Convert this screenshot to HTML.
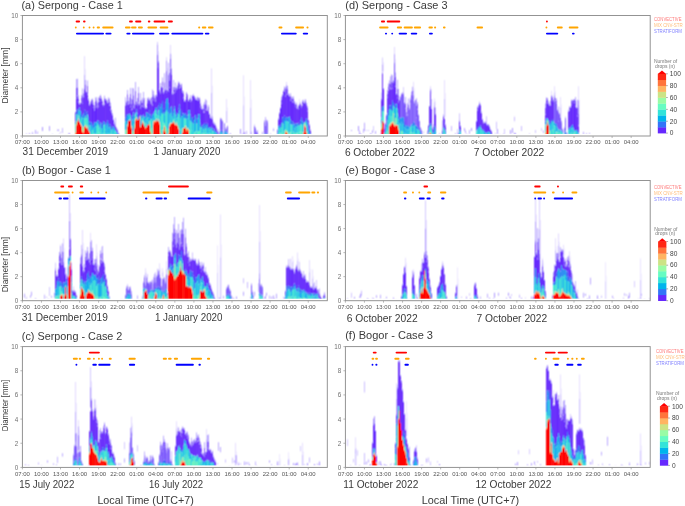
<!DOCTYPE html><html><head><meta charset="utf-8"><style>html,body{margin:0;padding:0;background:#fff;overflow:hidden}svg{display:block;will-change:transform}svg text{font-family:"Liberation Sans",sans-serif}</style></head><body>
<svg width="685" height="506" viewBox="0 0 685 506" font-family="Liberation Sans, sans-serif">
<defs><filter id="bl2" x="0" y="0" width="685" height="506" filterUnits="userSpaceOnUse"><feConvolveMatrix order="3" kernelMatrix="1 2 1 2 12 2 1 2 1" divisor="24" edgeMode="none" preserveAlpha="false"/></filter></defs>
<rect width="685" height="506" fill="#fff"/>
<g >
<defs><filter id="bl" x="0" y="0" width="685" height="506" filterUnits="userSpaceOnUse"><feConvolveMatrix order="3" kernelMatrix="1 2 1 2 4 2 1 2 1" divisor="16" edgeMode="none" preserveAlpha="false"/></filter></defs><g filter="url(#bl)">
<path fill="#fa0000" d="M75 134.3h1v1.7h-1zM127 126.8h1v9.2h-1zM129 120.5h1v15.5h-1zM130 120.5h1v15.5h-1zM139 118.2h1v17.8h-1zM141 120.2h1v15.8h-1zM142 122.6h1v13.4h-1zM143 124.6h1v11.4h-1zM149 125.5h1v10.5h-1zM156 120.6h1v15.4h-1zM158 121.4h1v14.6h-1zM168 134.0h1v2.0h-1zM169 126.7h1v9.3h-1zM172 122.4h1v13.6h-1zM188 132.2h1v3.8h-1zM285 132.6h1v3.4h-1zM306 133.6h1v2.4h-1z"/>
<path fill="#ff7a3a" d="M75 133.2h1v1.1h-1zM81 125.7h1v0.9h-1zM82 131.5h1v1.0h-1zM87 128.0h1v0.9h-1zM89 132.1h1v0.2h-1zM127 125.5h1v1.2h-1zM135 120.2h1v0.9h-1zM136 118.3h1v0.8h-1zM142 121.8h1v0.8h-1zM145 128.3h1v0.7h-1zM153 123.3h1v1.3h-1zM158 120.4h1v1.1h-1zM159 123.4h1v1.1h-1zM165 131.9h1v1.2h-1zM168 133.5h1v0.5h-1zM173 121.9h1v0.9h-1zM186 130.4h1v1.3h-1zM284 134.8h1v0.5h-1zM287 134.0h1v1.2h-1zM306 132.8h1v0.8h-1z"/>
<path fill="#ccd880" d="M75 132.0h1v1.1h-1zM76 124.1h1v0.8h-1zM80 123.4h1v0.5h-1zM81 124.8h1v0.9h-1zM82 130.6h1v1.0h-1zM83 131.4h1v1.1h-1zM84 126.4h1v0.1h-1zM86 126.7h1v0.9h-1zM127 124.3h1v1.2h-1zM130 120.4h1v0.1h-1zM134 127.1h1v1.2h-1zM139 116.5h1v0.8h-1zM140 126.3h1v0.7h-1zM150 130.9h1v1.0h-1zM152 133.5h1v0.6h-1zM156 118.5h1v1.1h-1zM160 132.6h1v1.2h-1zM163 129.3h1v1.1h-1zM165 130.8h1v1.2h-1zM168 132.9h1v0.5h-1zM170 122.7h1v0.9h-1zM171 123.1h1v0.4h-1zM174 122.3h1v1.1h-1zM175 124.3h1v0.5h-1zM285 131.1h1v0.8h-1zM286 130.9h1v0.8h-1zM304 124.2h1v1.1h-1z"/>
<path fill="#60f0c8" d="M75 129.8h1v2.3h-1zM135 114.7h1v4.5h-1zM158 115.1h1v4.1h-1zM163 122.3h1v7.0h-1zM164 123.6h1v2.1h-1zM185 125.4h1v0.7h-1zM284 130.7h1v3.6h-1zM305 122.8h1v3.3h-1z"/>
<path fill="#50ecd0" d="M75 124.0h1v5.7h-1zM84 117.9h1v8.4h-1zM85 115.7h1v7.7h-1zM87 114.5h1v10.6h-1zM89 125.2h1v6.7h-1zM92 129.9h1v4.3h-1zM97 123.6h1v10.4h-1zM98 125.0h1v7.8h-1zM104 124.6h1v8.8h-1zM111 129.7h1v4.5h-1zM115 131.5h1v3.9h-1zM117 133.9h1v2.1h-1zM130 117.4h1v3.0h-1zM140 116.5h1v3.7h-1zM142 118.0h1v2.8h-1zM155 110.0h1v7.3h-1zM162 113.9h1v12.8h-1zM166 110.5h1v17.5h-1zM178 114.1h1v12.1h-1zM184 118.2h1v10.2h-1zM185 118.4h1v7.1h-1zM190 120.8h1v9.3h-1zM196 123.6h1v8.1h-1zM200 127.0h1v6.0h-1zM203 128.8h1v4.6h-1zM205 128.5h1v5.5h-1zM212 130.5h1v3.6h-1zM218 135.6h1v0.4h-1zM219 135.5h1v0.5h-1zM265 134.8h1v1.2h-1zM282 122.8h1v8.6h-1zM291 124.5h1v8.2h-1zM300 124.3h1v7.4h-1zM301 124.2h1v7.6h-1zM304 122.4h1v0.5h-1z"/>
<path fill="#2f8cf2" d="M75 121.5h1v2.6h-1zM82 115.4h1v3.0h-1zM98 120.8h1v4.3h-1zM103 121.2h1v4.1h-1zM107 120.5h1v4.2h-1zM112 127.1h1v1.6h-1zM118 135.0h1v0.5h-1zM132 115.4h1v4.2h-1zM134 115.4h1v2.5h-1zM136 109.3h1v2.8h-1zM143 114.5h1v2.1h-1zM147 112.9h1v4.8h-1zM155 108.1h1v1.9h-1zM158 105.7h1v4.6h-1zM170 107.5h1v6.2h-1zM175 112.0h1v2.8h-1zM176 115.3h1v3.0h-1zM179 104.3h1v6.5h-1zM184 114.7h1v3.5h-1zM185 113.2h1v5.2h-1zM186 115.0h1v3.9h-1zM201 125.4h1v2.3h-1zM203 124.3h1v4.6h-1zM220 130.6h1v1.3h-1zM224 131.3h1v2.2h-1zM264 133.4h1v0.6h-1zM279 125.1h1v2.9h-1zM281 122.9h1v4.2h-1zM285 117.8h1v3.1h-1zM290 119.4h1v4.9h-1zM293 122.6h1v2.0h-1zM294 124.2h1v4.4h-1zM295 123.3h1v3.5h-1zM301 117.8h1v6.4h-1z"/>
<path fill="#6a30fc" d="M75 112.6h1v8.9h-1zM77 96.8h1v12.5h-1zM78 102.4h1v6.8h-1zM79 104.7h1v2.9h-1zM84 89.4h1v20.4h-1zM86 93.0h1v19.4h-1zM87 94.9h1v16.5h-1zM88 100.4h1v16.7h-1zM89 105.5h1v16.7h-1zM91 101.9h1v20.9h-1zM93 107.6h1v16.7h-1zM94 110.6h1v11.6h-1zM98 107.1h1v13.7h-1zM99 101.5h1v22.5h-1zM100 98.6h1v23.9h-1zM101 100.9h1v22.8h-1zM102 104.8h1v19.0h-1zM103 106.2h1v15.0h-1zM104 104.6h1v17.5h-1zM106 101.1h1v22.0h-1zM107 103.2h1v17.2h-1zM108 102.5h1v20.4h-1zM109 105.5h1v18.8h-1zM110 110.3h1v14.4h-1zM111 112.7h1v13.9h-1zM112 115.4h1v11.6h-1zM115 126.7h1v3.6h-1zM116 128.8h1v2.6h-1zM117 131.1h1v1.1h-1zM118 133.3h1v1.8h-1zM125 105.7h1v12.0h-1zM128 104.4h1v9.6h-1zM131 110.2h1v10.5h-1zM132 109.5h1v5.9h-1zM133 107.6h1v4.9h-1zM134 108.4h1v7.0h-1zM135 104.8h1v8.1h-1zM136 103.4h1v5.9h-1zM140 109.0h1v6.3h-1zM141 106.8h1v9.8h-1zM144 107.0h1v10.3h-1zM145 108.4h1v8.4h-1zM146 109.0h1v3.5h-1zM148 99.6h1v13.7h-1zM149 100.6h1v9.5h-1zM150 103.2h1v11.2h-1zM152 105.8h1v8.2h-1zM154 98.2h1v13.4h-1zM155 101.4h1v6.7h-1zM156 96.5h1v11.3h-1zM157 66.4h1v46.2h-1zM159 91.6h1v11.4h-1zM160 93.9h1v13.6h-1zM163 93.7h1v15.1h-1zM164 92.0h1v16.1h-1zM165 90.3h1v12.2h-1zM166 93.0h1v6.0h-1zM167 90.8h1v7.7h-1zM168 91.9h1v11.3h-1zM170 68.7h1v38.8h-1zM171 74.6h1v31.8h-1zM176 90.1h1v25.2h-1zM177 89.0h1v24.3h-1zM178 85.9h1v22.4h-1zM182 92.7h1v20.7h-1zM190 102.0h1v12.6h-1zM192 96.1h1v21.2h-1zM193 96.1h1v22.0h-1zM194 97.9h1v18.6h-1zM197 100.3h1v18.0h-1zM200 108.1h1v15.2h-1zM201 109.0h1v16.4h-1zM203 112.6h1v11.6h-1zM204 112.5h1v10.5h-1zM207 110.4h1v13.3h-1zM211 118.2h1v8.6h-1zM212 119.4h1v9.1h-1zM213 123.3h1v5.3h-1zM214 125.1h1v4.5h-1zM215 125.4h1v5.7h-1zM217 131.6h1v2.4h-1zM278 119.7h1v6.9h-1zM279 114.0h1v11.1h-1zM282 96.3h1v21.0h-1zM283 91.3h1v25.8h-1zM284 91.8h1v23.8h-1zM285 96.4h1v21.5h-1zM287 94.5h1v23.0h-1zM291 101.1h1v20.0h-1zM293 102.3h1v20.3h-1zM294 103.3h1v20.9h-1zM295 106.7h1v16.6h-1zM297 108.6h1v15.0h-1zM300 103.9h1v16.5h-1zM302 105.7h1v15.5h-1zM303 103.1h1v19.9h-1zM304 103.3h1v19.0h-1zM305 101.3h1v19.7h-1zM307 111.3h1v11.3h-1zM310 131.1h1v3.1h-1z"/>
<path fill="#9070fe" d="M75 112.1h1v0.5h-1zM76 97.9h1v0.7h-1zM77 95.3h1v1.5h-1zM78 101.3h1v1.1h-1zM79 104.0h1v0.7h-1zM80 103.0h1v1.1h-1zM81 101.8h1v0.9h-1zM82 102.9h1v0.9h-1zM83 96.4h1v1.1h-1zM84 88.8h1v0.6h-1zM85 89.8h1v1.1h-1zM86 92.1h1v0.9h-1zM87 94.3h1v0.6h-1zM88 99.3h1v1.1h-1zM89 104.5h1v1.1h-1zM90 103.3h1v0.8h-1zM91 100.7h1v1.2h-1zM92 102.6h1v1.4h-1zM93 106.9h1v0.7h-1zM94 109.2h1v1.4h-1zM95 107.2h1v0.5h-1zM96 105.9h1v0.7h-1zM97 107.2h1v1.1h-1zM98 106.4h1v0.6h-1zM99 100.1h1v1.3h-1zM100 97.3h1v1.3h-1zM101 100.1h1v0.8h-1zM102 103.4h1v1.4h-1zM103 104.9h1v1.4h-1zM104 103.5h1v1.1h-1zM105 99.0h1v1.2h-1zM106 99.7h1v1.4h-1zM107 102.3h1v1.0h-1zM108 101.2h1v1.4h-1zM109 104.7h1v0.8h-1zM110 109.0h1v1.3h-1zM111 111.3h1v1.4h-1zM112 114.2h1v1.2h-1zM113 119.4h1v0.8h-1zM114 123.5h1v1.2h-1zM115 125.4h1v1.3h-1zM116 127.4h1v1.4h-1zM117 129.9h1v1.2h-1zM118 132.9h1v0.3h-1zM119 135.5h1v0.5h-1zM125 105.1h1v0.7h-1zM126 101.4h1v1.1h-1zM127 103.5h1v1.4h-1zM128 103.2h1v1.2h-1zM129 103.3h1v0.6h-1zM130 106.0h1v1.2h-1zM131 109.4h1v0.8h-1zM132 108.1h1v1.4h-1zM133 106.5h1v1.1h-1zM134 107.0h1v1.4h-1zM135 103.4h1v1.4h-1zM136 102.0h1v1.4h-1zM137 104.8h1v1.2h-1zM138 102.5h1v1.4h-1zM139 104.3h1v1.1h-1zM140 107.6h1v1.4h-1zM141 105.6h1v1.2h-1zM142 105.5h1v1.4h-1zM143 106.4h1v1.2h-1zM144 105.9h1v1.1h-1zM145 107.8h1v0.7h-1zM146 107.9h1v1.1h-1zM147 101.9h1v1.4h-1zM148 98.2h1v1.4h-1zM149 99.4h1v1.2h-1zM150 101.7h1v1.5h-1zM151 103.7h1v1.0h-1zM152 104.5h1v1.3h-1zM153 99.7h1v0.8h-1zM154 97.3h1v0.9h-1zM155 100.4h1v1.1h-1zM156 95.2h1v1.4h-1zM157 65.9h1v0.5h-1zM158 61.3h1v1.5h-1zM159 90.2h1v1.4h-1zM160 92.8h1v1.1h-1zM161 87.0h1v0.7h-1zM162 86.5h1v1.2h-1zM163 92.3h1v1.4h-1zM164 90.8h1v1.2h-1zM165 89.7h1v0.6h-1zM166 91.9h1v1.1h-1zM167 90.3h1v0.5h-1zM168 90.5h1v1.4h-1zM169 87.3h1v0.9h-1zM170 67.5h1v1.1h-1zM171 73.3h1v1.4h-1zM172 93.5h1v1.4h-1zM173 92.5h1v1.3h-1zM174 92.2h1v1.1h-1zM175 90.9h1v1.1h-1zM176 89.1h1v1.0h-1zM177 88.0h1v1.0h-1zM178 84.9h1v1.0h-1zM179 87.6h1v0.9h-1zM180 87.4h1v0.6h-1zM181 85.8h1v0.6h-1zM182 92.0h1v0.7h-1zM183 97.6h1v1.4h-1zM184 101.1h1v0.9h-1zM185 100.1h1v1.5h-1zM186 95.5h1v1.0h-1zM187 96.9h1v1.2h-1zM188 100.6h1v0.7h-1zM189 98.9h1v0.6h-1zM190 100.9h1v1.0h-1zM191 100.2h1v1.2h-1zM192 95.2h1v0.9h-1zM193 95.3h1v0.9h-1zM194 97.3h1v0.6h-1zM195 98.7h1v1.1h-1zM196 99.4h1v0.6h-1zM197 99.2h1v1.1h-1zM198 99.6h1v1.4h-1zM199 99.1h1v0.7h-1zM200 107.0h1v1.1h-1zM201 108.4h1v0.6h-1zM202 108.9h1v1.1h-1zM203 111.5h1v1.1h-1zM204 111.4h1v1.1h-1zM205 109.2h1v0.7h-1zM206 108.9h1v1.4h-1zM207 109.7h1v0.7h-1zM208 110.6h1v0.9h-1zM209 113.9h1v1.0h-1zM210 117.4h1v1.3h-1zM211 117.5h1v0.7h-1zM212 118.3h1v1.2h-1zM213 122.3h1v0.9h-1zM214 123.8h1v1.4h-1zM215 124.7h1v0.7h-1zM216 127.5h1v1.2h-1zM217 130.8h1v0.7h-1zM218 134.6h1v0.7h-1zM219 134.8h1v0.3h-1zM220 118.3h1v0.9h-1zM221 118.9h1v0.8h-1zM222 120.9h1v1.1h-1zM224 123.0h1v0.6h-1zM225 128.6h1v1.1h-1zM226 128.4h1v1.2h-1zM227 126.1h1v0.7h-1zM254 125.7h1v1.1h-1zM255 127.8h1v0.6h-1zM256 131.6h1v1.4h-1zM257 131.3h1v1.5h-1zM264 121.2h1v1.0h-1zM265 125.4h1v0.6h-1zM266 120.3h1v0.7h-1zM267 121.2h1v1.4h-1zM277 129.4h1v1.5h-1zM278 118.5h1v1.2h-1zM279 112.6h1v1.4h-1zM280 107.5h1v0.8h-1zM281 103.1h1v0.9h-1zM282 94.9h1v1.4h-1zM283 90.6h1v0.7h-1zM284 90.5h1v1.3h-1zM285 94.9h1v1.5h-1zM286 94.2h1v0.6h-1zM287 93.9h1v0.7h-1zM288 94.0h1v1.3h-1zM289 95.5h1v1.1h-1zM290 99.9h1v1.1h-1zM291 100.1h1v1.0h-1zM292 101.4h1v1.0h-1zM293 100.9h1v1.4h-1zM294 102.1h1v1.2h-1zM295 106.0h1v0.7h-1zM296 106.9h1v1.4h-1zM297 108.1h1v0.5h-1zM298 108.2h1v1.1h-1zM299 105.1h1v0.6h-1zM300 103.4h1v0.5h-1zM301 107.1h1v0.9h-1zM302 104.5h1v1.3h-1zM303 102.6h1v0.6h-1zM304 102.6h1v0.7h-1zM305 100.3h1v1.1h-1zM306 104.0h1v1.4h-1zM307 110.7h1v0.5h-1zM308 119.9h1v1.1h-1zM309 125.0h1v1.4h-1zM310 130.3h1v0.7h-1zM311 135.5h1v0.4h-1z"/>
<path fill="#cfc4ff" d="M75 111.5h1v0.6h-1zM76 97.0h1v0.9h-1zM77 94.3h1v1.0h-1zM78 99.8h1v1.4h-1zM79 102.6h1v1.4h-1zM80 102.5h1v0.4h-1zM81 101.4h1v0.3h-1zM82 102.3h1v0.6h-1zM83 95.6h1v0.8h-1zM84 88.3h1v0.6h-1zM85 88.5h1v1.2h-1zM86 91.8h1v0.3h-1zM87 93.7h1v0.6h-1zM88 98.1h1v1.2h-1zM89 103.5h1v0.9h-1zM90 102.6h1v0.7h-1zM91 99.5h1v1.2h-1zM92 101.4h1v1.2h-1zM93 105.5h1v1.4h-1zM94 108.2h1v1.0h-1zM95 106.7h1v0.5h-1zM96 105.3h1v0.6h-1zM97 106.4h1v0.8h-1zM98 105.8h1v0.7h-1zM99 98.8h1v1.3h-1zM100 96.0h1v1.3h-1zM101 98.9h1v1.2h-1zM102 102.3h1v1.1h-1zM103 103.6h1v1.3h-1zM104 102.5h1v0.9h-1zM105 98.4h1v0.6h-1zM106 98.5h1v1.2h-1zM107 100.8h1v1.5h-1zM108 100.3h1v0.9h-1zM109 104.0h1v0.8h-1zM110 108.7h1v0.3h-1zM111 110.4h1v0.9h-1zM112 113.1h1v1.1h-1zM113 118.3h1v1.0h-1zM114 122.0h1v1.5h-1zM115 124.4h1v1.1h-1zM116 127.0h1v0.3h-1zM117 128.8h1v1.1h-1zM118 132.3h1v0.6h-1zM119 134.1h1v1.4h-1zM125 104.0h1v1.1h-1zM126 100.4h1v1.1h-1zM127 102.9h1v0.6h-1zM128 102.7h1v0.5h-1zM129 102.8h1v0.5h-1zM130 104.9h1v1.1h-1zM131 108.7h1v0.7h-1zM132 107.7h1v0.4h-1zM133 105.9h1v0.6h-1zM134 105.6h1v1.4h-1zM135 102.2h1v1.2h-1zM136 100.7h1v1.3h-1zM137 104.1h1v0.7h-1zM138 101.1h1v1.4h-1zM139 103.2h1v1.0h-1zM140 107.1h1v0.5h-1zM141 104.3h1v1.3h-1zM142 104.2h1v1.3h-1zM143 104.9h1v1.4h-1zM144 104.9h1v1.0h-1zM145 107.0h1v0.8h-1zM146 106.9h1v0.9h-1zM147 100.4h1v1.5h-1zM148 96.9h1v1.3h-1zM149 98.5h1v0.9h-1zM150 100.6h1v1.2h-1zM151 102.9h1v0.7h-1zM152 103.4h1v1.2h-1zM153 99.1h1v0.6h-1zM154 95.9h1v1.4h-1zM155 99.3h1v1.1h-1zM156 94.6h1v0.6h-1zM157 65.2h1v0.7h-1zM158 60.6h1v0.7h-1zM159 89.5h1v0.6h-1zM160 92.0h1v0.8h-1zM161 86.3h1v0.7h-1zM162 85.6h1v0.8h-1zM163 91.3h1v1.0h-1zM164 89.9h1v0.9h-1zM165 88.4h1v1.3h-1zM166 91.2h1v0.7h-1zM167 89.5h1v0.8h-1zM168 89.9h1v0.7h-1zM169 86.8h1v0.4h-1zM170 66.6h1v0.9h-1zM171 71.9h1v1.4h-1zM172 92.1h1v1.4h-1zM173 91.3h1v1.2h-1zM174 91.4h1v0.8h-1zM175 90.5h1v0.4h-1zM176 88.0h1v1.2h-1zM177 86.5h1v1.5h-1zM178 84.3h1v0.6h-1zM179 87.1h1v0.5h-1zM180 87.0h1v0.5h-1zM181 84.4h1v1.3h-1zM182 90.5h1v1.5h-1zM183 96.8h1v0.8h-1zM184 100.5h1v0.6h-1zM185 99.3h1v0.8h-1zM186 94.3h1v1.2h-1zM187 96.0h1v0.9h-1zM188 100.0h1v0.5h-1zM189 97.7h1v1.3h-1zM190 99.7h1v1.2h-1zM191 99.5h1v0.7h-1zM192 94.7h1v0.5h-1zM193 93.8h1v1.4h-1zM194 96.3h1v1.0h-1zM195 98.2h1v0.5h-1zM196 98.6h1v0.8h-1zM197 98.4h1v0.8h-1zM198 98.3h1v1.4h-1zM199 97.7h1v1.4h-1zM200 106.5h1v0.5h-1zM201 107.4h1v1.1h-1zM202 108.4h1v0.5h-1zM203 111.2h1v0.3h-1zM204 110.5h1v0.9h-1zM205 108.5h1v0.7h-1zM206 107.5h1v1.4h-1zM207 108.7h1v1.1h-1zM208 109.5h1v1.0h-1zM209 113.3h1v0.6h-1zM210 116.2h1v1.2h-1zM211 116.5h1v0.9h-1zM212 117.5h1v0.8h-1zM213 121.5h1v0.9h-1zM214 122.6h1v1.2h-1zM215 123.4h1v1.3h-1zM216 126.5h1v0.9h-1zM217 129.5h1v1.3h-1zM218 133.1h1v1.5h-1zM219 134.2h1v0.6h-1zM220 117.8h1v0.5h-1zM221 118.1h1v0.7h-1zM222 120.3h1v0.7h-1zM224 122.7h1v0.3h-1zM225 127.3h1v1.3h-1zM226 127.3h1v1.1h-1zM227 125.3h1v0.7h-1zM254 124.4h1v1.3h-1zM255 126.9h1v0.9h-1zM256 130.2h1v1.3h-1zM257 129.9h1v1.5h-1zM264 120.0h1v1.2h-1zM265 124.6h1v0.8h-1zM266 119.5h1v0.7h-1zM267 120.3h1v0.9h-1zM277 129.0h1v0.4h-1zM278 117.7h1v0.8h-1zM279 112.0h1v0.6h-1zM280 106.9h1v0.6h-1zM281 101.8h1v1.3h-1zM282 94.1h1v0.8h-1zM283 90.0h1v0.6h-1zM284 89.5h1v1.0h-1zM285 94.0h1v0.9h-1zM286 93.4h1v0.7h-1zM287 93.2h1v0.6h-1zM288 93.0h1v1.0h-1zM289 94.4h1v1.1h-1zM290 99.2h1v0.6h-1zM291 99.3h1v0.8h-1zM292 100.6h1v0.8h-1zM293 99.5h1v1.4h-1zM294 101.0h1v1.1h-1zM295 104.5h1v1.4h-1zM296 105.5h1v1.4h-1zM297 106.6h1v1.5h-1zM298 107.3h1v0.9h-1zM299 104.8h1v0.3h-1zM300 102.3h1v1.1h-1zM301 106.3h1v0.8h-1zM302 103.4h1v1.1h-1zM303 102.0h1v0.6h-1zM304 101.3h1v1.2h-1zM305 99.9h1v0.3h-1zM306 102.7h1v1.3h-1zM307 109.8h1v1.0h-1zM308 119.5h1v0.3h-1zM309 124.1h1v0.8h-1zM310 129.1h1v1.3h-1zM311 134.7h1v0.8h-1z"/>
<path fill="#ff0000" d="M76 125.6h1v10.4h-1zM79 121.6h1v14.4h-1zM80 124.4h1v11.6h-1zM81 126.6h1v9.4h-1zM82 132.5h1v3.5h-1zM84 126.6h1v9.4h-1zM128 120.5h1v15.5h-1zM144 125.5h1v10.5h-1zM147 124.8h1v11.2h-1zM150 132.9h1v3.1h-1zM154 121.8h1v14.2h-1zM159 124.5h1v11.5h-1zM164 127.1h1v8.9h-1zM165 133.1h1v2.9h-1zM173 122.8h1v13.2h-1zM187 129.5h1v6.5h-1zM284 135.3h1v0.7h-1zM286 132.4h1v3.6h-1zM287 135.2h1v0.8h-1z"/>
<path fill="#ff6030" d="M76 124.8h1v0.8h-1zM80 123.9h1v0.5h-1zM83 132.6h1v1.1h-1zM84 126.5h1v0.1h-1zM129 120.0h1v0.5h-1zM134 128.3h1v1.2h-1zM140 126.9h1v0.7h-1zM152 134.2h1v0.6h-1zM160 133.9h1v1.2h-1zM169 126.2h1v0.5h-1zM174 123.4h1v1.1h-1zM176 124.5h1v1.3h-1zM177 125.7h1v0.2h-1zM178 128.8h1v0.9h-1zM182 132.4h1v0.7h-1zM183 128.3h1v0.5h-1zM185 127.1h1v1.0h-1zM188 130.9h1v1.3h-1z"/>
<path fill="#a0f0a0" d="M76 121.4h1v2.7h-1zM83 127.1h1v4.3h-1zM87 125.1h1v2.0h-1zM131 125.5h1v1.1h-1zM142 120.8h1v0.2h-1zM149 120.9h1v3.0h-1zM153 120.6h1v1.4h-1zM165 127.2h1v3.5h-1zM169 123.9h1v1.8h-1zM182 128.2h1v3.5h-1zM287 131.7h1v1.0h-1z"/>
<path fill="#40e0d8" d="M76 114.0h1v7.4h-1zM81 117.3h1v3.6h-1zM86 118.3h1v8.5h-1zM90 133.1h1v2.9h-1zM92 134.2h1v1.8h-1zM96 126.0h1v7.4h-1zM98 132.8h1v3.2h-1zM99 127.6h1v5.2h-1zM101 133.4h1v2.6h-1zM101 128.3h1v5.0h-1zM109 134.4h1v1.6h-1zM114 130.9h1v4.4h-1zM115 135.5h1v0.5h-1zM135 113.4h1v1.4h-1zM147 117.7h1v7.4h-1zM150 118.9h1v5.0h-1zM151 119.6h1v8.8h-1zM158 110.4h1v4.8h-1zM160 115.9h1v9.7h-1zM161 112.8h1v17.5h-1zM165 112.0h1v15.2h-1zM191 122.8h1v7.5h-1zM193 130.0h1v6.0h-1zM193 123.5h1v6.5h-1zM200 133.1h1v2.9h-1zM206 133.4h1v2.6h-1zM208 134.0h1v2.0h-1zM213 134.5h1v1.5h-1zM213 131.5h1v3.0h-1zM217 134.9h1v1.0h-1zM221 132.2h1v3.8h-1zM277 134.4h1v1.2h-1zM279 128.0h1v5.1h-1zM280 133.7h1v2.3h-1zM287 121.3h1v10.4h-1zM288 131.8h1v4.2h-1zM290 124.3h1v7.9h-1zM291 132.7h1v3.3h-1zM295 132.9h1v3.1h-1zM297 126.3h1v7.1h-1zM299 125.7h1v6.9h-1zM302 132.6h1v3.4h-1zM307 131.5h1v4.5h-1zM310 134.9h1v0.8h-1zM311 135.9h1v0.1h-1z"/>
<path fill="#4a58f8" d="M76 110.5h1v3.5h-1zM78 109.3h1v1.5h-1zM81 114.1h1v3.2h-1zM84 109.8h1v8.2h-1zM85 110.3h1v5.5h-1zM87 111.4h1v3.1h-1zM99 123.9h1v3.6h-1zM111 126.6h1v3.2h-1zM116 131.3h1v1.3h-1zM137 113.5h1v4.1h-1zM141 116.6h1v2.2h-1zM163 108.8h1v4.0h-1zM164 108.1h1v6.1h-1zM173 109.9h1v3.8h-1zM178 108.3h1v5.8h-1zM180 109.4h1v8.6h-1zM182 113.4h1v3.0h-1zM187 115.5h1v3.1h-1zM193 118.1h1v5.4h-1zM194 116.4h1v3.7h-1zM196 119.0h1v4.6h-1zM200 123.3h1v3.7h-1zM205 124.0h1v4.5h-1zM206 122.7h1v2.2h-1zM208 126.1h1v2.0h-1zM266 133.9h1v0.5h-1zM280 125.5h1v2.2h-1zM287 117.5h1v3.8h-1zM298 122.9h1v2.4h-1zM299 123.6h1v2.1h-1zM308 128.3h1v2.1h-1zM309 132.1h1v0.8h-1zM311 135.8h1v0.1h-1z"/>
<path fill="#6228fe" d="M76 98.6h1v11.9h-1zM92 104.0h1v21.7h-1zM95 107.7h1v15.1h-1zM96 106.6h1v15.5h-1zM113 120.2h1v6.2h-1zM130 107.2h1v8.3h-1zM139 105.4h1v11.1h-1zM142 106.8h1v9.0h-1zM143 107.5h1v7.0h-1zM147 103.2h1v9.6h-1zM153 100.6h1v12.0h-1zM158 62.8h1v43.0h-1zM162 87.6h1v13.5h-1zM169 88.2h1v20.9h-1zM175 91.9h1v20.0h-1zM181 86.4h1v24.5h-1zM183 99.0h1v14.2h-1zM184 102.0h1v12.7h-1zM185 101.6h1v11.6h-1zM188 101.2h1v9.2h-1zM189 99.6h1v10.6h-1zM195 99.7h1v15.3h-1zM196 100.0h1v19.0h-1zM198 101.0h1v13.3h-1zM202 110.1h1v15.6h-1zM209 114.9h1v12.7h-1zM210 118.6h1v9.2h-1zM280 108.3h1v17.2h-1zM281 104.1h1v18.9h-1zM288 95.3h1v22.1h-1zM290 100.9h1v18.5h-1zM292 102.4h1v18.9h-1zM299 105.7h1v18.0h-1z"/>
<path fill="#6a38fc" fill-opacity="0.85" d="M76 87.8h1v10.1h-1zM77 87.5h1v7.8h-1zM78 98.8h1v2.5h-1zM81 97.7h1v4.1h-1zM82 95.9h1v7.0h-1zM85 84.6h1v5.1h-1zM87 85.7h1v8.6h-1zM92 99.8h1v2.8h-1zM93 104.9h1v2.0h-1zM95 101.4h1v5.8h-1zM96 100.2h1v5.7h-1zM98 102.0h1v4.4h-1zM99 97.7h1v2.5h-1zM100 96.2h1v1.1h-1zM101 98.9h1v1.2h-1zM102 101.8h1v1.6h-1zM104 98.3h1v5.2h-1zM108 99.3h1v1.9h-1zM109 101.2h1v3.6h-1zM110 105.9h1v3.1h-1zM127 94.3h1v9.2h-1zM130 93.9h1v12.1h-1zM131 104.0h1v5.4h-1zM132 99.6h1v8.5h-1zM133 95.3h1v11.3h-1zM135 91.1h1v12.3h-1zM138 92.8h1v9.8h-1zM140 100.5h1v7.1h-1zM141 102.5h1v3.2h-1zM142 102.4h1v3.1h-1zM143 99.7h1v6.7h-1zM152 97.1h1v7.4h-1zM153 94.6h1v5.1h-1zM157 54.6h1v11.3h-1zM162 81.5h1v5.0h-1zM164 82.3h1v8.5h-1zM166 70.7h1v21.2h-1zM168 74.7h1v15.8h-1zM169 80.4h1v6.8h-1zM170 58.9h1v8.7h-1zM173 86.9h1v5.6h-1zM174 89.9h1v2.3h-1zM175 87.2h1v3.7h-1zM178 82.8h1v2.1h-1zM179 84.1h1v3.5h-1zM181 84.8h1v0.9h-1zM183 93.5h1v4.1h-1zM186 93.6h1v1.8h-1zM187 95.3h1v1.6h-1zM190 98.1h1v2.9h-1zM194 96.6h1v0.6h-1zM195 97.9h1v0.7h-1zM197 97.5h1v1.7h-1zM198 98.6h1v1.0h-1zM199 98.4h1v0.7h-1zM203 108.4h1v3.1h-1zM204 105.0h1v6.4h-1zM205 103.7h1v5.5h-1zM206 105.2h1v3.7h-1zM208 107.0h1v3.6h-1zM281 99.7h1v3.4h-1zM284 88.6h1v1.9h-1zM285 89.6h1v5.3h-1zM286 88.5h1v5.7h-1zM287 89.0h1v4.9h-1zM290 96.2h1v3.6h-1zM291 98.6h1v1.5h-1zM292 99.0h1v2.4h-1zM293 98.7h1v2.2h-1zM295 104.9h1v1.1h-1zM296 104.6h1v2.3h-1zM298 106.3h1v1.9h-1zM302 102.1h1v2.3h-1zM303 101.4h1v1.2h-1zM305 99.7h1v0.5h-1zM307 108.0h1v2.8h-1z"/>
<path fill="#9074ff" fill-opacity="0.6" d="M76 79.0h1v8.8h-1zM77 78.7h1v8.8h-1zM78 95.3h1v3.5h-1zM81 94.9h1v2.8h-1zM82 88.5h1v7.5h-1zM85 80.0h1v4.6h-1zM87 80.5h1v5.2h-1zM92 98.6h1v1.2h-1zM93 102.1h1v2.9h-1zM95 97.4h1v4.0h-1zM96 97.2h1v3.0h-1zM98 97.6h1v4.5h-1zM99 96.3h1v1.3h-1zM100 94.8h1v1.4h-1zM101 97.3h1v1.7h-1zM102 100.2h1v1.6h-1zM104 95.8h1v2.5h-1zM108 97.5h1v1.8h-1zM109 98.4h1v2.8h-1zM110 102.8h1v3.1h-1zM127 90.0h1v4.3h-1zM130 88.1h1v5.8h-1zM131 98.7h1v5.3h-1zM132 88.0h1v11.6h-1zM133 88.5h1v6.8h-1zM135 82.1h1v9.1h-1zM138 87.0h1v5.8h-1zM140 92.9h1v7.6h-1zM141 99.9h1v2.6h-1zM142 98.0h1v4.4h-1zM143 91.9h1v7.8h-1zM152 89.5h1v7.6h-1zM153 90.9h1v3.7h-1zM157 44.8h1v9.8h-1zM162 77.5h1v3.9h-1zM164 73.3h1v9.0h-1zM166 60.7h1v10.0h-1zM168 62.7h1v12.0h-1zM169 73.0h1v7.4h-1zM170 53.7h1v5.2h-1zM173 80.1h1v6.8h-1zM174 87.3h1v2.6h-1zM175 82.6h1v4.5h-1zM178 81.4h1v1.4h-1zM179 82.5h1v1.6h-1zM181 83.5h1v1.4h-1zM183 91.5h1v2.0h-1zM186 91.9h1v1.8h-1zM187 94.0h1v1.3h-1zM190 95.2h1v2.9h-1zM194 95.9h1v0.7h-1zM195 97.5h1v0.4h-1zM197 96.6h1v0.9h-1zM198 98.1h1v0.5h-1zM199 97.5h1v1.0h-1zM203 104.3h1v4.1h-1zM204 102.0h1v3.0h-1zM205 99.2h1v4.4h-1zM206 100.3h1v4.9h-1zM208 104.9h1v2.1h-1zM281 96.8h1v2.9h-1zM284 86.4h1v2.2h-1zM285 87.3h1v2.3h-1zM286 85.3h1v3.2h-1zM287 86.0h1v3.0h-1zM290 93.3h1v2.9h-1zM291 96.5h1v2.1h-1zM292 96.7h1v2.3h-1zM293 96.5h1v2.3h-1zM295 103.4h1v1.5h-1zM296 102.6h1v2.0h-1zM298 104.7h1v1.6h-1zM302 100.2h1v1.9h-1zM303 99.8h1v1.6h-1zM305 99.2h1v0.5h-1zM307 106.0h1v1.9h-1z"/>
<path fill="#ff0a0a" d="M77 121.2h1v14.8h-1zM83 133.7h1v2.3h-1zM85 127.5h1v8.5h-1zM89 132.3h1v3.7h-1zM134 129.5h1v6.5h-1zM135 121.1h1v14.9h-1zM138 119.2h1v16.8h-1zM140 127.6h1v8.4h-1zM145 129.0h1v7.0h-1zM148 123.8h1v12.2h-1zM152 134.8h1v1.2h-1zM160 135.1h1v0.9h-1zM163 131.6h1v4.4h-1zM174 124.5h1v11.5h-1zM175 125.3h1v10.7h-1zM176 125.8h1v10.2h-1zM177 125.9h1v10.1h-1zM178 129.7h1v6.3h-1zM184 128.0h1v8.0h-1zM303 133.9h1v2.1h-1zM304 126.4h1v9.6h-1zM305 127.5h1v8.5h-1z"/>
<path fill="#30c8e4" d="M77 114.8h1v6.5h-1zM79 110.6h1v11.4h-1zM91 127.1h1v5.9h-1zM100 134.0h1v2.0h-1zM107 133.5h1v2.5h-1zM107 124.7h1v8.8h-1zM109 126.7h1v7.7h-1zM116 132.6h1v3.1h-1zM126 120.9h1v8.2h-1zM129 114.0h1v1.9h-1zM132 119.6h1v11.4h-1zM136 112.2h1v5.4h-1zM137 117.6h1v4.5h-1zM145 119.6h1v3.4h-1zM167 128.2h1v7.8h-1zM167 111.9h1v16.3h-1zM171 112.7h1v10.4h-1zM176 118.3h1v3.1h-1zM179 129.4h1v6.6h-1zM181 130.7h1v5.3h-1zM181 116.1h1v14.6h-1zM189 114.7h1v15.6h-1zM192 130.0h1v6.0h-1zM196 131.7h1v4.3h-1zM199 119.1h1v11.8h-1zM201 127.7h1v5.9h-1zM205 134.0h1v2.0h-1zM206 124.9h1v8.5h-1zM208 128.1h1v5.9h-1zM210 129.7h1v4.0h-1zM211 128.2h1v5.9h-1zM215 132.3h1v2.8h-1zM216 133.0h1v2.3h-1zM222 133.2h1v2.8h-1zM224 133.5h1v2.5h-1zM226 132.5h1v3.5h-1zM264 134.1h1v1.9h-1zM283 124.6h1v8.3h-1zM288 122.2h1v9.7h-1zM292 131.8h1v4.2h-1zM292 124.7h1v7.1h-1zM306 124.3h1v5.7h-1zM309 134.4h1v1.6h-1z"/>
<path fill="#3f6cf6" d="M77 109.3h1v5.5h-1zM88 117.1h1v3.8h-1zM93 124.3h1v3.6h-1zM102 123.8h1v4.1h-1zM108 122.9h1v4.8h-1zM109 124.3h1v2.4h-1zM110 124.8h1v3.0h-1zM117 132.2h1v1.7h-1zM149 110.1h1v4.7h-1zM153 112.5h1v2.0h-1zM157 112.6h1v2.3h-1zM159 103.0h1v7.1h-1zM162 101.1h1v12.8h-1zM165 102.5h1v9.5h-1zM181 110.8h1v5.2h-1zM192 117.3h1v4.7h-1zM212 128.5h1v2.0h-1zM214 129.7h1v1.0h-1zM215 131.1h1v1.2h-1zM222 130.9h1v2.4h-1zM267 133.6h1v0.8h-1zM284 115.6h1v5.3h-1zM291 121.1h1v3.4h-1zM292 121.3h1v3.4h-1zM300 120.4h1v3.9h-1zM304 122.2h1v0.2h-1zM305 121.0h1v0.7h-1zM310 134.2h1v0.7h-1z"/>
<path fill="#ff1408" d="M78 120.2h1v15.8h-1zM86 128.6h1v7.4h-1zM87 129.0h1v7.0h-1zM88 130.2h1v5.8h-1zM131 129.0h1v7.0h-1zM136 119.0h1v17.0h-1zM137 120.0h1v16.0h-1zM146 125.1h1v10.9h-1zM153 124.5h1v11.5h-1zM155 122.2h1v13.8h-1zM157 120.2h1v15.8h-1zM170 124.6h1v11.4h-1zM171 123.9h1v12.1h-1zM182 133.1h1v2.9h-1zM183 128.8h1v7.2h-1zM185 128.2h1v7.8h-1zM186 131.6h1v4.4h-1z"/>
<path fill="#ff8040" d="M78 119.3h1v0.9h-1zM85 126.2h1v1.2h-1zM86 127.7h1v0.9h-1zM130 120.5h1v0.1h-1zM131 127.8h1v1.2h-1zM139 117.3h1v0.8h-1zM143 123.9h1v0.8h-1zM149 124.7h1v0.8h-1zM150 131.9h1v1.0h-1zM154 121.1h1v0.7h-1zM155 121.6h1v0.6h-1zM156 119.6h1v1.1h-1zM163 130.4h1v1.1h-1zM164 126.4h1v0.7h-1zM170 123.7h1v0.9h-1zM171 123.5h1v0.4h-1zM175 124.8h1v0.5h-1zM187 128.9h1v0.7h-1zM285 131.8h1v0.8h-1zM286 131.7h1v0.8h-1zM303 133.0h1v0.9h-1zM304 125.3h1v1.1h-1zM305 126.8h1v0.7h-1z"/>
<path fill="#e8d070" d="M78 118.4h1v0.9h-1zM85 125.0h1v1.2h-1zM87 127.1h1v0.9h-1zM89 131.8h1v0.2h-1zM129 119.5h1v0.5h-1zM135 119.3h1v0.9h-1zM136 117.5h1v0.8h-1zM142 121.0h1v0.8h-1zM143 123.1h1v0.8h-1zM149 123.9h1v0.8h-1zM155 121.0h1v0.6h-1zM158 119.3h1v1.1h-1zM164 125.7h1v0.7h-1zM169 125.6h1v0.5h-1zM173 121.0h1v0.9h-1zM182 131.8h1v0.7h-1zM183 127.7h1v0.5h-1zM185 126.1h1v1.0h-1zM284 134.3h1v0.5h-1zM287 132.8h1v1.2h-1zM305 126.1h1v0.7h-1z"/>
<path fill="#80f4b4" d="M78 115.4h1v3.0h-1zM82 126.6h1v4.0h-1zM93 134.2h1v1.8h-1zM99 132.8h1v3.2h-1zM126 129.1h1v6.9h-1zM133 130.6h1v5.4h-1zM134 124.1h1v3.1h-1zM143 121.6h1v1.5h-1zM145 123.0h1v4.5h-1zM151 128.4h1v7.6h-1zM168 128.5h1v4.4h-1zM176 121.5h1v1.8h-1zM178 126.1h1v1.8h-1zM186 126.8h1v2.3h-1zM189 130.3h1v5.7h-1zM211 134.1h1v1.9h-1zM214 134.7h1v1.3h-1zM215 135.1h1v0.9h-1zM217 135.8h1v0.2h-1zM279 133.1h1v2.9h-1zM285 129.2h1v1.9h-1zM289 132.7h1v3.3h-1zM290 132.2h1v3.8h-1zM296 132.7h1v3.3h-1zM297 133.4h1v2.6h-1zM300 131.7h1v4.3h-1zM304 122.9h1v1.2h-1zM308 134.2h1v1.8h-1z"/>
<path fill="#2fb8ea" d="M78 110.7h1v4.7h-1zM82 118.4h1v8.1h-1zM83 116.9h1v10.2h-1zM90 125.6h1v7.5h-1zM94 127.6h1v5.8h-1zM105 129.5h1v4.5h-1zM106 126.8h1v6.6h-1zM110 127.8h1v5.9h-1zM112 128.7h1v5.8h-1zM131 122.1h1v3.4h-1zM141 118.8h1v5.8h-1zM146 115.7h1v11.3h-1zM156 110.1h1v4.2h-1zM159 110.1h1v10.4h-1zM168 112.5h1v16.0h-1zM169 114.0h1v9.8h-1zM173 113.8h1v5.7h-1zM192 122.0h1v8.0h-1zM197 123.7h1v8.1h-1zM202 127.7h1v6.1h-1zM204 126.1h1v7.1h-1zM207 128.0h1v5.6h-1zM214 130.7h1v4.0h-1zM256 135.1h1v0.9h-1zM267 134.4h1v1.6h-1zM289 121.8h1v10.9h-1zM293 124.6h1v6.9h-1zM294 128.6h1v4.6h-1zM296 126.3h1v6.4h-1zM309 132.9h1v1.5h-1z"/>
<path fill="#20a0f0" d="M79 107.7h1v2.9h-1zM83 113.5h1v3.4h-1zM91 122.8h1v4.3h-1zM94 122.2h1v5.3h-1zM95 122.7h1v3.6h-1zM97 120.5h1v3.1h-1zM100 122.5h1v2.3h-1zM104 122.1h1v2.5h-1zM106 123.0h1v3.8h-1zM113 126.4h1v3.4h-1zM127 114.2h1v2.9h-1zM131 120.8h1v1.3h-1zM133 112.6h1v8.1h-1zM142 115.8h1v2.2h-1zM144 117.3h1v4.4h-1zM152 114.1h1v4.1h-1zM154 111.6h1v1.6h-1zM156 107.9h1v2.2h-1zM160 107.5h1v8.4h-1zM161 103.9h1v9.0h-1zM166 99.0h1v11.6h-1zM171 106.4h1v6.3h-1zM174 106.2h1v3.1h-1zM177 113.3h1v4.3h-1zM188 110.5h1v3.8h-1zM191 118.1h1v4.7h-1zM195 115.0h1v3.5h-1zM197 118.3h1v5.4h-1zM199 114.3h1v4.8h-1zM209 127.7h1v1.8h-1zM210 127.8h1v1.9h-1zM217 134.0h1v0.9h-1zM219 135.1h1v0.4h-1zM226 131.3h1v1.2h-1zM277 133.3h1v1.1h-1zM286 117.1h1v3.9h-1zM288 117.4h1v4.7h-1zM302 121.2h1v3.8h-1zM306 118.6h1v5.7h-1zM307 122.6h1v3.2h-1z"/>
<path fill="#40e4d4" d="M80 119.7h1v3.6h-1zM91 133.0h1v3.0h-1zM102 133.7h1v2.3h-1zM106 133.5h1v2.5h-1zM132 131.0h1v5.0h-1zM152 125.1h1v8.5h-1zM156 114.4h1v4.2h-1zM161 130.4h1v5.6h-1zM162 126.7h1v9.3h-1zM174 119.2h1v3.1h-1zM175 124.0h1v0.3h-1zM188 127.7h1v1.9h-1zM190 130.1h1v5.9h-1zM191 130.3h1v5.7h-1zM201 133.6h1v2.4h-1zM278 134.7h1v1.3h-1zM283 132.9h1v3.1h-1zM298 132.5h1v3.5h-1zM299 132.6h1v3.4h-1zM306 130.0h1v1.9h-1zM310 135.7h1v0.3h-1z"/>
<path fill="#14b0ec" d="M80 114.5h1v5.3h-1zM80 110.9h1v3.5h-1zM88 120.9h1v9.4h-1zM92 125.7h1v4.2h-1zM95 126.3h1v8.1h-1zM96 122.2h1v3.8h-1zM102 127.9h1v5.8h-1zM105 125.1h1v4.4h-1zM108 127.7h1v5.9h-1zM114 127.9h1v3.0h-1zM115 130.4h1v1.1h-1zM125 121.6h1v8.5h-1zM127 117.1h1v6.8h-1zM128 115.5h1v5.2h-1zM129 113.4h1v0.6h-1zM130 115.6h1v1.8h-1zM133 120.7h1v9.9h-1zM135 113.0h1v0.4h-1zM140 115.3h1v1.2h-1zM145 116.8h1v2.8h-1zM146 112.5h1v3.2h-1zM148 117.5h1v7.1h-1zM149 114.9h1v6.0h-1zM153 114.6h1v6.1h-1zM164 114.2h1v9.4h-1zM167 98.5h1v13.4h-1zM182 116.4h1v11.8h-1zM183 113.2h1v4.8h-1zM187 118.6h1v9.6h-1zM189 110.1h1v4.6h-1zM194 120.2h1v12.6h-1zM195 118.5h1v13.0h-1zM198 118.7h1v12.4h-1zM198 114.3h1v4.3h-1zM218 135.4h1v0.3h-1zM220 131.9h1v4.1h-1zM225 133.3h1v2.7h-1zM225 130.8h1v2.5h-1zM227 132.9h1v1.3h-1zM257 135.1h1v0.9h-1zM257 134.5h1v0.5h-1zM278 126.6h1v2.4h-1zM284 120.9h1v9.8h-1zM289 116.5h1v5.3h-1zM297 123.6h1v2.7h-1zM303 123.0h1v0.9h-1zM308 130.3h1v3.9h-1z"/>
<path fill="#7038fa" d="M80 104.1h1v6.9h-1zM81 102.7h1v11.4h-1zM82 103.8h1v11.6h-1zM83 97.5h1v16.0h-1zM85 90.8h1v19.4h-1zM90 104.1h1v17.7h-1zM97 108.3h1v12.2h-1zM105 100.2h1v24.8h-1zM114 124.7h1v3.2h-1zM126 102.6h1v12.5h-1zM127 104.9h1v9.4h-1zM129 103.9h1v9.5h-1zM137 106.0h1v7.5h-1zM138 103.9h1v15.3h-1zM151 104.6h1v11.6h-1zM161 87.8h1v16.1h-1zM172 95.0h1v16.7h-1zM173 93.8h1v16.1h-1zM174 93.2h1v13.0h-1zM179 88.5h1v15.8h-1zM180 88.0h1v21.4h-1zM186 96.5h1v18.5h-1zM187 98.2h1v17.4h-1zM191 101.3h1v16.8h-1zM199 99.8h1v14.5h-1zM205 109.9h1v14.1h-1zM206 110.4h1v12.3h-1zM208 111.4h1v14.7h-1zM216 128.7h1v3.7h-1zM286 94.7h1v22.4h-1zM289 96.6h1v19.8h-1zM296 108.3h1v15.5h-1zM298 109.3h1v13.5h-1zM301 108.0h1v9.8h-1zM306 105.4h1v13.2h-1zM308 121.0h1v7.3h-1zM309 126.3h1v5.7h-1z"/>
<path fill="#38d4e0" d="M81 120.9h1v3.9h-1zM93 127.9h1v6.2h-1zM100 124.8h1v9.1h-1zM103 125.3h1v8.4h-1zM113 129.8h1v4.9h-1zM118 135.5h1v0.5h-1zM129 115.9h1v3.6h-1zM134 118.0h1v6.1h-1zM140 120.2h1v6.1h-1zM143 116.6h1v5.0h-1zM144 121.7h1v4.8h-1zM152 118.1h1v7.0h-1zM154 115.7h1v4.7h-1zM154 113.2h1v2.5h-1zM155 117.3h1v3.7h-1zM157 115.0h1v6.2h-1zM159 120.4h1v1.8h-1zM163 112.8h1v9.5h-1zM170 113.7h1v7.3h-1zM172 116.7h1v6.1h-1zM174 109.3h1v10.0h-1zM175 114.7h1v9.2h-1zM177 117.6h1v7.9h-1zM179 110.8h1v18.6h-1zM180 118.0h1v11.2h-1zM183 118.0h1v9.7h-1zM186 118.8h1v8.0h-1zM188 114.2h1v13.5h-1zM209 129.4h1v4.2h-1zM227 134.2h1v1.8h-1zM254 135.1h1v0.9h-1zM255 135.2h1v0.8h-1zM266 134.4h1v1.6h-1zM278 129.1h1v5.6h-1zM280 127.6h1v6.0h-1zM281 127.1h1v6.2h-1zM285 120.9h1v8.3h-1zM286 121.1h1v9.0h-1zM295 126.8h1v6.1h-1zM298 125.3h1v7.2h-1zM302 125.0h1v7.6h-1zM303 125.8h1v6.4h-1zM303 124.0h1v1.8h-1zM305 121.7h1v1.1h-1zM307 125.7h1v5.8h-1z"/>
<path fill="#7a58fc" fill-opacity="0.6" d="M83 93.5h1v2.8h-1zM90 101.6h1v1.7h-1zM91 99.6h1v1.2h-1zM94 105.6h1v3.7h-1zM97 103.0h1v4.2h-1zM111 109.7h1v1.6h-1zM128 101.0h1v2.2h-1zM129 97.5h1v5.7h-1zM134 103.4h1v3.6h-1zM137 98.0h1v6.9h-1zM144 98.0h1v7.9h-1zM147 97.9h1v4.0h-1zM150 98.2h1v3.5h-1zM151 97.6h1v6.1h-1zM155 94.9h1v5.5h-1zM160 83.1h1v9.7h-1zM171 68.4h1v4.9h-1zM176 87.8h1v1.3h-1zM177 85.3h1v2.8h-1zM180 85.1h1v2.3h-1zM182 90.5h1v1.5h-1zM200 103.9h1v3.1h-1zM201 106.0h1v2.4h-1zM294 101.5h1v0.6h-1zM301 105.4h1v1.7h-1z"/>
<path fill="#58f0c8" d="M85 123.4h1v1.6h-1zM96 133.4h1v2.6h-1zM103 133.7h1v2.3h-1zM104 133.4h1v2.6h-1zM105 133.9h1v2.1h-1zM112 134.5h1v1.5h-1zM114 135.3h1v0.7h-1zM127 123.9h1v0.4h-1zM150 123.8h1v7.0h-1zM160 125.6h1v7.0h-1zM170 121.0h1v1.8h-1zM173 119.4h1v1.6h-1zM180 129.2h1v6.8h-1zM197 131.7h1v4.3h-1zM198 131.0h1v5.0h-1zM199 130.9h1v5.1h-1zM203 133.4h1v2.6h-1zM207 133.6h1v2.4h-1zM210 133.7h1v2.3h-1zM212 134.1h1v1.9h-1zM282 131.4h1v4.6h-1zM286 130.1h1v0.8h-1zM301 131.8h1v4.2h-1z"/>
<path fill="#3a74f6" d="M86 112.4h1v5.8h-1zM89 122.3h1v2.9h-1zM90 121.8h1v3.7h-1zM101 123.7h1v4.7h-1zM125 117.8h1v3.8h-1zM126 115.1h1v5.8h-1zM128 114.0h1v1.4h-1zM148 113.3h1v4.3h-1zM150 114.4h1v4.4h-1zM151 116.2h1v3.4h-1zM168 103.3h1v9.3h-1zM169 109.0h1v5.0h-1zM172 111.6h1v5.1h-1zM190 114.6h1v6.2h-1zM202 125.7h1v2.0h-1zM204 123.0h1v3.1h-1zM207 123.7h1v4.2h-1zM211 126.7h1v1.5h-1zM213 128.6h1v2.9h-1zM216 132.4h1v0.6h-1zM221 130.9h1v1.3h-1zM254 134.6h1v0.5h-1zM255 134.8h1v0.4h-1zM256 134.5h1v0.6h-1zM265 134.3h1v0.5h-1zM282 117.4h1v5.4h-1zM283 117.1h1v7.5h-1zM296 123.9h1v2.5h-1z"/>
<path fill="#60f0c0" d="M94 133.4h1v2.6h-1zM95 134.4h1v1.6h-1zM97 134.0h1v2.0h-1zM108 133.6h1v2.4h-1zM110 133.7h1v2.3h-1zM111 134.2h1v1.8h-1zM113 134.7h1v1.3h-1zM116 135.7h1v0.3h-1zM125 130.0h1v6.0h-1zM166 128.0h1v8.0h-1zM194 132.7h1v3.3h-1zM195 131.5h1v4.5h-1zM202 133.8h1v2.2h-1zM204 133.3h1v2.7h-1zM209 133.6h1v2.4h-1zM216 135.2h1v0.8h-1zM277 135.6h1v0.4h-1zM281 133.3h1v2.7h-1zM293 131.5h1v4.5h-1zM294 133.3h1v2.7h-1z"/>
<path fill="#a890ff" fill-opacity="0.67" d="M115 117.8h1v7.6h-1z"/>
<path fill="#a890ff" fill-opacity="0.66" d="M125 97.3h1v7.8h-1zM265 117.1h1v8.3h-1z"/>
<path fill="#ffb060" d="M131 126.6h1v1.2h-1zM145 127.5h1v0.7h-1zM153 122.0h1v1.3h-1zM154 120.4h1v0.7h-1zM159 122.2h1v1.1h-1zM176 123.3h1v1.3h-1zM177 125.5h1v0.2h-1zM178 127.9h1v0.9h-1zM186 129.1h1v1.3h-1zM187 128.2h1v0.7h-1zM188 129.6h1v1.3h-1zM303 132.2h1v0.9h-1zM306 131.9h1v0.8h-1z"/>
<path fill="#a890ff" fill-opacity="0.56" d="M212 116.2h1v2.0h-1z"/>
<path fill="#7c58fc" d="M220 119.2h1v11.4h-1zM222 122.0h1v8.8h-1zM227 126.8h1v6.2h-1zM254 126.8h1v7.8h-1zM256 133.0h1v1.6h-1zM264 122.2h1v11.3h-1zM277 130.9h1v2.4h-1z"/>
<path fill="#8d70fd" d="M221 119.6h1v11.3h-1zM224 123.6h1v7.6h-1zM225 129.7h1v1.1h-1zM226 129.6h1v1.7h-1zM255 128.4h1v6.4h-1zM257 132.8h1v1.7h-1zM265 126.0h1v8.3h-1zM266 121.0h1v12.9h-1zM267 122.6h1v11.0h-1z"/>
<path fill="#7a58fc" fill-opacity="0.45" d="M84 74.7h1v18.4h-1zM170 58.5h1v13.6h-1zM166 72.9h1v15.6h-1zM211 93.0h1v24.3h-1zM286 86.7h1v4.8h-1z"/>
<path fill="#a890ff" fill-opacity="0.35" d="M84 56.3h1v18.4h-1zM170 44.9h1v13.6h-1zM166 57.2h1v15.6h-1zM211 68.6h1v24.3h-1zM286 81.9h1v4.8h-1z"/>
<path fill="#a890ff" fill-opacity="0.17" d="M85 69.2h1v23.9h-1zM171 54.4h1v17.7h-1zM167 68.2h1v20.3h-1zM212 85.7h1v31.6h-1zM287 85.3h1v6.2h-1z"/>
<path fill="#7a58fc" fill-opacity="0.63" d="M157 55.3h1v13.2h-1z"/>
<path fill="#a890ff" fill-opacity="0.49" d="M157 42.1h1v13.2h-1z"/>
<path fill="#a890ff" fill-opacity="0.24" d="M158 51.3h1v17.2h-1z"/>
<path fill="#7a58fc" fill-opacity="0.36" d="M200 102.9h1v3.9h-1zM226 111.0h1v12.0h-1zM243 105.6h1v30.4h-1zM250 108.0h1v28.0h-1zM299 102.8h1v3.8h-1zM306 103.3h1v0.5h-1z"/>
<path fill="#a890ff" fill-opacity="0.28" d="M200 99.0h1v3.9h-1zM226 99.0h1v12.0h-1zM243 75.3h1v30.4h-1zM250 80.0h1v28.0h-1zM299 99.0h1v3.8h-1zM306 102.8h1v0.5h-1z"/>
<path fill="#a890ff" fill-opacity="0.14" d="M201 101.8h1v5.1h-1zM227 107.4h1v15.7h-1zM244 96.5h1v39.5h-1zM251 99.6h1v36.4h-1zM300 101.6h1v4.9h-1zM307 103.1h1v0.6h-1z"/>
<path fill="#8a6cfe" fill-opacity="0.65" d="M26 133.7h1v2.0h-1zM58 129.5h1v1.5h-1zM59 134.2h1v1.5h-1z"/>
<path fill="#8a6cfe" fill-opacity="0.56" d="M29 133.0h1v2.0h-1zM223 133.2h1v2.5h-1z"/>
<path fill="#8a6cfe" fill-opacity="0.52" d="M32 132.0h1v3.0h-1zM37 131.5h1v2.5h-1z"/>
<path fill="#8a6cfe" fill-opacity="0.61" d="M35 130.0h1v4.0h-1zM277 132.0h1v1.0h-1z"/>
<path fill="#8a6cfe" fill-opacity="0.74" d="M42 127.0h1v4.0h-1zM240 129.0h1v5.0h-1zM256 132.7h1v3.0h-1z"/>
<path fill="#8a6cfe" fill-opacity="0.64" d="M49 126.0h1v5.0h-1z"/>
<path fill="#8a6cfe" fill-opacity="0.71" d="M52 134.2h1v1.5h-1zM69 133.0h1v2.0h-1z"/>
<path fill="#8a6cfe" fill-opacity="0.44" d="M57 129.5h1v1.5h-1z"/>
<path fill="#8a6cfe" fill-opacity="0.51" d="M60 132.0h1v1.0h-1z"/>
<path fill="#8a6cfe" fill-opacity="0.48" d="M62 128.0h1v5.0h-1z"/>
<path fill="#8a6cfe" fill-opacity="0.39" d="M68 133.2h1v2.5h-1zM251 131.7h1v4.0h-1zM255 134.7h1v1.0h-1z"/>
<path fill="#8a6cfe" fill-opacity="0.4" d="M218 129.0h1v5.0h-1z"/>
<path fill="#8a6cfe" fill-opacity="0.72" d="M219 131.7h1v4.0h-1zM244 132.0h1v3.0h-1z"/>
<path fill="#8a6cfe" fill-opacity="0.62" d="M225 131.5h1v1.5h-1zM230 133.2h1v2.5h-1z"/>
<path fill="#8a6cfe" fill-opacity="0.58" d="M227 130.0h1v4.0h-1z"/>
<path fill="#8a6cfe" fill-opacity="0.73" d="M229 134.2h1v1.5h-1z"/>
<path fill="#8a6cfe" fill-opacity="0.36" d="M242 133.2h1v2.5h-1z"/>
<path fill="#8a6cfe" fill-opacity="0.49" d="M246 131.0h1v4.0h-1z"/>
<path fill="#8a6cfe" fill-opacity="0.67" d="M257 133.2h1v2.5h-1z"/>
<path fill="#8a6cfe" fill-opacity="0.59" d="M262 131.7h1v4.0h-1z"/>
<path fill="#8a6cfe" fill-opacity="0.68" d="M266 129.0h1v2.0h-1z"/>
<path fill="#8a6cfe" fill-opacity="0.35" d="M270 133.2h1v2.5h-1z"/>
<path fill="#8a6cfe" fill-opacity="0.6" d="M273 128.5h1v2.5h-1z"/>
<path fill="#40e4d4" d="M55 295.8h1v4.9h-1zM63 294.4h1v6.3h-1zM84 291.1h1v3.8h-1zM99 296.9h1v3.8h-1zM102 296.7h1v4.0h-1zM155 291.9h1v0.3h-1zM158 298.3h1v2.4h-1zM164 297.6h1v3.1h-1zM167 297.1h1v3.6h-1zM175 264.9h1v13.2h-1zM187 279.3h1v6.2h-1zM196 295.0h1v5.7h-1zM203 288.9h1v0.9h-1zM205 291.0h1v4.5h-1zM206 291.7h1v5.4h-1zM207 296.8h1v3.9h-1zM209 298.2h1v2.5h-1zM286 297.6h1v3.1h-1zM293 297.4h1v3.3h-1zM296 297.0h1v3.7h-1zM306 297.8h1v2.9h-1zM311 299.5h1v1.2h-1zM315 299.2h1v1.5h-1z"/>
<path fill="#14b0ec" d="M55 292.4h1v3.3h-1zM56 288.2h1v8.0h-1zM58 282.0h1v13.7h-1zM63 287.2h1v7.1h-1zM64 287.7h1v6.9h-1zM71 282.2h1v11.2h-1zM74 296.0h1v1.6h-1zM75 297.3h1v3.0h-1zM80 283.3h1v5.9h-1zM84 285.6h1v5.5h-1zM84 282.2h1v3.5h-1zM86 281.5h1v11.0h-1zM87 280.8h1v12.4h-1zM88 279.5h1v9.4h-1zM90 277.9h1v7.5h-1zM92 273.1h1v4.3h-1zM93 274.7h1v6.3h-1zM95 274.6h1v7.2h-1zM98 283.4h1v14.0h-1zM99 284.8h1v12.1h-1zM100 282.8h1v14.1h-1zM101 277.9h1v6.6h-1zM106 288.6h1v4.8h-1zM109 298.1h1v0.5h-1zM128 295.4h1v5.3h-1zM129 293.6h1v3.1h-1zM142 298.7h1v1.4h-1zM142 297.8h1v0.8h-1zM143 288.5h1v3.1h-1zM145 288.7h1v0.3h-1zM150 290.2h1v2.2h-1zM151 289.7h1v1.9h-1zM153 289.5h1v3.0h-1zM161 293.0h1v5.2h-1zM161 290.2h1v2.8h-1zM163 290.8h1v1.4h-1zM165 291.9h1v5.1h-1zM166 289.6h1v2.9h-1zM170 266.8h1v5.0h-1zM171 270.5h1v7.1h-1zM174 255.3h1v3.2h-1zM180 257.7h1v3.6h-1zM182 261.9h1v1.7h-1zM182 260.8h1v1.1h-1zM183 270.5h1v0.2h-1zM184 274.1h1v5.1h-1zM185 271.5h1v5.5h-1zM187 276.2h1v3.1h-1zM187 273.9h1v2.4h-1zM188 281.2h1v7.9h-1zM189 277.2h1v9.5h-1zM196 282.8h1v12.2h-1zM198 274.6h1v10.0h-1zM200 278.8h1v1.9h-1zM201 280.2h1v2.2h-1zM202 276.4h1v6.9h-1zM203 283.3h1v5.6h-1zM203 281.4h1v1.9h-1zM204 286.5h1v0.6h-1zM204 285.9h1v0.5h-1zM207 283.7h1v6.2h-1zM208 290.5h1v5.8h-1zM209 290.1h1v4.0h-1zM210 293.4h1v4.5h-1zM212 295.0h1v1.5h-1zM229 297.2h1v3.5h-1zM230 296.1h1v2.0h-1zM259 293.0h1v3.2h-1zM285 296.6h1v3.1h-1zM287 290.6h1v6.5h-1zM291 290.8h1v5.8h-1zM300 293.9h1v4.6h-1zM301 292.4h1v5.6h-1zM302 290.6h1v2.8h-1zM305 292.9h1v5.6h-1zM306 293.9h1v4.0h-1zM311 293.2h1v2.7h-1zM316 293.8h1v2.7h-1zM319 298.7h1v0.6h-1zM323 298.4h1v0.9h-1z"/>
<path fill="#20a0f0" d="M55 289.2h1v3.3h-1zM57 280.9h1v5.2h-1zM60 281.8h1v4.2h-1zM66 279.9h1v5.1h-1zM68 258.0h1v6.5h-1zM76 297.4h1v1.0h-1zM91 275.9h1v7.6h-1zM94 275.7h1v4.7h-1zM96 277.9h1v8.6h-1zM104 279.5h1v8.2h-1zM165 289.0h1v2.8h-1zM170 263.8h1v3.0h-1zM175 253.4h1v4.7h-1zM184 271.9h1v2.2h-1zM186 270.7h1v5.6h-1zM197 276.8h1v4.4h-1zM208 287.8h1v2.7h-1zM261 294.4h1v1.3h-1zM292 287.0h1v3.8h-1zM296 288.4h1v2.8h-1zM303 289.6h1v2.0h-1zM305 291.5h1v1.4h-1zM306 292.4h1v1.4h-1zM312 293.6h1v1.2h-1z"/>
<path fill="#7038fa" d="M55 270.2h1v19.0h-1zM62 264.9h1v19.0h-1zM69 249.2h1v8.9h-1zM72 291.2h1v2.4h-1zM74 291.8h1v4.2h-1zM89 262.2h1v14.0h-1zM99 267.3h1v12.4h-1zM100 260.1h1v18.8h-1zM104 271.6h1v7.9h-1zM106 279.9h1v8.7h-1zM108 291.4h1v3.2h-1zM169 252.1h1v15.6h-1zM170 252.4h1v11.5h-1zM173 246.5h1v17.9h-1zM175 244.9h1v8.4h-1zM176 247.4h1v16.9h-1zM181 243.6h1v7.5h-1zM185 255.0h1v14.3h-1zM192 259.5h1v11.8h-1zM193 259.9h1v15.5h-1zM195 261.1h1v16.1h-1zM208 279.3h1v8.5h-1zM209 284.5h1v5.6h-1zM212 292.1h1v2.9h-1zM285 292.0h1v3.2h-1zM287 267.5h1v20.8h-1zM288 265.6h1v20.2h-1zM290 269.6h1v17.5h-1zM294 273.5h1v9.8h-1zM298 271.3h1v14.4h-1zM305 279.1h1v12.3h-1zM313 289.2h1v4.3h-1zM316 288.5h1v5.3h-1zM320 296.4h1v4.2h-1z"/>
<path fill="#9070fe" d="M55 269.2h1v1.0h-1zM56 275.5h1v0.7h-1zM57 275.6h1v1.0h-1zM58 268.4h1v1.1h-1zM59 261.1h1v1.2h-1zM60 261.5h1v1.4h-1zM61 264.2h1v0.8h-1zM62 264.1h1v0.8h-1zM63 263.8h1v0.7h-1zM64 267.3h1v0.6h-1zM65 273.9h1v1.3h-1zM66 278.5h1v0.6h-1zM67 275.6h1v0.7h-1zM69 248.2h1v1.0h-1zM70 238.8h1v0.6h-1zM71 268.7h1v1.2h-1zM72 290.4h1v0.7h-1zM73 290.8h1v1.5h-1zM74 290.6h1v1.2h-1zM75 291.9h1v0.8h-1zM76 295.3h1v0.4h-1zM80 263.3h1v0.8h-1zM81 255.1h1v1.2h-1zM82 265.8h1v1.0h-1zM83 270.9h1v1.5h-1zM84 270.5h1v0.7h-1zM85 265.9h1v1.3h-1zM86 259.6h1v0.6h-1zM87 258.1h1v1.1h-1zM88 258.6h1v1.3h-1zM89 261.4h1v0.8h-1zM90 263.2h1v1.0h-1zM91 259.0h1v0.6h-1zM92 257.3h1v0.7h-1zM93 264.2h1v0.9h-1zM94 268.7h1v1.4h-1zM95 270.2h1v0.7h-1zM96 271.9h1v0.8h-1zM97 273.2h1v1.4h-1zM98 271.3h1v1.2h-1zM99 265.9h1v1.4h-1zM100 258.6h1v1.4h-1zM101 262.6h1v0.6h-1zM102 260.3h1v0.6h-1zM103 261.4h1v0.7h-1zM104 270.4h1v1.2h-1zM105 274.2h1v0.7h-1zM106 279.0h1v0.9h-1zM107 286.1h1v1.3h-1zM108 290.8h1v0.6h-1zM109 296.8h1v0.6h-1zM125 295.2h1v0.5h-1zM126 287.6h1v1.0h-1zM127 285.7h1v1.0h-1zM128 289.9h1v1.2h-1zM129 287.0h1v1.3h-1zM130 289.1h1v1.4h-1zM131 293.9h1v0.7h-1zM142 296.9h1v0.8h-1zM143 282.5h1v0.5h-1zM144 276.4h1v1.4h-1zM145 285.2h1v1.5h-1zM146 277.3h1v0.7h-1zM147 281.5h1v0.9h-1zM148 282.7h1v1.3h-1zM149 283.1h1v1.4h-1zM150 282.1h1v1.3h-1zM151 281.6h1v1.1h-1zM152 288.3h1v1.2h-1zM153 282.3h1v1.3h-1zM154 276.4h1v1.2h-1zM155 281.6h1v1.0h-1zM156 276.6h1v0.7h-1zM157 274.6h1v0.9h-1zM158 270.9h1v1.4h-1zM159 275.1h1v1.1h-1zM160 277.7h1v0.6h-1zM161 286.3h1v0.9h-1zM162 279.1h1v1.3h-1zM163 278.4h1v0.8h-1zM164 277.8h1v1.4h-1zM165 282.6h1v0.8h-1zM166 274.8h1v1.3h-1zM167 293.2h1v1.0h-1zM168 254.8h1v1.0h-1zM169 251.0h1v1.2h-1zM170 251.2h1v1.1h-1zM171 255.5h1v1.0h-1zM172 255.4h1v1.2h-1zM173 245.6h1v0.9h-1zM174 237.8h1v1.3h-1zM175 244.0h1v1.0h-1zM176 246.2h1v1.2h-1zM177 241.4h1v1.4h-1zM178 242.9h1v1.1h-1zM179 248.3h1v1.4h-1zM180 245.1h1v1.4h-1zM181 242.4h1v1.2h-1zM182 245.2h1v1.2h-1zM183 248.1h1v0.5h-1zM184 254.3h1v1.3h-1zM185 254.4h1v0.7h-1zM186 252.7h1v0.9h-1zM187 255.3h1v1.0h-1zM188 261.9h1v1.0h-1zM189 264.5h1v1.4h-1zM190 260.6h1v0.7h-1zM191 259.4h1v1.2h-1zM192 259.0h1v0.5h-1zM193 259.4h1v0.5h-1zM194 259.7h1v0.9h-1zM195 259.7h1v1.4h-1zM196 263.9h1v0.9h-1zM197 264.3h1v1.2h-1zM198 262.5h1v1.4h-1zM199 264.3h1v1.1h-1zM200 267.8h1v1.2h-1zM201 270.9h1v0.9h-1zM202 269.1h1v1.0h-1zM203 269.7h1v1.5h-1zM204 271.7h1v0.6h-1zM205 271.9h1v1.4h-1zM206 274.3h1v0.6h-1zM207 274.9h1v1.2h-1zM208 278.1h1v1.1h-1zM209 283.0h1v1.5h-1zM210 285.0h1v1.2h-1zM211 288.4h1v1.0h-1zM212 291.4h1v0.7h-1zM213 293.9h1v0.6h-1zM214 297.6h1v0.3h-1zM226 288.5h1v1.4h-1zM227 286.8h1v1.1h-1zM228 284.9h1v1.3h-1zM229 288.9h1v1.5h-1zM230 290.7h1v1.3h-1zM231 295.8h1v0.8h-1zM251 284.2h1v1.1h-1zM252 291.7h1v0.6h-1zM253 299.1h1v0.7h-1zM259 279.1h1v0.9h-1zM260 285.2h1v1.4h-1zM261 284.7h1v1.1h-1zM262 287.0h1v1.3h-1zM263 299.3h1v0.7h-1zM285 290.9h1v1.1h-1zM286 266.5h1v1.1h-1zM287 266.6h1v1.0h-1zM288 264.7h1v0.9h-1zM289 267.2h1v1.0h-1zM290 268.4h1v1.3h-1zM291 268.6h1v1.3h-1zM292 268.6h1v1.3h-1zM293 269.1h1v1.4h-1zM294 272.2h1v1.3h-1zM295 268.4h1v1.3h-1zM296 265.6h1v1.2h-1zM297 268.8h1v0.7h-1zM298 270.5h1v0.8h-1zM299 268.9h1v0.7h-1zM300 270.4h1v1.4h-1zM301 273.1h1v0.6h-1zM302 276.6h1v0.8h-1zM303 277.0h1v1.4h-1zM304 275.2h1v0.7h-1zM305 278.5h1v0.7h-1zM306 281.5h1v1.1h-1zM307 281.2h1v0.8h-1zM308 281.7h1v0.5h-1zM309 284.2h1v1.0h-1zM310 287.0h1v0.9h-1zM311 287.2h1v0.9h-1zM312 287.3h1v0.7h-1zM313 288.7h1v0.5h-1zM314 287.8h1v1.5h-1zM315 287.4h1v0.5h-1zM316 287.5h1v1.0h-1zM317 290.0h1v1.4h-1zM318 292.8h1v1.2h-1zM319 294.3h1v0.6h-1zM320 295.8h1v0.5h-1zM321 298.1h1v0.7h-1zM323 295.4h1v0.5h-1zM324 293.2h1v1.2h-1z"/>
<path fill="#cfc4ff" d="M55 268.1h1v1.1h-1zM56 274.3h1v1.3h-1zM57 274.6h1v1.0h-1zM58 267.5h1v0.9h-1zM59 259.8h1v1.4h-1zM60 260.3h1v1.2h-1zM61 263.3h1v0.9h-1zM62 263.4h1v0.6h-1zM63 263.0h1v0.8h-1zM64 266.9h1v0.4h-1zM65 273.3h1v0.6h-1zM66 277.3h1v1.1h-1zM67 274.9h1v0.7h-1zM68 256.7h1v1.3h-1zM69 247.6h1v0.6h-1zM70 238.0h1v0.8h-1zM71 267.3h1v1.4h-1zM72 289.9h1v0.5h-1zM73 289.9h1v1.0h-1zM74 290.2h1v0.4h-1zM75 291.0h1v0.9h-1zM76 294.6h1v0.7h-1zM80 262.8h1v0.5h-1zM81 253.7h1v1.4h-1zM82 265.0h1v0.8h-1zM83 270.0h1v0.9h-1zM84 269.5h1v1.0h-1zM85 265.4h1v0.5h-1zM86 258.9h1v0.7h-1zM87 256.9h1v1.2h-1zM88 257.5h1v1.1h-1zM89 260.1h1v1.3h-1zM90 262.3h1v0.9h-1zM91 258.4h1v0.7h-1zM92 256.6h1v0.7h-1zM93 263.1h1v1.1h-1zM94 267.5h1v1.2h-1zM95 269.5h1v0.7h-1zM96 271.5h1v0.5h-1zM97 272.6h1v0.6h-1zM98 270.8h1v0.5h-1zM99 264.7h1v1.3h-1zM100 257.6h1v1.1h-1zM101 262.0h1v0.7h-1zM102 259.4h1v0.9h-1zM103 260.3h1v1.1h-1zM104 269.8h1v0.5h-1zM105 273.7h1v0.5h-1zM106 277.8h1v1.1h-1zM107 284.6h1v1.5h-1zM108 289.4h1v1.4h-1zM109 296.2h1v0.7h-1zM125 294.6h1v0.7h-1zM126 286.2h1v1.4h-1zM127 284.3h1v1.4h-1zM128 289.1h1v0.8h-1zM129 286.4h1v0.6h-1zM130 288.5h1v0.6h-1zM131 293.6h1v0.4h-1zM142 295.6h1v1.3h-1zM143 281.3h1v1.2h-1zM144 275.0h1v1.4h-1zM145 284.3h1v0.9h-1zM146 276.2h1v1.0h-1zM147 281.0h1v0.5h-1zM148 282.0h1v0.7h-1zM149 281.6h1v1.5h-1zM150 281.5h1v0.6h-1zM151 280.5h1v1.0h-1zM152 287.9h1v0.4h-1zM153 281.2h1v1.1h-1zM154 275.6h1v0.8h-1zM155 280.5h1v1.1h-1zM156 275.2h1v1.4h-1zM157 273.4h1v1.2h-1zM158 269.5h1v1.4h-1zM159 274.7h1v0.4h-1zM160 277.1h1v0.6h-1zM161 286.0h1v0.3h-1zM162 277.7h1v1.4h-1zM163 277.5h1v0.9h-1zM164 276.7h1v1.2h-1zM165 281.2h1v1.4h-1zM166 274.0h1v0.8h-1zM167 292.8h1v0.3h-1zM168 253.5h1v1.3h-1zM169 249.7h1v1.3h-1zM170 250.6h1v0.6h-1zM171 254.3h1v1.2h-1zM172 254.1h1v1.3h-1zM173 244.2h1v1.4h-1zM174 237.5h1v0.3h-1zM175 242.8h1v1.1h-1zM176 245.1h1v1.1h-1zM177 241.0h1v0.5h-1zM178 241.4h1v1.5h-1zM179 247.6h1v0.7h-1zM180 244.3h1v0.8h-1zM181 241.0h1v1.4h-1zM182 243.7h1v1.5h-1zM183 247.3h1v0.8h-1zM184 253.3h1v1.0h-1zM185 253.4h1v0.9h-1zM186 251.8h1v0.9h-1zM187 254.7h1v0.6h-1zM188 260.9h1v1.0h-1zM189 263.3h1v1.2h-1zM190 259.7h1v0.9h-1zM191 258.7h1v0.7h-1zM192 258.5h1v0.5h-1zM193 258.3h1v1.0h-1zM194 258.8h1v1.0h-1zM195 258.9h1v0.8h-1zM196 262.5h1v1.4h-1zM197 263.6h1v0.7h-1zM198 262.0h1v0.6h-1zM199 262.9h1v1.4h-1zM200 267.0h1v0.8h-1zM201 270.5h1v0.4h-1zM202 267.8h1v1.3h-1zM203 269.1h1v0.6h-1zM204 271.0h1v0.7h-1zM205 270.4h1v1.5h-1zM206 273.0h1v1.3h-1zM207 273.8h1v1.1h-1zM208 276.9h1v1.2h-1zM209 282.4h1v0.6h-1zM210 283.7h1v1.2h-1zM211 287.2h1v1.2h-1zM212 291.0h1v0.4h-1zM213 292.7h1v1.2h-1zM214 296.2h1v1.4h-1zM226 287.2h1v1.3h-1zM227 285.5h1v1.3h-1zM228 284.4h1v0.5h-1zM229 287.5h1v1.3h-1zM230 289.7h1v1.0h-1zM231 295.0h1v0.8h-1zM251 283.3h1v0.9h-1zM252 290.2h1v1.4h-1zM253 297.8h1v1.3h-1zM259 278.4h1v0.7h-1zM260 283.8h1v1.4h-1zM261 283.8h1v0.9h-1zM262 286.3h1v0.7h-1zM263 298.9h1v0.4h-1zM285 289.7h1v1.1h-1zM286 265.6h1v0.9h-1zM287 265.5h1v1.1h-1zM288 263.6h1v1.1h-1zM289 266.6h1v0.5h-1zM290 267.0h1v1.4h-1zM291 268.2h1v0.4h-1zM292 267.7h1v0.8h-1zM293 268.2h1v0.9h-1zM294 271.6h1v0.6h-1zM295 267.7h1v0.6h-1zM296 264.6h1v1.0h-1zM297 268.5h1v0.3h-1zM298 269.6h1v1.0h-1zM299 267.8h1v1.1h-1zM300 269.7h1v0.7h-1zM301 271.6h1v1.5h-1zM302 276.1h1v0.5h-1zM303 276.3h1v0.8h-1zM304 274.2h1v1.0h-1zM305 277.3h1v1.1h-1zM306 280.2h1v1.4h-1zM307 280.3h1v1.0h-1zM308 281.1h1v0.6h-1zM309 283.4h1v0.9h-1zM310 286.0h1v1.1h-1zM311 286.2h1v1.0h-1zM312 285.8h1v1.5h-1zM313 287.3h1v1.4h-1zM314 287.4h1v0.4h-1zM315 286.2h1v1.2h-1zM316 286.1h1v1.4h-1zM317 288.9h1v1.1h-1zM318 291.8h1v1.0h-1zM319 293.3h1v1.0h-1zM320 294.8h1v1.0h-1zM321 297.6h1v0.5h-1zM323 294.8h1v0.7h-1zM324 292.1h1v1.1h-1z"/>
<path fill="#a890ff" fill-opacity="0.45" d="M55 262.8h1v6.4h-1zM65 267.6h1v6.3h-1z"/>
<path fill="#80f4b4" d="M56 296.3h1v4.4h-1zM64 294.6h1v0.2h-1zM72 299.0h1v1.7h-1zM74 299.7h1v1.0h-1zM83 288.6h1v2.0h-1zM88 289.0h1v1.4h-1zM92 290.5h1v2.8h-1zM94 295.1h1v2.7h-1zM96 297.3h1v3.4h-1zM97 296.6h1v4.1h-1zM100 296.9h1v3.8h-1zM103 297.2h1v3.5h-1zM106 298.8h1v1.9h-1zM143 297.4h1v3.3h-1zM149 298.0h1v2.7h-1zM150 298.7h1v2.0h-1zM157 298.2h1v2.5h-1zM159 297.0h1v3.7h-1zM165 297.0h1v3.7h-1zM176 274.0h1v2.0h-1zM182 263.6h1v8.0h-1zM183 270.7h1v1.7h-1zM192 290.7h1v0.7h-1zM198 295.3h1v5.4h-1zM199 293.6h1v4.2h-1zM285 299.7h1v1.0h-1zM288 296.5h1v4.2h-1zM300 298.5h1v2.2h-1zM303 297.8h1v2.9h-1zM304 298.3h1v2.4h-1zM308 298.9h1v1.8h-1zM312 299.3h1v1.4h-1z"/>
<path fill="#3a74f6" d="M56 285.8h1v2.5h-1zM61 283.0h1v3.7h-1zM69 258.1h1v3.5h-1zM73 295.0h1v1.3h-1zM81 276.5h1v2.9h-1zM89 276.3h1v6.5h-1zM97 278.4h1v5.9h-1zM98 276.0h1v7.4h-1zM102 275.9h1v8.0h-1zM108 294.6h1v1.9h-1zM158 286.2h1v3.1h-1zM160 288.0h1v2.9h-1zM167 294.4h1v0.8h-1zM169 267.7h1v0.4h-1zM173 264.4h1v3.9h-1zM179 255.5h1v4.2h-1zM181 251.1h1v7.4h-1zM185 269.3h1v2.2h-1zM195 277.3h1v6.0h-1zM196 277.3h1v5.5h-1zM205 286.6h1v1.1h-1zM211 293.0h1v2.2h-1zM226 294.7h1v2.0h-1zM228 293.6h1v1.9h-1zM252 295.0h1v2.1h-1zM262 295.4h1v2.3h-1zM287 288.3h1v2.3h-1zM289 286.1h1v3.7h-1zM290 287.2h1v5.1h-1zM291 286.2h1v4.6h-1zM295 284.9h1v4.7h-1zM304 289.9h1v2.8h-1zM308 293.3h1v2.6h-1zM324 297.2h1v1.3h-1z"/>
<path fill="#6a30fc" d="M56 276.2h1v9.6h-1zM57 276.6h1v4.3h-1zM58 269.6h1v9.0h-1zM60 262.9h1v18.9h-1zM61 265.0h1v18.0h-1zM63 264.6h1v17.9h-1zM65 275.2h1v7.1h-1zM66 279.1h1v0.8h-1zM67 276.3h1v5.4h-1zM70 239.4h1v16.9h-1zM71 269.9h1v6.2h-1zM75 292.8h1v3.4h-1zM76 295.7h1v1.7h-1zM80 264.1h1v15.8h-1zM81 256.3h1v20.2h-1zM82 266.8h1v14.2h-1zM83 272.4h1v7.8h-1zM84 271.2h1v10.9h-1zM85 267.1h1v14.0h-1zM87 259.2h1v14.5h-1zM88 259.8h1v11.9h-1zM90 264.2h1v13.7h-1zM91 259.7h1v16.2h-1zM94 270.1h1v5.6h-1zM95 270.9h1v3.7h-1zM96 272.8h1v5.1h-1zM97 274.5h1v3.9h-1zM98 272.5h1v3.5h-1zM101 263.3h1v14.6h-1zM102 260.9h1v15.0h-1zM103 262.2h1v12.0h-1zM105 274.9h1v7.4h-1zM109 297.4h1v0.7h-1zM168 255.8h1v14.1h-1zM172 256.5h1v8.9h-1zM174 239.1h1v16.2h-1zM177 242.9h1v20.0h-1zM178 244.0h1v10.6h-1zM179 249.7h1v5.8h-1zM182 246.4h1v14.4h-1zM183 248.6h1v21.6h-1zM184 255.6h1v16.4h-1zM186 253.5h1v17.2h-1zM187 256.4h1v17.5h-1zM189 265.9h1v7.1h-1zM190 261.3h1v8.9h-1zM191 260.7h1v11.4h-1zM196 264.8h1v12.5h-1zM199 265.4h1v9.3h-1zM201 271.8h1v8.4h-1zM202 270.1h1v6.3h-1zM203 271.1h1v10.3h-1zM204 272.3h1v13.6h-1zM205 273.4h1v13.2h-1zM206 274.9h1v8.4h-1zM207 276.2h1v7.5h-1zM210 286.2h1v5.0h-1zM211 289.4h1v3.5h-1zM213 294.5h1v3.9h-1zM214 297.9h1v2.8h-1zM286 267.6h1v18.4h-1zM292 269.9h1v17.1h-1zM293 270.5h1v14.3h-1zM295 269.7h1v15.2h-1zM296 266.8h1v21.6h-1zM297 269.6h1v18.6h-1zM299 269.6h1v18.4h-1zM300 271.8h1v17.5h-1zM301 273.7h1v16.6h-1zM302 277.4h1v13.2h-1zM303 278.5h1v11.1h-1zM304 275.9h1v14.0h-1zM307 282.0h1v10.7h-1zM308 282.2h1v11.1h-1zM309 285.3h1v7.0h-1zM310 287.9h1v5.0h-1zM312 288.0h1v5.6h-1zM317 291.4h1v2.2h-1zM319 294.9h1v3.8h-1zM321 298.9h1v1.8h-1zM323 295.9h1v2.5h-1zM324 294.4h1v2.8h-1z"/>
<path fill="#40e0d8" d="M57 295.6h1v5.1h-1zM59 297.2h1v3.5h-1zM69 261.6h1v3.7h-1zM71 293.4h1v7.3h-1zM73 299.7h1v1.0h-1zM76 298.4h1v2.3h-1zM83 283.9h1v4.7h-1zM85 296.3h1v4.4h-1zM91 283.5h1v8.1h-1zM93 281.0h1v13.2h-1zM94 280.4h1v14.8h-1zM97 284.3h1v12.3h-1zM101 296.1h1v4.6h-1zM102 283.8h1v12.9h-1zM106 293.4h1v5.5h-1zM107 299.4h1v1.3h-1zM151 291.6h1v5.7h-1zM156 288.9h1v4.1h-1zM159 290.0h1v7.0h-1zM164 292.9h1v4.7h-1zM169 268.2h1v1.0h-1zM176 266.4h1v7.6h-1zM179 259.7h1v16.4h-1zM190 277.1h1v7.4h-1zM191 277.1h1v10.5h-1zM192 277.5h1v13.2h-1zM195 294.0h1v6.7h-1zM212 296.5h1v3.0h-1zM226 296.8h1v3.9h-1zM260 296.3h1v4.4h-1zM262 297.7h1v3.0h-1zM289 289.8h1v7.2h-1zM290 297.5h1v3.2h-1zM292 290.8h1v5.4h-1zM295 289.6h1v6.9h-1zM299 297.1h1v3.6h-1zM302 293.4h1v4.6h-1zM307 294.2h1v4.9h-1zM308 295.8h1v3.1h-1zM309 294.4h1v5.0h-1zM311 295.9h1v3.5h-1zM312 294.8h1v4.5h-1zM314 299.6h1v1.1h-1zM316 299.9h1v0.8h-1zM317 295.0h1v4.8h-1zM318 297.6h1v3.0h-1z"/>
<path fill="#30c8e4" d="M57 286.1h1v9.5h-1zM67 286.1h1v9.1h-1zM68 264.5h1v10.7h-1zM72 295.7h1v3.3h-1zM89 282.8h1v8.1h-1zM92 277.4h1v13.1h-1zM98 297.4h1v3.3h-1zM109 298.7h1v2.0h-1zM125 298.8h1v1.9h-1zM130 296.1h1v4.6h-1zM131 299.8h1v0.9h-1zM142 300.0h1v0.7h-1zM148 298.8h1v1.9h-1zM151 297.3h1v3.4h-1zM152 298.2h1v2.5h-1zM153 292.5h1v5.5h-1zM155 289.0h1v2.9h-1zM157 290.2h1v8.0h-1zM158 289.2h1v9.1h-1zM160 297.1h1v3.6h-1zM163 292.2h1v3.1h-1zM166 292.5h1v4.2h-1zM172 269.6h1v6.0h-1zM174 258.5h1v5.6h-1zM177 267.6h1v10.4h-1zM199 283.4h1v10.2h-1zM200 280.8h1v6.0h-1zM209 294.1h1v4.1h-1zM228 295.6h1v5.1h-1zM231 299.8h1v0.9h-1zM252 297.1h1v3.6h-1zM253 300.3h1v0.4h-1zM286 291.5h1v6.2h-1zM287 297.0h1v3.7h-1zM292 296.2h1v4.5h-1zM294 286.3h1v10.6h-1zM296 291.2h1v5.8h-1zM297 297.1h1v3.6h-1zM298 288.1h1v8.9h-1zM302 298.0h1v2.7h-1zM303 291.5h1v6.2h-1zM307 299.1h1v1.6h-1zM316 296.5h1v3.3h-1z"/>
<path fill="#58f0c8" d="M58 295.7h1v5.0h-1zM61 291.4h1v2.6h-1zM67 295.2h1v5.5h-1zM75 300.3h1v0.4h-1zM89 290.9h1v0.3h-1zM95 295.9h1v4.8h-1zM108 300.1h1v0.6h-1zM153 298.1h1v2.6h-1zM154 296.0h1v0.3h-1zM156 293.1h1v0.5h-1zM197 295.3h1v5.4h-1zM200 286.8h1v3.4h-1zM204 287.0h1v2.3h-1zM294 296.9h1v3.8h-1zM295 296.5h1v4.2h-1zM298 296.9h1v3.8h-1zM301 298.1h1v2.6h-1zM309 299.4h1v1.3h-1zM310 299.3h1v1.4h-1zM313 299.6h1v1.1h-1z"/>
<path fill="#3f6cf6" d="M58 278.5h1v3.5h-1zM65 282.3h1v3.2h-1zM67 281.7h1v4.4h-1zM75 296.2h1v1.1h-1zM83 280.2h1v3.7h-1zM88 271.7h1v7.8h-1zM99 279.7h1v5.0h-1zM144 287.2h1v1.5h-1zM148 292.1h1v3.1h-1zM152 290.2h1v1.9h-1zM155 288.0h1v1.0h-1zM156 287.8h1v1.1h-1zM157 287.3h1v2.9h-1zM172 265.4h1v4.1h-1zM178 254.6h1v7.9h-1zM191 272.1h1v5.0h-1zM192 271.4h1v6.2h-1zM199 274.7h1v8.8h-1zM206 283.3h1v3.2h-1zM227 294.5h1v1.5h-1zM229 294.4h1v2.8h-1zM231 298.9h1v0.9h-1zM253 300.0h1v0.3h-1zM263 300.0h1v0.3h-1zM294 283.4h1v2.9h-1zM298 285.7h1v2.4h-1zM299 288.0h1v4.4h-1zM307 292.7h1v1.5h-1zM310 292.9h1v3.1h-1zM313 293.5h1v2.7h-1z"/>
<path fill="#50ecd0" d="M59 286.7h1v10.5h-1zM60 286.0h1v9.5h-1zM65 285.5h1v3.6h-1zM73 296.3h1v3.4h-1zM81 279.4h1v7.1h-1zM90 285.4h1v7.6h-1zM96 286.5h1v10.7h-1zM103 282.1h1v15.1h-1zM105 285.9h1v12.3h-1zM126 298.1h1v2.6h-1zM148 295.2h1v3.6h-1zM149 292.8h1v5.1h-1zM150 292.5h1v6.2h-1zM152 292.1h1v6.1h-1zM167 295.2h1v2.0h-1zM178 262.5h1v8.8h-1zM186 276.3h1v11.0h-1zM194 288.6h1v7.5h-1zM201 282.4h1v8.3h-1zM205 287.6h1v3.4h-1zM213 298.9h1v1.4h-1zM227 296.0h1v4.7h-1zM259 296.2h1v4.5h-1zM261 295.7h1v5.0h-1zM293 288.9h1v8.5h-1zM324 298.5h1v2.2h-1z"/>
<path fill="#4a58f8" d="M59 281.2h1v5.5h-1zM62 283.9h1v4.2h-1zM72 293.5h1v2.2h-1zM80 279.8h1v3.4h-1zM85 281.2h1v3.6h-1zM86 278.7h1v2.8h-1zM100 278.9h1v3.9h-1zM103 274.2h1v7.9h-1zM105 282.3h1v3.6h-1zM107 293.5h1v2.7h-1zM125 297.8h1v1.0h-1zM147 290.2h1v1.7h-1zM149 291.1h1v1.7h-1zM154 290.0h1v2.4h-1zM159 287.7h1v2.3h-1zM164 290.9h1v2.0h-1zM180 255.8h1v1.9h-1zM193 275.4h1v5.4h-1zM194 281.1h1v7.5h-1zM260 294.7h1v1.6h-1zM293 284.7h1v4.2h-1zM297 288.2h1v3.5h-1zM309 292.3h1v2.1h-1zM318 296.2h1v1.3h-1z"/>
<path fill="#6228fe" d="M59 262.4h1v18.8h-1zM64 267.9h1v14.5h-1zM73 292.3h1v2.7h-1zM86 260.2h1v18.5h-1zM92 258.0h1v15.1h-1zM93 265.1h1v9.6h-1zM107 287.3h1v6.2h-1zM171 256.6h1v9.7h-1zM180 246.5h1v9.3h-1zM188 262.9h1v13.7h-1zM194 260.7h1v20.5h-1zM197 265.5h1v11.3h-1zM198 264.0h1v10.6h-1zM200 269.0h1v9.8h-1zM289 268.1h1v18.0h-1zM291 269.9h1v16.4h-1zM306 282.6h1v9.8h-1zM311 288.1h1v5.1h-1zM314 289.3h1v3.9h-1zM315 287.9h1v6.8h-1zM318 294.0h1v2.3h-1z"/>
<path fill="#6a38fc" fill-opacity="0.85" d="M59 255.6h1v5.5h-1zM60 254.1h1v7.4h-1zM62 251.6h1v12.5h-1zM84 267.6h1v2.9h-1zM85 257.0h1v8.8h-1zM87 251.1h1v7.0h-1zM90 251.2h1v12.0h-1zM91 250.8h1v8.2h-1zM92 250.8h1v6.6h-1zM94 264.6h1v4.1h-1zM95 262.7h1v7.5h-1zM96 266.0h1v6.0h-1zM97 269.2h1v4.0h-1zM100 254.0h1v4.6h-1zM102 253.1h1v7.1h-1zM104 266.3h1v4.1h-1zM168 251.7h1v3.1h-1zM172 241.2h1v14.2h-1zM173 233.6h1v11.9h-1zM174 228.4h1v9.4h-1zM178 232.6h1v10.3h-1zM181 233.8h1v8.6h-1zM182 230.1h1v15.1h-1zM183 234.0h1v14.1h-1zM185 237.3h1v17.1h-1zM186 246.6h1v6.1h-1zM188 256.9h1v5.0h-1zM189 261.3h1v3.2h-1zM190 259.6h1v1.0h-1zM195 259.3h1v0.4h-1zM198 260.9h1v1.6h-1zM201 267.2h1v3.7h-1zM202 266.3h1v2.8h-1zM203 265.3h1v4.3h-1z"/>
<path fill="#9074ff" fill-opacity="0.6" d="M59 252.1h1v3.5h-1zM60 246.1h1v8.0h-1zM62 243.4h1v8.2h-1zM84 264.1h1v3.5h-1zM85 250.4h1v6.6h-1zM87 247.1h1v4.0h-1zM90 241.9h1v9.2h-1zM91 240.2h1v10.6h-1zM92 247.8h1v2.9h-1zM94 259.3h1v5.3h-1zM95 259.0h1v3.6h-1zM96 258.4h1v7.6h-1zM97 264.4h1v4.8h-1zM100 250.6h1v3.4h-1zM102 246.1h1v7.0h-1zM104 263.8h1v2.5h-1zM168 247.1h1v4.6h-1zM172 232.8h1v8.4h-1zM173 224.2h1v9.5h-1zM174 217.0h1v11.4h-1zM178 224.1h1v8.5h-1zM181 228.9h1v4.9h-1zM182 222.0h1v8.1h-1zM183 217.7h1v16.3h-1zM185 228.8h1v8.4h-1zM186 243.6h1v3.0h-1zM188 251.3h1v5.5h-1zM189 257.1h1v4.2h-1zM190 258.7h1v0.9h-1zM195 258.7h1v0.6h-1zM198 258.9h1v2.0h-1zM201 262.0h1v5.2h-1zM202 264.8h1v1.5h-1zM203 262.7h1v2.6h-1z"/>
<path fill="#ff1408" d="M60 295.9h1v4.8h-1zM61 295.2h1v5.5h-1zM62 296.8h1v3.9h-1zM68 277.3h1v23.4h-1zM69 266.5h1v34.2h-1zM82 288.9h1v11.8h-1zM86 295.8h1v4.9h-1zM90 293.0h1v7.7h-1zM154 298.7h1v2.0h-1zM163 295.1h1v5.6h-1zM169 270.2h1v30.5h-1zM175 280.1h1v20.6h-1zM177 276.0h1v24.7h-1zM182 274.2h1v26.5h-1zM183 274.5h1v26.2h-1zM188 287.4h1v13.3h-1zM203 291.4h1v9.3h-1zM206 298.7h1v2.0h-1z"/>
<path fill="#ff8040" d="M60 295.7h1v0.2h-1zM69 265.9h1v0.7h-1zM70 262.0h1v0.7h-1zM80 294.8h1v1.1h-1zM81 287.7h1v0.8h-1zM88 291.3h1v1.0h-1zM94 298.9h1v1.1h-1zM154 297.5h1v1.2h-1zM155 292.9h1v0.7h-1zM162 298.6h1v0.8h-1zM169 269.7h1v0.5h-1zM181 270.6h1v0.2h-1zM183 273.5h1v1.1h-1zM187 286.1h1v0.6h-1zM191 288.2h1v0.7h-1zM201 290.9h1v0.2h-1z"/>
<path fill="#e8d070" d="M60 295.5h1v0.2h-1zM62 294.4h1v1.2h-1zM64 294.9h1v0.8h-1zM83 290.6h1v0.7h-1zM86 293.2h1v1.3h-1zM89 291.1h1v1.0h-1zM145 289.8h1v1.0h-1zM155 292.3h1v0.7h-1zM176 276.0h1v1.0h-1zM180 266.3h1v1.1h-1zM181 270.4h1v0.2h-1zM182 271.6h1v1.3h-1zM183 272.4h1v1.1h-1zM187 285.5h1v0.6h-1zM189 286.7h1v0.4h-1zM203 289.7h1v0.8h-1zM204 289.3h1v1.3h-1zM205 295.6h1v0.5h-1z"/>
<path fill="#ff7a3a" d="M61 294.6h1v0.6h-1zM83 291.3h1v0.7h-1zM84 295.8h1v0.9h-1zM89 292.1h1v1.0h-1zM91 293.3h1v0.7h-1zM92 294.1h1v0.8h-1zM156 294.3h1v0.8h-1zM168 274.4h1v1.0h-1zM174 279.3h1v1.1h-1zM175 279.1h1v1.0h-1zM178 273.7h1v0.7h-1zM180 267.3h1v1.1h-1zM182 272.9h1v1.3h-1zM190 287.3h1v1.0h-1zM192 292.6h1v1.2h-1zM199 298.9h1v1.0h-1zM203 290.6h1v0.8h-1zM204 290.6h1v1.3h-1zM205 296.1h1v0.5h-1z"/>
<path fill="#ccd880" d="M61 293.9h1v0.6h-1zM66 293.4h1v1.0h-1zM69 265.2h1v0.7h-1zM84 294.9h1v0.9h-1zM91 292.6h1v0.7h-1zM92 293.3h1v0.8h-1zM146 289.7h1v1.1h-1zM156 293.5h1v0.8h-1zM162 297.9h1v0.8h-1zM168 273.4h1v1.0h-1zM169 269.2h1v0.5h-1zM178 273.0h1v0.7h-1zM201 290.7h1v0.2h-1zM206 297.1h1v0.8h-1z"/>
<path fill="#2fb8ea" d="M61 286.8h1v4.6h-1zM66 285.0h1v8.4h-1zM74 297.7h1v2.1h-1zM82 283.6h1v5.4h-1zM85 284.8h1v11.4h-1zM101 284.5h1v11.6h-1zM108 296.6h1v3.6h-1zM129 296.6h1v4.1h-1zM144 288.7h1v5.1h-1zM146 289.1h1v0.4h-1zM147 291.9h1v2.6h-1zM162 293.2h1v3.2h-1zM173 268.2h1v7.9h-1zM175 258.1h1v6.8h-1zM181 258.5h1v12.0h-1zM193 280.9h1v14.1h-1zM198 284.6h1v10.7h-1zM202 283.4h1v9.6h-1zM206 286.5h1v5.1h-1zM211 295.1h1v3.6h-1zM230 298.0h1v2.7h-1zM299 292.5h1v4.6h-1zM315 295.6h1v3.6h-1zM319 299.3h1v1.4h-1z"/>
<path fill="#7a58fc" fill-opacity="0.6" d="M61 258.0h1v6.2h-1zM63 262.2h1v1.6h-1zM86 253.1h1v6.5h-1zM89 253.2h1v8.1h-1zM101 260.3h1v2.3h-1zM175 232.8h1v11.1h-1zM176 229.8h1v16.4h-1zM177 233.5h1v7.9h-1zM179 237.7h1v10.7h-1zM180 230.3h1v14.8h-1zM187 253.3h1v2.0h-1zM196 262.9h1v1.0h-1zM199 262.3h1v2.0h-1zM200 265.5h1v2.3h-1z"/>
<path fill="#ff6030" d="M62 295.6h1v1.2h-1zM64 295.7h1v0.8h-1zM66 294.4h1v1.0h-1zM68 276.4h1v0.8h-1zM86 294.5h1v1.3h-1zM93 295.3h1v0.5h-1zM145 290.8h1v1.0h-1zM146 290.8h1v1.1h-1zM176 277.0h1v1.0h-1zM189 287.1h1v0.4h-1zM200 290.9h1v0.7h-1zM206 297.9h1v0.8h-1z"/>
<path fill="#60f0c8" d="M62 292.9h1v1.5h-1zM93 294.2h1v0.5h-1z"/>
<path fill="#38d4e0" d="M62 288.1h1v4.8h-1zM68 275.2h1v0.3h-1zM70 256.3h1v5.1h-1zM91 291.6h1v1.0h-1zM95 281.8h1v14.1h-1zM104 287.7h1v9.5h-1zM107 296.2h1v3.2h-1zM127 296.5h1v4.2h-1zM143 291.6h1v5.8h-1zM145 289.1h1v0.7h-1zM146 289.5h1v0.2h-1zM154 292.4h1v3.6h-1zM160 290.9h1v6.2h-1zM178 271.3h1v1.7h-1zM190 284.4h1v1.9h-1zM195 283.3h1v10.7h-1zM197 281.2h1v14.2h-1zM207 289.9h1v6.9h-1zM251 295.2h1v5.5h-1zM263 300.3h1v0.4h-1zM288 289.2h1v7.4h-1zM290 292.3h1v5.2h-1zM297 291.7h1v5.3h-1zM304 292.7h1v5.6h-1zM310 296.0h1v3.3h-1zM313 296.2h1v3.4h-1zM314 295.4h1v4.2h-1zM320 300.6h1v0.1h-1zM323 299.4h1v1.3h-1z"/>
<path fill="#2f8cf2" d="M63 282.5h1v4.7h-1zM64 282.4h1v5.3h-1zM71 276.1h1v6.1h-1zM82 281.0h1v2.6h-1zM87 273.7h1v7.1h-1zM126 295.5h1v2.6h-1zM127 293.8h1v2.7h-1zM128 293.4h1v2.0h-1zM130 294.9h1v1.3h-1zM131 299.2h1v0.5h-1zM146 288.8h1v0.3h-1zM162 292.1h1v1.1h-1zM171 266.3h1v4.2h-1zM176 264.3h1v2.1h-1zM177 262.9h1v4.6h-1zM183 270.2h1v0.2h-1zM188 276.6h1v4.6h-1zM189 273.0h1v4.2h-1zM190 270.2h1v6.8h-1zM210 291.2h1v2.2h-1zM213 298.4h1v0.5h-1zM251 292.9h1v2.3h-1zM285 295.1h1v1.5h-1zM286 286.0h1v5.4h-1zM288 285.7h1v3.4h-1zM300 289.3h1v4.6h-1zM301 290.3h1v2.2h-1zM314 293.2h1v2.2h-1zM315 294.6h1v0.9h-1zM317 293.5h1v1.4h-1z"/>
<path fill="#ff0a0a" d="M64 296.4h1v4.3h-1zM65 287.2h1v13.5h-1zM70 262.7h1v38.0h-1zM80 295.9h1v4.8h-1zM84 296.6h1v4.1h-1zM155 293.6h1v7.1h-1zM173 275.5h1v25.2h-1zM174 280.4h1v20.3h-1zM176 278.0h1v22.7h-1zM184 273.8h1v26.9h-1zM190 288.3h1v12.4h-1zM192 293.9h1v6.8h-1zM199 299.9h1v0.8h-1zM204 291.9h1v8.8h-1zM205 296.6h1v4.1h-1z"/>
<path fill="#ff0000" d="M66 295.4h1v5.3h-1zM88 292.3h1v8.4h-1zM91 294.0h1v6.7h-1zM92 294.9h1v5.8h-1zM145 291.8h1v8.9h-1zM146 291.9h1v8.8h-1zM162 299.4h1v1.3h-1zM171 272.5h1v28.2h-1zM172 273.2h1v27.5h-1zM185 275.6h1v25.1h-1zM187 286.6h1v14.1h-1zM189 287.6h1v13.1h-1zM191 288.9h1v11.8h-1zM202 292.3h1v8.4h-1z"/>
<path fill="#a890ff" fill-opacity="0.42" d="M66 274.0h1v4.5h-1zM145 282.5h1v2.6h-1zM153 276.7h1v5.6h-1z"/>
<path fill="#a890ff" fill-opacity="0.43" d="M67 267.2h1v8.4h-1zM73 286.6h1v4.2h-1z"/>
<path fill="#ffb060" d="M68 275.6h1v0.8h-1zM70 261.3h1v0.7h-1zM80 293.7h1v1.1h-1zM81 286.9h1v0.8h-1zM88 290.4h1v1.0h-1zM93 294.7h1v0.5h-1zM94 297.8h1v1.1h-1zM154 296.3h1v1.2h-1zM174 278.2h1v1.1h-1zM175 278.0h1v1.0h-1zM190 286.3h1v1.0h-1zM191 287.5h1v0.7h-1zM192 291.4h1v1.2h-1zM199 297.9h1v1.0h-1zM200 290.2h1v0.7h-1z"/>
<path fill="#a890ff" fill-opacity="0.61" d="M69 245.5h1v2.7h-1zM131 291.1h1v2.8h-1zM206 271.9h1v2.4h-1z"/>
<path fill="#a890ff" fill-opacity="0.66" d="M71 262.7h1v6.0h-1zM80 257.4h1v5.9h-1zM152 279.6h1v8.7h-1z"/>
<path fill="#a0f0a0" d="M80 289.2h1v4.5h-1zM81 286.6h1v0.4h-1zM86 292.5h1v0.7h-1zM162 296.3h1v1.5h-1zM168 269.9h1v3.5h-1zM174 264.1h1v14.1h-1zM180 261.3h1v5.0h-1z"/>
<path fill="#fa0000" d="M81 288.5h1v12.2h-1zM83 292.0h1v8.7h-1zM87 292.9h1v7.8h-1zM89 293.1h1v7.6h-1zM93 295.8h1v4.9h-1zM94 300.1h1v0.6h-1zM144 292.3h1v8.4h-1zM147 294.0h1v6.7h-1zM156 295.0h1v5.7h-1zM168 275.4h1v25.3h-1zM170 270.8h1v29.9h-1zM178 274.3h1v26.4h-1zM179 271.5h1v29.2h-1zM180 268.4h1v32.3h-1zM181 270.8h1v29.9h-1zM186 286.4h1v14.3h-1zM200 291.6h1v9.1h-1zM201 291.1h1v9.6h-1z"/>
<path fill="#a890ff" fill-opacity="0.53" d="M81 245.1h1v10.0h-1zM288 258.9h1v5.8h-1z"/>
<path fill="#60f0c0" d="M104 297.2h1v3.5h-1zM105 298.2h1v2.5h-1zM161 298.2h1v2.5h-1zM166 296.7h1v4.0h-1zM193 295.0h1v5.7h-1zM194 296.0h1v4.7h-1zM208 296.2h1v4.5h-1zM210 297.9h1v2.8h-1zM211 298.8h1v1.9h-1zM212 299.5h1v1.2h-1zM213 300.3h1v0.4h-1zM289 297.1h1v3.6h-1zM291 296.6h1v4.1h-1zM305 298.5h1v2.2h-1zM317 299.8h1v0.9h-1zM318 300.6h1v0.1h-1z"/>
<path fill="#7c58fc" d="M125 295.8h1v2.0h-1zM126 288.6h1v6.8h-1zM128 291.0h1v2.4h-1zM129 288.3h1v5.2h-1zM142 297.7h1v0.1h-1zM144 277.8h1v9.5h-1zM146 277.9h1v10.9h-1zM147 282.4h1v7.8h-1zM148 284.0h1v8.1h-1zM149 284.4h1v6.7h-1zM151 282.7h1v6.9h-1zM152 289.5h1v0.7h-1zM154 277.6h1v12.4h-1zM157 275.5h1v11.8h-1zM158 272.3h1v13.8h-1zM159 276.3h1v11.4h-1zM160 278.3h1v9.6h-1zM166 276.1h1v13.5h-1zM226 289.9h1v4.9h-1zM227 287.9h1v6.7h-1zM228 286.2h1v7.4h-1zM229 290.4h1v4.0h-1zM231 296.6h1v2.2h-1zM251 285.3h1v7.6h-1zM253 299.8h1v0.2h-1zM260 286.5h1v8.1h-1zM262 288.3h1v7.0h-1zM263 299.9h1v0.1h-1z"/>
<path fill="#8d70fd" d="M127 286.6h1v7.1h-1zM130 290.5h1v4.4h-1zM131 294.6h1v4.6h-1zM143 283.0h1v5.5h-1zM145 286.6h1v2.1h-1zM150 283.4h1v6.8h-1zM153 283.6h1v6.0h-1zM155 282.6h1v5.4h-1zM156 277.3h1v10.5h-1zM161 287.2h1v2.9h-1zM162 280.4h1v11.6h-1zM163 279.2h1v11.6h-1zM164 279.2h1v11.7h-1zM165 283.4h1v5.6h-1zM167 294.2h1v0.2h-1zM230 292.0h1v4.1h-1zM252 292.2h1v2.7h-1zM259 280.0h1v13.0h-1zM261 285.8h1v8.7h-1z"/>
<path fill="#a890ff" fill-opacity="0.54" d="M130 286.5h1v2.6h-1zM205 266.9h1v5.0h-1z"/>
<path fill="#a890ff" fill-opacity="0.46" d="M147 273.9h1v7.6h-1z"/>
<path fill="#a890ff" fill-opacity="0.69" d="M154 273.7h1v2.7h-1z"/>
<path fill="#a890ff" fill-opacity="0.5" d="M155 272.3h1v9.3h-1zM157 268.7h1v5.9h-1z"/>
<path fill="#a890ff" fill-opacity="0.55" d="M192 252.6h1v6.4h-1z"/>
<path fill="#a890ff" fill-opacity="0.49" d="M259 273.4h1v5.7h-1z"/>
<path fill="#a890ff" fill-opacity="0.51" d="M290 258.7h1v9.6h-1z"/>
<path fill="#a890ff" fill-opacity="0.41" d="M299 261.7h1v7.1h-1z"/>
<path fill="#a890ff" fill-opacity="0.56" d="M302 274.6h1v2.0h-1zM69 194.4h1v26.4h-1z"/>
<path fill="#a890ff" fill-opacity="0.62" d="M303 271.0h1v6.0h-1z"/>
<path fill="#a890ff" fill-opacity="0.44" d="M305 274.2h1v4.3h-1z"/>
<path fill="#a890ff" fill-opacity="0.65" d="M313 283.4h1v5.3h-1z"/>
<path fill="#a890ff" fill-opacity="0.57" d="M314 282.2h1v5.6h-1z"/>
<path fill="#a890ff" fill-opacity="0.64" d="M319 288.5h1v5.9h-1z"/>
<path fill="#7a58fc" fill-opacity="0.72" d="M69 220.9h1v26.4h-1z"/>
<path fill="#a890ff" fill-opacity="0.28" d="M70 212.9h1v34.4h-1zM60 244.2h1v9.4h-1zM90 232.8h1v13.9h-1zM96 244.2h1v11.9h-1zM101 247.1h1v5.9h-1zM145 268.2h1v4.7h-1zM159 263.3h1v6.4h-1zM162 268.2h1v4.4h-1zM166 260.9h1v8.3h-1zM220 214.4h1v43.2h-1zM259 205.1h1v36.9h-1zM292 256.3h1v5.7h-1zM297 252.5h1v8.4h-1zM309 260.1h1v12.2h-1zM312 269.6h1v9.0h-1z"/>
<path fill="#7a58fc" fill-opacity="0.45" d="M63 252.0h1v13.5h-1zM82 248.7h1v18.8h-1z"/>
<path fill="#a890ff" fill-opacity="0.35" d="M63 238.5h1v13.5h-1zM82 230.0h1v18.8h-1z"/>
<path fill="#a890ff" fill-opacity="0.17" d="M64 248.0h1v17.5h-1zM83 243.1h1v24.4h-1z"/>
<path fill="#7a58fc" fill-opacity="0.36" d="M60 253.6h1v9.4h-1zM90 246.7h1v13.9h-1zM96 256.1h1v11.9h-1zM101 253.0h1v5.9h-1zM145 272.9h1v4.7h-1zM159 269.7h1v6.4h-1zM162 272.6h1v4.4h-1zM166 269.1h1v8.3h-1zM220 257.5h1v43.2h-1zM259 242.0h1v36.9h-1zM292 262.0h1v5.7h-1zM297 260.9h1v8.4h-1zM309 272.3h1v12.2h-1zM312 278.6h1v9.0h-1z"/>
<path fill="#a890ff" fill-opacity="0.14" d="M61 250.8h1v12.2h-1zM91 242.5h1v18.0h-1zM97 252.5h1v15.5h-1zM102 251.2h1v7.7h-1zM146 271.5h1v6.1h-1zM160 267.8h1v8.3h-1zM163 271.3h1v5.7h-1zM167 266.7h1v10.8h-1zM221 244.6h1v56.1h-1zM260 230.9h1v48.0h-1zM293 260.3h1v7.4h-1zM298 258.4h1v10.9h-1zM310 268.7h1v15.9h-1zM313 275.9h1v11.7h-1z"/>
<path fill="#7a58fc" fill-opacity="0.27" d="M217 273.0h1v27.7h-1z"/>
<path fill="#a890ff" fill-opacity="0.21" d="M217 245.4h1v27.7h-1z"/>
<path fill="#a890ff" fill-opacity="0.1" d="M218 264.7h1v36.0h-1z"/>
<path fill="#8a6cfe" fill-opacity="0.6" d="M24 293.7h1v4.0h-1zM31 291.7h1v4.0h-1zM51 295.7h1v2.0h-1zM233 297.4h1v3.0h-1zM264 297.2h1v1.5h-1zM317 296.2h1v1.5h-1z"/>
<path fill="#8a6cfe" fill-opacity="0.47" d="M25 298.9h1v1.5h-1z"/>
<path fill="#8a6cfe" fill-opacity="0.37" d="M26 296.7h1v3.0h-1zM36 299.4h1v1.0h-1z"/>
<path fill="#8a6cfe" fill-opacity="0.59" d="M30 295.2h1v2.5h-1zM231 297.4h1v3.0h-1zM276 293.7h1v5.0h-1zM307 297.2h1v1.5h-1zM318 289.4h1v7.0h-1z"/>
<path fill="#8a6cfe" fill-opacity="0.66" d="M35 298.2h1v1.5h-1zM121 299.4h1v1.0h-1zM125 295.2h1v2.5h-1zM236 296.4h1v4.0h-1zM273 295.4h1v5.0h-1z"/>
<path fill="#8a6cfe" fill-opacity="0.5" d="M44 294.7h1v5.0h-1z"/>
<path fill="#8a6cfe" fill-opacity="0.57" d="M46 296.7h1v1.0h-1z"/>
<path fill="#8a6cfe" fill-opacity="0.38" d="M48 298.4h1v2.0h-1zM283 296.7h1v2.0h-1z"/>
<path fill="#8a6cfe" fill-opacity="0.39" d="M49 287.0h1v9.0h-1z"/>
<path fill="#8a6cfe" fill-opacity="0.68" d="M54 292.7h1v5.0h-1z"/>
<path fill="#8a6cfe" fill-opacity="0.54" d="M137 295.4h1v5.0h-1z"/>
<path fill="#8a6cfe" fill-opacity="0.61" d="M219 297.4h1v3.0h-1z"/>
<path fill="#8a6cfe" fill-opacity="0.56" d="M223 295.7h1v3.0h-1z"/>
<path fill="#8a6cfe" fill-opacity="0.62" d="M243 291.7h1v4.0h-1zM271 296.4h1v4.0h-1zM319 293.7h1v4.0h-1z"/>
<path fill="#8a6cfe" fill-opacity="0.41" d="M243 278.3h1v5.0h-1z"/>
<path fill="#8a6cfe" fill-opacity="0.45" d="M247 282.1h1v6.1h-1z"/>
<path fill="#8a6cfe" fill-opacity="0.49" d="M250 296.7h1v2.0h-1zM252 296.7h1v3.0h-1zM269 295.4h1v5.0h-1z"/>
<path fill="#8a6cfe" fill-opacity="0.7" d="M253 295.7h1v2.0h-1z"/>
<path fill="#8a6cfe" fill-opacity="0.65" d="M254 291.7h1v4.0h-1z"/>
<path fill="#8a6cfe" fill-opacity="0.53" d="M258 298.9h1v1.5h-1z"/>
<path fill="#8a6cfe" fill-opacity="0.36" d="M258 283.2h1v8.6h-1z"/>
<path fill="#8a6cfe" fill-opacity="0.64" d="M265 295.7h1v4.0h-1z"/>
<path fill="#8a6cfe" fill-opacity="0.63" d="M266 292.7h1v3.0h-1z"/>
<path fill="#8a6cfe" fill-opacity="0.43" d="M274 297.9h1v2.5h-1z"/>
<path fill="#8a6cfe" fill-opacity="0.72" d="M284 297.4h1v3.0h-1zM325 296.7h1v1.0h-1z"/>
<path fill="#8a6cfe" fill-opacity="0.46" d="M300 296.7h1v1.0h-1z"/>
<path fill="#8a6cfe" fill-opacity="0.69" d="M312 297.4h1v3.0h-1z"/>
<path fill="#8a6cfe" fill-opacity="0.51" d="M314 297.4h1v3.0h-1z"/>
<path fill="#8a6cfe" fill-opacity="0.34" d="M316 280.1h1v8.1h-1z"/>
<path fill="#8a6cfe" fill-opacity="0.71" d="M323 296.2h1v2.5h-1z"/>
<path fill="#2fb8ea" d="M73 464.3h1v3.1h-1zM74 461.7h1v5.6h-1zM81 464.5h1v2.9h-1zM89 446.2h1v4.9h-1zM91 433.2h1v6.0h-1zM92 440.9h1v10.3h-1zM94 445.4h1v2.3h-1zM101 452.6h1v2.8h-1zM107 452.2h1v8.0h-1zM111 458.0h1v3.9h-1zM113 461.9h1v3.1h-1zM151 463.4h1v4.0h-1zM161 464.3h1v3.1h-1zM165 463.8h1v3.6h-1zM170 464.9h1v2.5h-1zM171 464.8h1v2.6h-1zM189 451.7h1v7.4h-1zM202 461.3h1v2.7h-1zM206 460.5h1v6.9h-1zM213 462.9h1v4.5h-1zM214 465.8h1v1.6h-1z"/>
<path fill="#4a58f8" d="M73 462.4h1v1.9h-1zM77 466.1h1v0.4h-1zM104 449.8h1v1.5h-1zM107 448.5h1v3.7h-1zM109 456.9h1v1.9h-1zM146 462.3h1v1.2h-1zM153 464.1h1v1.3h-1zM154 465.5h1v0.8h-1zM163 460.6h1v2.3h-1zM165 460.3h1v3.4h-1zM168 462.0h1v2.3h-1zM171 463.7h1v1.1h-1zM172 465.8h1v0.4h-1zM178 445.0h1v1.5h-1zM188 448.1h1v1.2h-1zM189 449.3h1v2.3h-1zM195 456.4h1v0.7h-1zM197 454.5h1v1.0h-1zM200 457.2h1v0.9h-1zM206 459.1h1v1.5h-1zM207 459.4h1v1.1h-1zM208 460.5h1v0.4h-1zM211 462.4h1v0.7h-1zM214 465.2h1v0.6h-1z"/>
<path fill="#8d70fd" d="M73 455.9h1v6.6h-1zM77 465.6h1v0.5h-1zM78 451.4h1v9.8h-1zM79 452.5h1v5.0h-1zM81 461.5h1v1.2h-1zM82 464.0h1v1.1h-1zM130 439.2h1v13.7h-1zM132 448.9h1v4.6h-1zM133 454.5h1v3.0h-1zM144 457.2h1v4.5h-1zM149 462.0h1v0.9h-1zM150 457.3h1v3.9h-1zM153 458.9h1v5.2h-1zM160 451.7h1v9.5h-1zM161 457.1h1v6.3h-1zM163 447.2h1v13.4h-1zM166 453.0h1v9.9h-1zM167 450.8h1v12.4h-1zM169 449.8h1v12.6h-1zM172 465.5h1v0.4h-1z"/>
<path fill="#9070fe" d="M73 454.8h1v1.0h-1zM74 445.7h1v1.5h-1zM75 444.6h1v1.2h-1zM76 456.9h1v1.3h-1zM77 465.0h1v0.5h-1zM78 450.3h1v1.0h-1zM79 451.9h1v0.6h-1zM80 450.4h1v1.4h-1zM81 460.7h1v0.9h-1zM82 463.4h1v0.6h-1zM88 466.5h1v0.3h-1zM89 430.8h1v0.8h-1zM90 410.9h1v0.6h-1zM91 399.6h1v1.4h-1zM92 410.4h1v1.2h-1zM93 418.8h1v0.9h-1zM94 409.2h1v1.5h-1zM95 414.1h1v1.0h-1zM96 420.9h1v1.4h-1zM97 425.6h1v0.8h-1zM98 442.0h1v1.0h-1zM99 449.2h1v0.9h-1zM100 438.2h1v0.7h-1zM101 431.2h1v1.1h-1zM102 432.3h1v1.2h-1zM103 429.6h1v1.1h-1zM104 427.4h1v0.9h-1zM105 432.9h1v1.4h-1zM106 426.6h1v1.1h-1zM107 428.4h1v1.0h-1zM108 434.5h1v1.4h-1zM109 443.4h1v0.8h-1zM110 448.5h1v0.6h-1zM111 448.7h1v0.8h-1zM112 452.9h1v0.7h-1zM113 453.4h1v0.9h-1zM114 456.8h1v0.9h-1zM115 463.0h1v0.7h-1zM129 452.5h1v1.4h-1zM130 438.1h1v1.1h-1zM131 432.5h1v1.4h-1zM132 447.6h1v1.3h-1zM133 453.4h1v1.0h-1zM134 461.1h1v1.3h-1zM143 461.4h1v0.8h-1zM144 456.3h1v0.8h-1zM145 460.5h1v1.0h-1zM146 457.6h1v1.0h-1zM147 457.4h1v1.0h-1zM148 461.6h1v0.8h-1zM149 461.0h1v1.0h-1zM150 455.9h1v1.4h-1zM151 460.3h1v1.0h-1zM152 456.0h1v0.6h-1zM153 458.3h1v0.6h-1zM154 464.5h1v0.7h-1zM158 462.3h1v0.8h-1zM159 454.6h1v0.9h-1zM160 450.5h1v1.2h-1zM161 455.9h1v1.2h-1zM162 450.9h1v0.6h-1zM163 446.2h1v1.0h-1zM164 444.0h1v0.9h-1zM165 446.2h1v1.0h-1zM166 452.3h1v0.7h-1zM167 450.2h1v0.5h-1zM168 448.4h1v0.9h-1zM169 448.9h1v0.9h-1zM170 460.4h1v1.3h-1zM171 460.5h1v0.9h-1zM172 464.3h1v1.1h-1zM173 466.4h1v0.7h-1zM175 445.7h1v0.9h-1zM176 435.2h1v0.7h-1zM177 433.6h1v0.9h-1zM178 430.5h1v0.6h-1zM179 431.3h1v0.9h-1zM180 434.4h1v0.9h-1zM181 435.9h1v0.9h-1zM182 432.2h1v0.9h-1zM183 427.8h1v0.8h-1zM184 429.4h1v0.9h-1zM185 433.7h1v1.1h-1zM186 435.2h1v0.7h-1zM187 437.3h1v1.5h-1zM188 439.7h1v1.0h-1zM189 442.3h1v1.1h-1zM190 444.4h1v1.3h-1zM191 445.8h1v1.3h-1zM192 444.7h1v0.9h-1zM193 442.8h1v1.4h-1zM194 441.9h1v1.1h-1zM195 441.0h1v1.2h-1zM196 442.1h1v0.5h-1zM197 440.6h1v0.7h-1zM198 440.2h1v1.2h-1zM199 443.5h1v1.3h-1zM200 447.3h1v0.8h-1zM201 452.2h1v1.1h-1zM202 453.7h1v1.4h-1zM203 455.2h1v0.6h-1zM204 456.3h1v0.7h-1zM205 454.0h1v0.6h-1zM206 451.4h1v0.6h-1zM207 447.1h1v1.4h-1zM208 448.3h1v1.0h-1zM209 449.8h1v1.5h-1zM210 449.4h1v0.5h-1zM211 452.5h1v0.6h-1zM212 453.3h1v0.6h-1zM213 456.5h1v1.4h-1zM214 459.3h1v1.0h-1zM215 461.6h1v0.4h-1z"/>
<path fill="#cfc4ff" d="M73 453.5h1v1.4h-1zM74 444.5h1v1.2h-1zM75 443.8h1v0.9h-1zM76 456.2h1v0.7h-1zM77 464.5h1v0.5h-1zM78 449.4h1v0.9h-1zM79 451.0h1v0.8h-1zM80 450.0h1v0.5h-1zM81 459.9h1v0.8h-1zM82 462.9h1v0.5h-1zM88 465.3h1v1.3h-1zM89 430.5h1v0.3h-1zM90 410.5h1v0.4h-1zM91 398.3h1v1.3h-1zM92 409.0h1v1.3h-1zM93 418.4h1v0.3h-1zM94 408.4h1v0.8h-1zM95 413.1h1v1.0h-1zM96 420.0h1v0.9h-1zM97 424.3h1v1.3h-1zM98 441.0h1v1.1h-1zM99 447.9h1v1.3h-1zM100 436.7h1v1.5h-1zM101 430.7h1v0.5h-1zM102 431.2h1v1.1h-1zM103 428.9h1v0.7h-1zM104 426.9h1v0.5h-1zM105 432.1h1v0.9h-1zM106 426.1h1v0.5h-1zM107 427.8h1v0.6h-1zM108 433.1h1v1.4h-1zM109 442.6h1v0.9h-1zM110 447.3h1v1.2h-1zM111 447.9h1v0.8h-1zM112 451.5h1v1.3h-1zM113 452.2h1v1.1h-1zM114 455.7h1v1.2h-1zM115 462.0h1v1.1h-1zM129 451.2h1v1.3h-1zM130 437.5h1v0.6h-1zM131 431.4h1v1.1h-1zM132 447.0h1v0.6h-1zM133 452.8h1v0.6h-1zM134 460.3h1v0.9h-1zM143 460.3h1v1.1h-1zM144 455.3h1v1.0h-1zM145 459.1h1v1.5h-1zM146 457.2h1v0.4h-1zM147 456.4h1v0.9h-1zM148 460.7h1v1.0h-1zM149 459.9h1v1.1h-1zM150 455.0h1v0.9h-1zM151 458.9h1v1.4h-1zM152 455.0h1v1.0h-1zM153 457.3h1v1.0h-1zM154 463.5h1v0.9h-1zM158 461.6h1v0.8h-1zM159 454.1h1v0.5h-1zM160 449.6h1v0.9h-1zM161 455.5h1v0.4h-1zM162 449.5h1v1.4h-1zM163 445.3h1v0.9h-1zM164 442.9h1v1.1h-1zM165 445.1h1v1.1h-1zM166 451.4h1v0.9h-1zM167 449.1h1v1.2h-1zM168 447.7h1v0.8h-1zM169 448.4h1v0.6h-1zM170 459.3h1v1.0h-1zM171 459.4h1v1.1h-1zM172 464.0h1v0.4h-1zM173 465.9h1v0.6h-1zM175 444.8h1v0.9h-1zM176 434.3h1v0.9h-1zM177 433.1h1v0.5h-1zM178 429.3h1v1.1h-1zM179 430.9h1v0.4h-1zM180 433.3h1v1.0h-1zM181 435.1h1v0.7h-1zM182 431.4h1v0.8h-1zM183 427.5h1v0.3h-1zM184 428.1h1v1.2h-1zM185 433.1h1v0.6h-1zM186 434.1h1v1.1h-1zM187 436.9h1v0.4h-1zM188 439.0h1v0.7h-1zM189 441.4h1v0.9h-1zM190 444.0h1v0.3h-1zM191 445.4h1v0.4h-1zM192 444.4h1v0.4h-1zM193 441.4h1v1.4h-1zM194 441.6h1v0.3h-1zM195 439.7h1v1.3h-1zM196 440.7h1v1.4h-1zM197 440.1h1v0.6h-1zM198 439.5h1v0.7h-1zM199 443.0h1v0.4h-1zM200 446.7h1v0.6h-1zM201 451.0h1v1.2h-1zM202 452.3h1v1.4h-1zM203 454.8h1v0.4h-1zM204 455.9h1v0.3h-1zM205 452.6h1v1.4h-1zM206 450.0h1v1.4h-1zM207 446.2h1v1.0h-1zM208 447.8h1v0.5h-1zM209 448.7h1v1.1h-1zM210 448.8h1v0.6h-1zM211 451.5h1v0.9h-1zM212 452.7h1v0.6h-1zM213 455.6h1v0.9h-1zM214 458.3h1v1.0h-1zM215 460.1h1v1.5h-1z"/>
<path fill="#14b0ec" d="M74 460.0h1v1.8h-1zM78 463.9h1v3.5h-1zM79 457.5h1v3.9h-1zM93 445.1h1v0.2h-1zM94 445.2h1v0.2h-1zM95 441.6h1v9.2h-1zM95 440.4h1v1.2h-1zM98 454.4h1v6.8h-1zM98 451.7h1v2.7h-1zM100 451.2h1v2.3h-1zM101 451.7h1v0.8h-1zM109 458.8h1v4.4h-1zM111 456.3h1v1.7h-1zM112 459.0h1v3.9h-1zM115 465.5h1v1.9h-1zM115 465.2h1v0.3h-1zM133 459.0h1v2.8h-1zM134 463.9h1v0.7h-1zM146 463.5h1v3.9h-1zM148 464.0h1v1.0h-1zM149 464.0h1v3.4h-1zM154 466.3h1v1.1h-1zM158 465.9h1v0.6h-1zM159 462.5h1v4.9h-1zM162 463.8h1v3.6h-1zM166 462.9h1v1.7h-1zM167 464.8h1v2.6h-1zM170 463.0h1v1.9h-1zM175 457.6h1v4.5h-1zM175 455.9h1v1.7h-1zM182 450.5h1v1.7h-1zM183 449.1h1v8.4h-1zM185 441.1h1v3.5h-1zM190 455.1h1v4.1h-1zM194 455.2h1v0.6h-1zM198 457.6h1v1.8h-1zM198 457.2h1v0.4h-1zM203 461.9h1v3.9h-1zM204 461.9h1v1.0h-1zM205 461.7h1v5.7h-1zM205 461.0h1v0.6h-1zM209 462.5h1v4.9h-1z"/>
<path fill="#7c58fc" d="M74 447.2h1v12.8h-1zM75 445.8h1v12.5h-1zM76 458.2h1v2.2h-1zM80 451.8h1v8.9h-1zM129 453.9h1v6.4h-1zM131 433.9h1v18.4h-1zM134 462.4h1v1.5h-1zM143 462.2h1v0.9h-1zM145 461.6h1v0.4h-1zM146 458.5h1v3.8h-1zM147 458.3h1v4.5h-1zM148 462.4h1v1.6h-1zM151 461.3h1v1.1h-1zM152 456.6h1v6.9h-1zM154 465.2h1v0.3h-1zM158 463.1h1v2.8h-1zM159 455.5h1v5.3h-1zM162 451.4h1v10.7h-1zM164 444.9h1v14.9h-1zM165 447.2h1v13.1h-1zM168 449.3h1v12.7h-1zM170 461.7h1v1.4h-1zM171 461.5h1v2.2h-1zM173 467.2h1v0.2h-1z"/>
<path fill="#80f4b4" d="M75 465.1h1v2.3h-1zM113 465.0h1v2.4h-1zM179 453.7h1v13.7h-1zM180 460.0h1v4.5h-1zM189 459.1h1v8.3h-1zM192 461.5h1v5.9h-1zM194 460.8h1v6.6h-1zM196 461.6h1v5.8h-1z"/>
<path fill="#40e0d8" d="M75 460.5h1v4.7h-1zM76 463.5h1v3.9h-1zM79 461.4h1v6.0h-1zM80 463.3h1v4.1h-1zM90 439.8h1v5.4h-1zM99 455.6h1v6.7h-1zM105 451.1h1v6.3h-1zM110 462.0h1v5.4h-1zM114 463.7h1v2.2h-1zM129 461.9h1v3.3h-1zM130 455.0h1v5.5h-1zM143 464.6h1v2.8h-1zM152 464.4h1v3.0h-1zM160 462.7h1v4.7h-1zM164 463.0h1v4.4h-1zM168 464.3h1v3.1h-1zM175 462.1h1v5.3h-1zM176 459.0h1v8.4h-1zM177 456.6h1v10.8h-1zM177 450.8h1v5.8h-1zM179 447.8h1v5.9h-1zM182 452.3h1v4.7h-1zM184 443.2h1v12.0h-1zM186 446.0h1v7.9h-1zM187 449.9h1v10.1h-1zM190 459.2h1v8.2h-1zM191 457.0h1v10.4h-1zM194 455.8h1v5.0h-1zM195 458.6h1v8.8h-1zM201 463.4h1v4.0h-1zM204 462.9h1v4.2h-1zM207 460.6h1v6.8h-1zM212 463.0h1v4.4h-1z"/>
<path fill="#3f6cf6" d="M75 458.3h1v2.2h-1zM80 460.7h1v2.6h-1zM82 465.1h1v0.9h-1zM97 444.1h1v2.5h-1zM102 447.4h1v3.1h-1zM103 447.1h1v3.7h-1zM112 457.8h1v1.1h-1zM129 460.3h1v1.7h-1zM133 457.5h1v1.5h-1zM143 463.1h1v1.5h-1zM147 462.8h1v2.0h-1zM149 462.9h1v1.2h-1zM150 461.2h1v2.8h-1zM152 463.5h1v0.9h-1zM164 459.8h1v3.2h-1zM169 462.4h1v2.0h-1zM193 455.7h1v0.2h-1zM209 460.3h1v2.2h-1z"/>
<path fill="#7a58fc" fill-opacity="0.6" d="M75 433.6h1v11.0h-1zM77 453.2h1v11.8h-1zM80 445.9h1v4.6h-1zM93 416.5h1v2.3h-1zM108 434.1h1v0.4h-1zM165 442.6h1v3.6h-1zM166 449.4h1v2.9h-1zM169 447.2h1v1.7h-1zM177 431.5h1v2.0h-1zM178 427.5h1v3.0h-1zM192 441.5h1v3.2h-1zM193 439.9h1v3.0h-1zM194 438.7h1v3.2h-1zM203 453.1h1v2.0h-1zM205 452.2h1v1.9h-1z"/>
<path fill="#20a0f0" d="M76 460.4h1v3.1h-1zM90 437.7h1v2.0h-1zM96 441.6h1v1.6h-1zM108 451.7h1v2.5h-1zM110 458.0h1v0.5h-1zM132 453.5h1v0.5h-1zM145 462.0h1v2.2h-1zM151 462.4h1v1.0h-1zM161 463.4h1v1.0h-1zM162 462.1h1v1.7h-1zM167 463.2h1v1.6h-1zM176 451.2h1v0.6h-1zM184 439.5h1v3.7h-1zM186 444.7h1v1.3h-1zM187 448.6h1v1.3h-1zM191 454.0h1v0.5h-1zM192 455.1h1v0.5h-1zM196 455.7h1v0.5h-1zM202 460.6h1v0.7h-1zM213 462.5h1v0.5h-1z"/>
<path fill="#6a38fc" fill-opacity="0.85" d="M76 446.2h1v10.7h-1zM78 435.2h1v15.1h-1zM95 410.3h1v3.8h-1zM96 418.6h1v2.3h-1zM97 423.3h1v2.3h-1zM99 439.1h1v10.1h-1zM100 433.7h1v4.5h-1zM103 427.9h1v1.7h-1zM104 424.2h1v3.2h-1zM109 441.3h1v2.1h-1zM110 442.9h1v5.6h-1zM111 446.1h1v2.6h-1zM160 445.2h1v5.4h-1zM161 449.6h1v6.3h-1zM162 446.0h1v4.8h-1zM163 441.9h1v4.3h-1zM164 442.1h1v1.9h-1zM167 447.2h1v3.1h-1zM180 432.5h1v1.9h-1zM181 432.7h1v3.2h-1zM182 428.7h1v3.5h-1zM186 433.0h1v2.3h-1zM187 434.5h1v2.8h-1zM188 436.5h1v3.2h-1zM191 441.4h1v4.4h-1zM196 438.1h1v4.0h-1zM197 438.2h1v2.4h-1zM198 436.8h1v3.4h-1zM199 440.8h1v2.6h-1zM200 443.9h1v3.4h-1zM201 448.2h1v3.9h-1zM204 447.7h1v8.6h-1zM207 441.7h1v5.5h-1zM208 441.5h1v6.8h-1zM212 452.0h1v1.3h-1z"/>
<path fill="#9074ff" fill-opacity="0.6" d="M76 433.3h1v12.9h-1zM78 426.6h1v8.6h-1zM95 408.2h1v2.2h-1zM96 417.1h1v1.5h-1zM97 420.3h1v3.0h-1zM99 430.0h1v9.2h-1zM100 428.1h1v5.6h-1zM103 426.2h1v1.6h-1zM104 422.5h1v1.7h-1zM109 438.5h1v2.8h-1zM110 439.4h1v3.5h-1zM111 444.9h1v1.2h-1zM160 441.7h1v3.4h-1zM161 444.8h1v4.8h-1zM162 443.6h1v2.4h-1zM163 435.7h1v6.2h-1zM164 439.5h1v2.6h-1zM167 443.3h1v3.9h-1zM180 430.2h1v2.2h-1zM181 428.5h1v4.2h-1zM182 426.6h1v2.1h-1zM186 431.5h1v1.4h-1zM187 431.8h1v2.7h-1zM188 434.5h1v2.0h-1zM191 437.7h1v3.7h-1zM196 432.6h1v5.4h-1zM197 435.6h1v2.6h-1zM198 434.5h1v2.3h-1zM199 438.3h1v2.6h-1zM200 441.9h1v2.0h-1zM201 445.5h1v2.7h-1zM204 442.3h1v5.4h-1zM207 434.9h1v6.8h-1zM208 434.4h1v7.1h-1zM212 450.6h1v1.3h-1z"/>
<path fill="#30c8e4" d="M77 466.4h1v1.0h-1zM82 466.0h1v1.4h-1zM88 466.9h1v0.2h-1zM96 443.3h1v8.1h-1zM108 460.5h1v6.9h-1zM114 465.9h1v1.5h-1zM132 454.0h1v1.8h-1zM145 464.1h1v3.3h-1zM166 464.6h1v2.8h-1zM178 456.3h1v11.1h-1zM178 446.5h1v9.9h-1zM181 452.4h1v5.8h-1zM185 444.6h1v14.5h-1zM188 449.3h1v7.4h-1zM192 455.6h1v5.8h-1zM193 455.9h1v2.3h-1zM196 456.3h1v5.4h-1zM197 455.6h1v5.3h-1zM200 461.6h1v5.8h-1zM202 463.9h1v3.5h-1zM208 460.9h1v6.5h-1zM211 463.2h1v4.2h-1z"/>
<path fill="#3a74f6" d="M78 461.1h1v2.8h-1zM91 431.6h1v1.6h-1zM99 455.1h1v0.5h-1zM113 460.6h1v1.3h-1zM114 462.9h1v0.8h-1zM131 452.3h1v2.3h-1zM144 461.7h1v2.5h-1zM159 460.8h1v1.7h-1zM160 461.2h1v1.5h-1zM179 445.3h1v2.5h-1zM180 448.5h1v2.7h-1zM201 458.9h1v1.2h-1zM203 461.2h1v0.7h-1zM210 461.1h1v2.1h-1z"/>
<path fill="#2f8cf2" d="M81 462.8h1v1.7h-1zM88 466.8h1v0.1h-1zM89 445.0h1v1.2h-1zM92 436.3h1v4.6h-1zM105 448.0h1v3.1h-1zM106 444.3h1v4.0h-1zM130 452.9h1v2.1h-1zM177 449.8h1v1.0h-1zM181 450.0h1v2.4h-1zM183 445.2h1v3.9h-1zM190 453.4h1v1.7h-1zM199 457.5h1v0.4h-1zM212 461.8h1v1.2h-1z"/>
<path fill="#60f0c0" d="M88 467.1h1v0.3h-1zM186 453.9h1v13.5h-1zM187 460.0h1v7.4h-1zM204 467.0h1v0.4h-1z"/>
<path fill="#fa0000" d="M89 454.4h1v13.0h-1zM93 451.5h1v15.9h-1zM97 458.4h1v9.0h-1zM99 462.7h1v4.7h-1zM132 458.5h1v8.9h-1zM133 462.6h1v4.8h-1zM180 466.0h1v1.4h-1zM181 463.4h1v4.0h-1z"/>
<path fill="#ff6030" d="M89 453.3h1v1.2h-1zM94 452.7h1v0.5h-1zM95 454.0h1v0.7h-1zM96 454.8h1v0.9h-1zM99 462.5h1v0.2h-1zM101 458.9h1v1.3h-1zM102 460.7h1v0.2h-1zM104 460.6h1v0.6h-1zM106 462.0h1v1.1h-1zM107 465.7h1v0.8h-1zM132 457.8h1v0.7h-1zM133 462.2h1v0.4h-1zM182 461.2h1v1.2h-1zM184 462.0h1v0.9h-1zM185 464.5h1v0.8h-1z"/>
<path fill="#ccd880" d="M89 452.1h1v1.2h-1zM95 453.3h1v0.7h-1zM97 456.5h1v1.0h-1zM100 459.2h1v1.0h-1zM104 460.0h1v0.6h-1zM105 460.2h1v1.0h-1zM132 457.1h1v0.7h-1zM181 461.3h1v1.0h-1zM183 461.3h1v0.6h-1zM185 463.8h1v0.8h-1z"/>
<path fill="#38d4e0" d="M89 451.1h1v1.1h-1zM93 445.3h1v0.6h-1zM100 453.5h1v5.3h-1zM102 450.5h1v10.0h-1zM103 450.9h1v8.9h-1zM108 454.2h1v6.3h-1zM131 454.6h1v3.8h-1zM134 464.5h1v2.1h-1zM147 464.8h1v2.6h-1zM148 465.0h1v2.4h-1zM158 466.5h1v0.9h-1zM163 462.9h1v4.5h-1zM176 451.8h1v7.2h-1zM180 451.2h1v8.7h-1zM181 458.2h1v3.1h-1zM210 463.1h1v4.3h-1z"/>
<path fill="#6a30fc" d="M89 431.6h1v13.5h-1zM90 411.5h1v26.2h-1zM91 401.0h1v30.6h-1zM92 411.6h1v24.8h-1zM93 419.7h1v25.4h-1zM94 410.7h1v34.5h-1zM96 422.3h1v19.3h-1zM97 426.4h1v17.8h-1zM101 432.3h1v19.4h-1zM102 433.6h1v13.9h-1zM103 430.6h1v16.5h-1zM110 449.1h1v8.9h-1zM111 449.5h1v6.8h-1zM112 453.5h1v4.3h-1zM114 457.7h1v5.2h-1zM115 463.7h1v1.5h-1zM176 435.9h1v15.3h-1zM177 434.5h1v15.2h-1zM178 431.1h1v13.9h-1zM179 432.1h1v13.2h-1zM180 435.2h1v13.3h-1zM181 436.8h1v13.3h-1zM183 428.6h1v16.6h-1zM184 430.2h1v9.3h-1zM188 440.7h1v7.5h-1zM189 443.4h1v5.9h-1zM190 445.7h1v7.7h-1zM191 447.1h1v6.9h-1zM192 445.6h1v9.5h-1zM193 444.2h1v11.5h-1zM194 442.9h1v12.3h-1zM195 442.2h1v14.2h-1zM197 441.4h1v13.2h-1zM200 448.0h1v9.1h-1zM202 455.1h1v5.5h-1zM203 455.7h1v5.5h-1zM204 457.0h1v4.9h-1zM205 454.6h1v6.4h-1zM207 448.5h1v10.9h-1zM209 451.2h1v9.1h-1zM210 450.0h1v11.1h-1zM212 453.9h1v7.9h-1zM213 457.9h1v4.5h-1zM215 462.0h1v5.4h-1z"/>
<path fill="#ff0000" d="M90 443.7h1v23.7h-1zM91 444.7h1v22.7h-1zM104 461.2h1v6.2h-1zM106 463.1h1v4.3h-1zM183 462.5h1v4.9h-1zM184 462.9h1v4.5h-1z"/>
<path fill="#ff8040" d="M91 443.8h1v1.0h-1zM98 461.5h1v0.3h-1zM100 460.2h1v1.0h-1zM103 460.4h1v0.6h-1zM105 461.1h1v1.0h-1zM129 466.0h1v0.8h-1zM130 464.5h1v0.9h-1zM180 465.2h1v0.8h-1z"/>
<path fill="#e8d070" d="M91 442.8h1v1.0h-1zM96 453.9h1v0.9h-1zM103 459.8h1v0.6h-1zM184 461.1h1v0.9h-1z"/>
<path fill="#40e4d4" d="M91 439.2h1v3.5h-1zM96 451.3h1v2.6h-1zM107 460.2h1v4.7h-1zM134 466.7h1v0.7h-1zM185 459.1h1v4.7h-1zM198 459.3h1v8.1h-1z"/>
<path fill="#ff1408" d="M92 448.0h1v19.4h-1zM94 453.2h1v14.2h-1zM96 455.6h1v11.8h-1zM100 461.2h1v6.2h-1zM102 460.9h1v6.5h-1zM103 461.1h1v6.3h-1zM105 462.1h1v5.3h-1zM129 466.9h1v0.5h-1zM130 465.4h1v2.0h-1zM131 458.5h1v8.9h-1z"/>
<path fill="#ff7a3a" d="M93 450.3h1v1.3h-1zM97 457.5h1v1.0h-1zM181 462.3h1v1.0h-1zM183 461.9h1v0.6h-1z"/>
<path fill="#ffb060" d="M93 449.0h1v1.3h-1zM94 452.2h1v0.5h-1zM98 461.1h1v0.3h-1zM99 462.2h1v0.2h-1zM101 457.6h1v1.3h-1zM102 460.5h1v0.2h-1zM106 460.9h1v1.1h-1zM107 464.9h1v0.8h-1zM129 465.2h1v0.8h-1zM130 463.7h1v0.9h-1zM133 461.8h1v0.4h-1zM180 464.5h1v0.8h-1zM182 460.0h1v1.2h-1z"/>
<path fill="#a0f0a0" d="M93 445.9h1v3.1h-1zM95 450.8h1v2.5h-1zM105 457.4h1v2.8h-1zM130 460.5h1v3.1h-1zM182 457.0h1v2.9h-1z"/>
<path fill="#58f0c8" d="M94 447.7h1v4.5h-1zM104 457.6h1v2.3h-1zM109 463.2h1v4.2h-1zM111 461.9h1v5.5h-1zM112 462.8h1v4.6h-1zM188 456.7h1v10.7h-1zM193 458.2h1v9.2h-1zM197 460.9h1v6.5h-1zM199 460.7h1v6.7h-1zM203 465.8h1v1.6h-1z"/>
<path fill="#a890ff" fill-opacity="0.49" d="M94 399.3h1v9.9h-1zM145 455.5h1v5.1h-1zM90 367.2h1v20.1h-1z"/>
<path fill="#ff0a0a" d="M95 454.7h1v12.7h-1zM98 461.8h1v5.6h-1zM101 460.1h1v7.3h-1zM107 466.5h1v0.9h-1zM182 462.4h1v5.0h-1zM185 465.3h1v2.1h-1z"/>
<path fill="#7038fa" d="M95 415.1h1v25.2h-1zM98 443.0h1v8.6h-1zM99 450.1h1v5.0h-1zM100 438.9h1v12.4h-1zM104 428.3h1v21.4h-1zM105 434.3h1v13.7h-1zM107 429.4h1v19.1h-1zM113 454.3h1v6.3h-1zM175 446.6h1v9.2h-1zM182 433.1h1v17.5h-1zM185 434.8h1v6.3h-1zM196 442.6h1v13.1h-1zM198 441.4h1v15.8h-1zM199 444.7h1v12.8h-1zM206 452.0h1v7.0h-1zM208 449.3h1v11.2h-1zM211 453.1h1v9.4h-1z"/>
<path fill="#60f0c8" d="M97 456.2h1v0.3h-1zM100 458.8h1v0.4h-1zM101 455.3h1v2.3h-1zM132 455.8h1v1.3h-1zM183 457.5h1v3.8h-1zM184 455.2h1v5.9h-1z"/>
<path fill="#50ecd0" d="M97 446.6h1v9.6h-1zM104 451.3h1v6.4h-1zM106 448.3h1v12.6h-1zM110 458.5h1v3.6h-1zM144 464.2h1v3.2h-1zM150 464.0h1v3.4h-1zM153 465.4h1v2.0h-1zM169 464.4h1v3.0h-1zM172 466.2h1v1.2h-1zM191 454.5h1v2.5h-1zM195 457.1h1v1.5h-1zM199 457.9h1v2.8h-1zM200 458.0h1v3.6h-1zM201 460.1h1v3.3h-1z"/>
<path fill="#6228fe" d="M106 427.6h1v16.7h-1zM108 435.9h1v15.8h-1zM109 444.2h1v12.7h-1zM186 435.9h1v8.8h-1zM187 438.7h1v9.9h-1zM201 453.3h1v5.7h-1zM214 460.2h1v5.0h-1z"/>
<path fill="#a890ff" fill-opacity="0.58" d="M129 442.6h1v9.9h-1zM171 451.2h1v9.4h-1z"/>
<path fill="#a890ff" fill-opacity="0.64" d="M130 428.1h1v10.0h-1z"/>
<path fill="#a890ff" fill-opacity="0.67" d="M144 451.4h1v4.9h-1z"/>
<path fill="#7a58fc" fill-opacity="0.45" d="M75 411.8h1v29.8h-1zM131 426.3h1v9.6h-1z"/>
<path fill="#a890ff" fill-opacity="0.35" d="M75 382.0h1v29.8h-1zM131 416.7h1v9.6h-1z"/>
<path fill="#a890ff" fill-opacity="0.17" d="M76 402.9h1v38.7h-1zM132 423.4h1v12.5h-1z"/>
<path fill="#7a58fc" fill-opacity="0.36" d="M78 434.8h1v14.8h-1zM95 407.5h1v7.9h-1zM176 428.4h1v7.2h-1zM206 439.4h1v10.5h-1zM235 455.1h1v12.3h-1zM302 455.1h1v12.3h-1z"/>
<path fill="#a890ff" fill-opacity="0.28" d="M78 420.0h1v14.8h-1zM95 399.6h1v7.9h-1zM176 421.2h1v7.2h-1zM206 428.9h1v10.5h-1zM235 442.7h1v12.3h-1zM302 442.7h1v12.3h-1z"/>
<path fill="#a890ff" fill-opacity="0.14" d="M79 430.3h1v19.2h-1zM96 405.1h1v10.3h-1zM177 426.2h1v9.4h-1zM207 436.2h1v13.7h-1zM236 451.4h1v16.0h-1zM303 451.4h1v16.0h-1z"/>
<path fill="#7a58fc" fill-opacity="0.63" d="M90 387.3h1v20.1h-1z"/>
<path fill="#a890ff" fill-opacity="0.24" d="M91 381.3h1v26.2h-1z"/>
<path fill="#7a58fc" fill-opacity="0.27" d="M288 459.8h1v7.6h-1zM279 460.8h1v6.6h-1z"/>
<path fill="#a890ff" fill-opacity="0.21" d="M288 452.2h1v7.6h-1zM279 454.1h1v6.6h-1z"/>
<path fill="#a890ff" fill-opacity="0.1" d="M289 457.5h1v9.9h-1zM280 458.8h1v8.6h-1z"/>
<path fill="#8a6cfe" fill-opacity="0.71" d="M25 464.6h1v2.5h-1zM314 463.9h1v2.5h-1z"/>
<path fill="#8a6cfe" fill-opacity="0.74" d="M28 465.1h1v2.0h-1z"/>
<path fill="#8a6cfe" fill-opacity="0.51" d="M38 462.4h1v2.0h-1zM236 455.3h1v8.5h-1zM249 464.1h1v3.0h-1zM284 464.9h1v1.5h-1zM296 462.9h1v2.5h-1z"/>
<path fill="#8a6cfe" fill-opacity="0.59" d="M41 465.4h1v1.0h-1zM62 453.2h1v3.4h-1zM218 442.3h1v8.5h-1z"/>
<path fill="#8a6cfe" fill-opacity="0.69" d="M47 460.4h1v2.0h-1zM307 463.1h1v4.0h-1z"/>
<path fill="#8a6cfe" fill-opacity="0.4" d="M53 462.9h1v2.5h-1zM219 466.1h1v1.0h-1zM232 457.7h1v5.6h-1zM271 464.1h1v3.0h-1z"/>
<path fill="#8a6cfe" fill-opacity="0.56" d="M56 464.4h1v2.0h-1zM124 458.4h1v4.0h-1zM274 466.1h1v1.0h-1z"/>
<path fill="#8a6cfe" fill-opacity="0.48" d="M57 456.7h1v6.3h-1z"/>
<path fill="#8a6cfe" fill-opacity="0.49" d="M118 463.1h1v4.0h-1z"/>
<path fill="#8a6cfe" fill-opacity="0.43" d="M120 463.1h1v4.0h-1zM225 459.4h1v3.0h-1z"/>
<path fill="#8a6cfe" fill-opacity="0.36" d="M124 441.9h1v7.4h-1z"/>
<path fill="#8a6cfe" fill-opacity="0.39" d="M137 445.3h1v6.1h-1zM140 465.1h1v2.0h-1zM256 465.1h1v2.0h-1z"/>
<path fill="#8a6cfe" fill-opacity="0.46" d="M141 464.9h1v1.5h-1zM309 457.4h1v5.0h-1z"/>
<path fill="#8a6cfe" fill-opacity="0.42" d="M217 462.9h1v1.5h-1z"/>
<path fill="#8a6cfe" fill-opacity="0.58" d="M220 447.1h1v5.1h-1zM238 462.4h1v4.0h-1z"/>
<path fill="#8a6cfe" fill-opacity="0.73" d="M229 466.1h1v1.0h-1zM319 461.4h1v5.0h-1z"/>
<path fill="#8a6cfe" fill-opacity="0.64" d="M234 460.4h1v2.0h-1z"/>
<path fill="#8a6cfe" fill-opacity="0.62" d="M240 463.4h1v1.0h-1zM244 461.4h1v4.0h-1z"/>
<path fill="#8a6cfe" fill-opacity="0.63" d="M246 461.9h1v2.5h-1z"/>
<path fill="#8a6cfe" fill-opacity="0.45" d="M248 461.9h1v2.5h-1z"/>
<path fill="#8a6cfe" fill-opacity="0.47" d="M255 461.4h1v4.0h-1z"/>
<path fill="#8a6cfe" fill-opacity="0.7" d="M269 460.4h1v2.0h-1z"/>
<path fill="#8a6cfe" fill-opacity="0.67" d="M277 461.4h1v5.0h-1z"/>
<path fill="#8a6cfe" fill-opacity="0.41" d="M288 459.4h1v5.0h-1z"/>
<path fill="#8a6cfe" fill-opacity="0.65" d="M293 462.9h1v2.5h-1z"/>
<path fill="#8a6cfe" fill-opacity="0.72" d="M295 463.4h1v3.0h-1z"/>
<path fill="#8a6cfe" fill-opacity="0.66" d="M297 462.4h1v3.0h-1z"/>
<path fill="#8a6cfe" fill-opacity="0.6" d="M298 465.6h1v1.5h-1z"/>
<path fill="#8a6cfe" fill-opacity="0.33" d="M300 446.1h1v5.1h-1z"/>
<path fill="#8a6cfe" fill-opacity="0.38" d="M304 463.9h1v1.5h-1z"/>
<path fill="#8a6cfe" fill-opacity="0.52" d="M317 463.4h1v2.0h-1z"/>
<path fill="#ff0000" d="M381 129.8h1v6.2h-1zM382 120.8h1v15.2h-1zM390 126.2h1v9.8h-1zM393 124.5h1v11.5h-1zM394 126.4h1v9.6h-1z"/>
<path fill="#ff8040" d="M381 128.6h1v1.2h-1zM389 125.5h1v0.8h-1zM396 125.2h1v0.6h-1zM397 125.5h1v0.5h-1zM429 133.4h1v0.8h-1zM547 122.3h1v1.0h-1z"/>
<path fill="#ccd880" d="M381 127.5h1v1.2h-1zM382 120.6h1v0.1h-1zM390 123.7h1v1.2h-1zM391 122.2h1v1.1h-1zM395 124.0h1v1.3h-1zM396 124.7h1v0.6h-1zM546 124.8h1v0.7h-1zM547 121.3h1v1.0h-1zM548 125.0h1v0.1h-1z"/>
<path fill="#60f0c8" d="M381 123.1h1v4.4h-1zM391 116.2h1v6.0h-1z"/>
<path fill="#14b0ec" d="M381 118.9h1v4.3h-1zM385 130.5h1v1.9h-1zM386 124.8h1v3.0h-1zM394 114.7h1v7.4h-1zM394 107.4h1v7.2h-1zM395 108.0h1v10.1h-1zM396 103.7h1v4.8h-1zM403 123.4h1v9.1h-1zM405 124.9h1v3.3h-1zM408 126.1h1v3.5h-1zM409 127.5h1v1.7h-1zM411 124.4h1v1.8h-1zM412 126.3h1v7.3h-1zM415 127.0h1v6.0h-1zM415 125.1h1v1.9h-1zM421 134.9h1v0.3h-1zM430 123.6h1v2.5h-1zM434 128.2h1v5.8h-1zM435 130.9h1v3.5h-1zM442 134.0h1v2.0h-1zM478 128.7h1v5.4h-1zM484 131.9h1v3.1h-1zM487 132.9h1v2.5h-1zM488 131.6h1v1.7h-1zM489 132.0h1v0.8h-1zM549 122.9h1v3.0h-1zM554 122.9h1v2.4h-1zM559 130.1h1v3.0h-1zM559 129.5h1v0.6h-1zM570 128.1h1v5.5h-1zM578 132.8h1v0.7h-1z"/>
<path fill="#20a0f0" d="M381 117.3h1v1.5h-1zM382 106.7h1v4.3h-1zM397 108.8h1v4.4h-1zM400 118.3h1v6.2h-1zM401 117.4h1v5.0h-1zM403 117.5h1v5.9h-1zM406 126.3h1v3.2h-1zM410 125.6h1v1.5h-1zM412 123.8h1v2.5h-1zM417 126.6h1v2.5h-1zM419 129.7h1v1.2h-1zM429 126.3h1v1.5h-1zM434 126.2h1v2.0h-1zM459 129.3h1v2.5h-1zM481 128.5h1v1.4h-1zM487 132.1h1v0.7h-1zM548 120.3h1v0.7h-1zM556 124.0h1v2.1h-1zM557 127.2h1v0.8h-1zM566 134.6h1v0.5h-1zM567 135.7h1v0.1h-1zM571 126.0h1v2.4h-1zM572 124.8h1v3.5h-1zM576 130.0h1v0.9h-1z"/>
<path fill="#6a30fc" d="M381 100.2h1v17.1h-1zM382 74.0h1v32.7h-1zM386 115.6h1v9.2h-1zM387 97.9h1v15.5h-1zM389 88.4h1v17.2h-1zM390 89.2h1v16.3h-1zM392 89.1h1v11.6h-1zM393 82.5h1v20.6h-1zM395 87.0h1v17.4h-1zM396 94.9h1v8.8h-1zM397 98.3h1v10.5h-1zM399 100.7h1v16.7h-1zM428 125.9h1v5.2h-1zM429 107.0h1v19.4h-1zM430 91.2h1v32.4h-1zM431 109.1h1v17.4h-1zM432 129.8h1v2.7h-1zM433 126.9h1v5.9h-1zM434 107.4h1v18.8h-1zM442 130.7h1v2.2h-1zM443 116.4h1v10.1h-1zM444 118.9h1v9.3h-1zM445 126.4h1v4.1h-1zM476 121.7h1v8.7h-1zM478 107.8h1v19.3h-1zM479 103.8h1v21.1h-1zM480 105.3h1v20.3h-1zM482 119.8h1v9.9h-1zM484 123.0h1v7.9h-1zM485 122.9h1v9.4h-1zM487 126.0h1v6.2h-1zM490 130.0h1v3.4h-1zM491 131.6h1v4.3h-1zM545 114.9h1v6.5h-1zM548 103.9h1v16.4h-1zM549 105.7h1v17.2h-1zM550 105.7h1v15.3h-1zM551 98.0h1v20.9h-1zM552 101.1h1v18.8h-1zM567 135.0h1v0.6h-1zM568 111.7h1v16.7h-1zM570 107.9h1v19.5h-1zM573 100.8h1v26.8h-1zM575 106.5h1v23.7h-1zM576 108.1h1v21.9h-1z"/>
<path fill="#9070fe" d="M381 98.8h1v1.4h-1zM382 72.6h1v1.5h-1zM383 88.3h1v1.1h-1zM384 128.2h1v1.0h-1zM385 123.6h1v0.6h-1zM386 115.1h1v0.5h-1zM387 97.1h1v0.9h-1zM388 89.2h1v1.4h-1zM389 87.3h1v1.1h-1zM390 88.6h1v0.7h-1zM391 88.4h1v1.0h-1zM392 87.9h1v1.1h-1zM393 81.0h1v1.5h-1zM394 76.8h1v0.9h-1zM395 86.3h1v0.7h-1zM396 93.9h1v1.0h-1zM397 97.8h1v0.6h-1zM398 101.4h1v1.5h-1zM399 99.9h1v0.8h-1zM400 96.5h1v1.4h-1zM401 95.9h1v1.2h-1zM402 92.7h1v0.9h-1zM403 93.9h1v1.2h-1zM404 103.0h1v1.2h-1zM405 108.4h1v0.5h-1zM406 115.8h1v1.3h-1zM407 114.7h1v1.1h-1zM408 109.6h1v1.5h-1zM409 108.4h1v1.1h-1zM410 103.1h1v0.8h-1zM411 98.2h1v0.9h-1zM412 94.9h1v1.4h-1zM413 99.4h1v1.0h-1zM414 102.5h1v0.8h-1zM415 99.9h1v1.2h-1zM416 117.4h1v0.7h-1zM417 108.1h1v1.2h-1zM418 114.8h1v1.1h-1zM419 121.0h1v0.8h-1zM420 127.6h1v1.3h-1zM421 130.3h1v0.7h-1zM422 134.8h1v0.4h-1zM428 125.3h1v0.7h-1zM429 106.0h1v0.9h-1zM430 90.0h1v1.2h-1zM431 108.4h1v0.7h-1zM432 128.7h1v1.1h-1zM433 126.2h1v0.7h-1zM434 106.2h1v1.2h-1zM435 114.0h1v1.0h-1zM442 129.3h1v1.4h-1zM443 115.4h1v1.0h-1zM444 118.3h1v0.5h-1zM445 125.0h1v1.4h-1zM458 132.9h1v0.7h-1zM459 120.5h1v1.5h-1zM460 125.8h1v1.4h-1zM476 121.1h1v0.6h-1zM477 109.5h1v0.9h-1zM478 106.8h1v1.0h-1zM479 103.0h1v0.8h-1zM480 104.5h1v0.8h-1zM481 112.4h1v0.8h-1zM482 119.2h1v0.6h-1zM483 122.2h1v1.3h-1zM484 122.5h1v0.5h-1zM485 122.2h1v0.7h-1zM486 123.4h1v1.5h-1zM487 124.9h1v1.1h-1zM488 124.3h1v0.6h-1zM489 126.2h1v1.0h-1zM490 129.4h1v0.6h-1zM491 130.9h1v0.7h-1zM545 114.3h1v0.6h-1zM546 99.4h1v1.2h-1zM547 102.6h1v1.4h-1zM548 102.4h1v1.5h-1zM549 104.9h1v0.8h-1zM550 104.5h1v1.2h-1zM551 97.0h1v1.0h-1zM552 100.0h1v1.0h-1zM553 99.9h1v1.5h-1zM554 99.9h1v0.6h-1zM555 100.9h1v0.9h-1zM556 102.5h1v1.1h-1zM557 110.0h1v0.6h-1zM558 120.7h1v1.0h-1zM559 113.5h1v0.8h-1zM560 117.5h1v0.6h-1zM561 121.3h1v1.1h-1zM562 128.8h1v0.8h-1zM564 127.9h1v0.7h-1zM565 117.7h1v1.5h-1zM566 132.5h1v0.3h-1zM567 134.7h1v0.4h-1zM568 111.0h1v0.7h-1zM569 109.5h1v1.1h-1zM570 107.3h1v0.6h-1zM571 104.3h1v1.0h-1zM572 102.2h1v0.7h-1zM573 99.6h1v1.2h-1zM574 102.4h1v0.8h-1zM575 105.7h1v0.8h-1zM576 107.4h1v0.6h-1zM577 115.4h1v1.4h-1zM578 125.6h1v0.6h-1z"/>
<path fill="#cfc4ff" d="M381 98.2h1v0.6h-1zM382 71.6h1v1.0h-1zM383 87.9h1v0.3h-1zM384 127.0h1v1.3h-1zM385 122.4h1v1.2h-1zM386 113.9h1v1.2h-1zM387 95.7h1v1.4h-1zM388 88.0h1v1.3h-1zM389 86.9h1v0.4h-1zM390 87.2h1v1.3h-1zM391 87.7h1v0.6h-1zM392 86.5h1v1.5h-1zM393 80.0h1v1.0h-1zM394 75.8h1v1.0h-1zM395 85.6h1v0.7h-1zM396 93.1h1v0.8h-1zM397 96.5h1v1.3h-1zM398 101.0h1v0.4h-1zM399 99.3h1v0.6h-1zM400 96.0h1v0.5h-1zM401 94.8h1v1.1h-1zM402 92.1h1v0.6h-1zM403 92.5h1v1.4h-1zM404 101.9h1v1.1h-1zM405 107.5h1v1.0h-1zM406 115.1h1v0.7h-1zM407 114.1h1v0.6h-1zM408 108.6h1v1.0h-1zM409 107.7h1v0.8h-1zM410 101.9h1v1.3h-1zM411 97.0h1v1.2h-1zM412 93.5h1v1.3h-1zM413 98.9h1v0.5h-1zM414 101.2h1v1.4h-1zM415 99.4h1v0.5h-1zM416 116.0h1v1.3h-1zM417 107.6h1v0.5h-1zM418 113.7h1v1.1h-1zM419 120.6h1v0.4h-1zM420 127.2h1v0.4h-1zM421 128.9h1v1.3h-1zM422 133.6h1v1.2h-1zM428 124.6h1v0.6h-1zM429 105.7h1v0.3h-1zM430 88.8h1v1.2h-1zM431 107.6h1v0.8h-1zM432 127.5h1v1.2h-1zM433 125.5h1v0.7h-1zM434 104.8h1v1.4h-1zM435 113.4h1v0.7h-1zM442 128.3h1v1.0h-1zM443 114.3h1v1.1h-1zM444 117.7h1v0.6h-1zM445 123.7h1v1.3h-1zM458 131.7h1v1.1h-1zM459 119.8h1v0.8h-1zM460 125.4h1v0.4h-1zM476 120.3h1v0.8h-1zM477 108.5h1v1.0h-1zM478 105.6h1v1.2h-1zM479 101.6h1v1.4h-1zM480 103.5h1v1.0h-1zM481 111.0h1v1.5h-1zM482 118.5h1v0.7h-1zM483 121.5h1v0.7h-1zM484 121.8h1v0.7h-1zM485 121.0h1v1.2h-1zM486 122.6h1v0.8h-1zM487 124.2h1v0.7h-1zM488 123.8h1v0.5h-1zM489 125.4h1v0.8h-1zM490 128.5h1v0.9h-1zM491 129.9h1v0.9h-1zM545 113.6h1v0.6h-1zM546 98.5h1v0.9h-1zM547 101.2h1v1.4h-1zM548 101.6h1v0.8h-1zM549 103.7h1v1.2h-1zM550 103.4h1v1.2h-1zM551 96.2h1v0.8h-1zM552 99.2h1v0.8h-1zM553 99.5h1v0.4h-1zM554 98.7h1v1.2h-1zM555 99.6h1v1.3h-1zM556 101.4h1v1.0h-1zM557 109.2h1v0.8h-1zM558 119.8h1v0.9h-1zM559 112.7h1v0.7h-1zM560 116.9h1v0.6h-1zM561 120.5h1v0.8h-1zM562 128.2h1v0.6h-1zM564 126.5h1v1.4h-1zM565 116.5h1v1.2h-1zM566 131.7h1v0.8h-1zM567 133.3h1v1.3h-1zM568 109.5h1v1.5h-1zM569 108.6h1v1.0h-1zM570 106.3h1v1.0h-1zM571 103.4h1v0.9h-1zM572 101.1h1v1.1h-1zM573 99.2h1v0.5h-1zM574 101.7h1v0.7h-1zM575 104.3h1v1.4h-1zM576 107.0h1v0.4h-1zM577 114.4h1v1.0h-1zM578 125.1h1v0.5h-1z"/>
<path fill="#a890ff" fill-opacity="0.49" d="M381 92.6h1v6.2h-1z"/>
<path fill="#ff6030" d="M382 120.7h1v0.1h-1zM391 123.3h1v1.1h-1zM392 122.6h1v1.0h-1zM395 125.3h1v1.3h-1zM546 125.5h1v0.7h-1zM548 125.1h1v0.1h-1z"/>
<path fill="#50ecd0" d="M382 111.0h1v9.5h-1zM383 111.7h1v11.2h-1zM385 132.4h1v3.6h-1zM393 105.8h1v7.4h-1zM396 108.5h1v14.2h-1zM410 127.1h1v5.3h-1zM418 130.1h1v4.4h-1zM430 126.1h1v6.9h-1zM431 130.1h1v3.9h-1zM432 134.2h1v1.8h-1zM477 129.5h1v5.1h-1zM554 125.3h1v4.5h-1zM558 129.7h1v3.1h-1zM560 130.5h1v3.6h-1zM574 131.4h1v1.8h-1z"/>
<path fill="#ff1408" d="M383 122.7h1v13.3h-1zM389 126.3h1v9.7h-1zM395 126.6h1v9.4h-1zM429 134.3h1v1.7h-1zM430 132.9h1v3.1h-1zM546 126.2h1v9.8h-1zM547 123.2h1v12.8h-1zM548 125.3h1v10.7h-1z"/>
<path fill="#2f8cf2" d="M383 106.0h1v5.7h-1zM387 113.4h1v7.2h-1zM393 103.0h1v2.7h-1zM399 117.4h1v5.5h-1zM402 117.1h1v6.8h-1zM407 124.9h1v4.0h-1zM413 121.3h1v5.4h-1zM431 126.5h1v3.6h-1zM432 132.5h1v1.7h-1zM433 132.8h1v0.5h-1zM476 130.4h1v1.1h-1zM480 125.6h1v2.1h-1zM483 129.7h1v1.5h-1zM546 118.0h1v0.8h-1zM555 123.3h1v3.4h-1zM560 129.8h1v0.7h-1zM561 130.6h1v0.4h-1zM562 132.1h1v1.0h-1zM565 130.4h1v1.0h-1zM569 127.6h1v1.5h-1zM575 130.2h1v0.9h-1z"/>
<path fill="#6228fe" d="M383 89.3h1v16.7h-1zM385 124.2h1v6.3h-1zM394 77.7h1v29.7h-1zM435 115.0h1v14.0h-1zM459 122.0h1v7.3h-1zM460 127.2h1v3.6h-1zM477 110.4h1v16.7h-1zM486 124.8h1v7.8h-1zM488 124.9h1v6.7h-1zM489 127.2h1v4.8h-1zM547 103.9h1v14.3h-1zM571 105.3h1v20.7h-1zM574 103.2h1v27.3h-1zM578 126.2h1v6.5h-1z"/>
<path fill="#80f4b4" d="M384 135.1h1v0.9h-1zM387 130.8h1v5.2h-1zM401 131.1h1v4.9h-1zM406 133.9h1v2.1h-1zM418 134.5h1v1.5h-1zM419 134.7h1v1.3h-1zM479 134.1h1v1.9h-1zM481 134.9h1v1.1h-1zM485 134.7h1v1.3h-1zM545 131.3h1v1.9h-1zM547 120.1h1v1.2h-1zM549 130.5h1v5.5h-1zM556 131.7h1v4.3h-1zM559 133.1h1v2.9h-1zM562 134.8h1v1.2h-1zM567 135.9h1v0.1h-1z"/>
<path fill="#30c8e4" d="M384 132.9h1v2.2h-1zM386 133.5h1v2.5h-1zM388 115.8h1v12.6h-1zM391 110.1h1v6.1h-1zM400 132.6h1v3.4h-1zM403 132.5h1v3.5h-1zM405 133.4h1v2.6h-1zM406 129.5h1v4.4h-1zM407 134.2h1v1.8h-1zM412 133.6h1v2.4h-1zM413 126.7h1v5.6h-1zM420 132.8h1v2.7h-1zM428 134.9h1v1.1h-1zM433 133.3h1v2.0h-1zM434 134.0h1v2.0h-1zM458 135.4h1v0.6h-1zM460 132.0h1v4.0h-1zM479 126.9h1v7.2h-1zM486 133.6h1v1.2h-1zM490 134.1h1v1.5h-1zM546 118.9h1v1.8h-1zM550 123.9h1v7.2h-1zM551 130.9h1v5.1h-1zM554 129.8h1v6.2h-1zM555 126.7h1v5.5h-1zM572 128.3h1v5.8h-1zM575 133.8h1v2.2h-1z"/>
<path fill="#4a58f8" d="M384 132.0h1v0.9h-1zM388 109.6h1v6.1h-1zM398 115.7h1v3.8h-1zM404 122.0h1v5.3h-1zM418 128.0h1v2.1h-1zM428 131.1h1v1.7h-1zM442 132.9h1v1.0h-1zM443 126.5h1v1.6h-1zM479 124.9h1v2.0h-1zM485 132.2h1v0.9h-1zM550 121.0h1v2.9h-1zM551 118.9h1v2.7h-1zM553 119.8h1v1.1h-1zM568 128.4h1v1.9h-1zM574 130.6h1v0.8h-1z"/>
<path fill="#7038fa" d="M384 129.2h1v2.8h-1zM388 90.7h1v19.0h-1zM391 89.3h1v15.7h-1zM398 102.9h1v12.9h-1zM458 133.6h1v1.4h-1zM481 113.2h1v15.3h-1zM483 123.5h1v6.2h-1zM546 100.6h1v17.4h-1zM553 101.4h1v18.4h-1zM569 110.6h1v17.0h-1zM572 102.9h1v21.9h-1zM577 116.8h1v13.8h-1z"/>
<path fill="#a890ff" fill-opacity="0.59" d="M384 123.6h1v4.7h-1zM431 98.9h1v9.6h-1z"/>
<path fill="#38d4e0" d="M386 127.8h1v5.7h-1zM387 120.6h1v10.2h-1zM389 109.7h1v6.6h-1zM390 109.1h1v13.6h-1zM396 122.7h1v2.0h-1zM402 123.9h1v7.2h-1zM408 129.6h1v4.3h-1zM417 129.2h1v5.3h-1zM421 135.2h1v0.6h-1zM428 132.8h1v2.1h-1zM429 127.8h1v3.9h-1zM459 131.8h1v4.2h-1zM482 130.8h1v3.6h-1zM485 133.1h1v1.7h-1zM488 133.3h1v1.8h-1zM489 132.8h1v2.3h-1zM546 120.7h1v4.1h-1zM547 118.7h1v1.4h-1zM549 125.9h1v4.6h-1zM552 122.0h1v7.5h-1zM553 120.9h1v9.1h-1zM561 131.0h1v2.5h-1zM566 135.1h1v0.9h-1zM567 135.7h1v0.1h-1zM568 130.3h1v4.2h-1zM571 128.4h1v4.3h-1zM573 128.4h1v5.0h-1zM576 130.9h1v3.3h-1zM578 133.5h1v2.3h-1z"/>
<path fill="#6a38fc" fill-opacity="0.85" d="M387 94.0h1v3.1h-1zM388 86.5h1v2.8h-1zM389 83.6h1v3.7h-1zM390 83.7h1v4.8h-1zM391 81.8h1v6.6h-1zM392 82.6h1v5.3h-1zM394 62.4h1v14.4h-1zM395 76.8h1v9.5h-1zM397 89.0h1v8.8h-1zM398 95.3h1v6.1h-1zM401 94.7h1v1.2h-1zM405 103.7h1v4.8h-1zM407 107.4h1v7.2h-1zM408 105.0h1v4.6h-1zM410 99.8h1v3.3h-1zM411 95.1h1v3.1h-1zM412 90.4h1v4.4h-1zM416 106.1h1v11.2h-1zM417 104.0h1v4.1h-1zM477 107.7h1v1.8h-1zM478 106.1h1v0.7h-1zM545 107.8h1v6.5h-1zM546 98.2h1v1.2h-1zM547 99.6h1v3.0h-1zM552 97.6h1v2.4h-1zM554 97.5h1v2.4h-1zM556 100.7h1v1.8h-1zM558 112.2h1v8.5h-1zM569 107.4h1v2.1h-1zM571 100.9h1v3.4h-1zM572 101.0h1v1.2h-1zM574 99.9h1v2.5h-1zM575 101.0h1v4.7h-1zM577 108.0h1v7.4h-1zM578 114.1h1v11.5h-1z"/>
<path fill="#9074ff" fill-opacity="0.6" d="M387 89.8h1v4.2h-1zM388 83.6h1v2.9h-1zM389 80.4h1v3.2h-1zM390 76.5h1v7.2h-1zM391 74.5h1v7.3h-1zM392 75.3h1v7.3h-1zM394 54.2h1v8.3h-1zM395 72.4h1v4.4h-1zM397 79.8h1v9.2h-1zM398 88.9h1v6.3h-1zM401 93.3h1v1.4h-1zM405 97.0h1v6.7h-1zM407 103.3h1v4.1h-1zM408 98.6h1v6.4h-1zM410 97.8h1v2.0h-1zM411 91.8h1v3.3h-1zM412 86.7h1v3.7h-1zM416 98.2h1v7.9h-1zM417 101.9h1v2.2h-1zM477 106.6h1v1.1h-1zM478 105.6h1v0.5h-1zM545 103.6h1v4.2h-1zM546 97.5h1v0.7h-1zM547 97.9h1v1.8h-1zM552 96.4h1v1.2h-1zM554 95.7h1v1.8h-1zM556 98.4h1v2.4h-1zM558 106.5h1v5.7h-1zM569 106.2h1v1.2h-1zM571 99.4h1v1.5h-1zM572 99.9h1v1.1h-1zM574 98.9h1v1.1h-1zM575 97.1h1v3.9h-1zM577 99.7h1v8.3h-1zM578 100.5h1v13.6h-1z"/>
<path fill="#40e4d4" d="M388 128.3h1v7.7h-1zM389 116.3h1v8.3h-1zM399 130.2h1v5.8h-1zM409 133.6h1v2.4h-1zM417 134.4h1v1.6h-1zM435 134.4h1v1.6h-1zM478 134.1h1v1.9h-1zM482 134.4h1v1.6h-1zM484 135.0h1v1.0h-1zM558 132.8h1v3.2h-1zM561 133.6h1v2.4h-1zM572 134.1h1v1.9h-1z"/>
<path fill="#e8d070" d="M389 124.7h1v0.8h-1zM392 121.6h1v1.0h-1zM397 125.0h1v0.5h-1zM429 132.6h1v0.8h-1zM545 133.2h1v0.9h-1z"/>
<path fill="#3a74f6" d="M389 105.6h1v4.1h-1zM390 105.5h1v3.5h-1zM392 100.7h1v10.4h-1zM395 104.4h1v3.6h-1zM414 122.4h1v3.3h-1zM416 125.9h1v3.7h-1zM420 131.2h1v1.6h-1zM444 128.2h1v2.3h-1zM478 127.1h1v1.7h-1zM482 129.8h1v1.0h-1zM484 130.9h1v1.0h-1zM552 119.9h1v2.1h-1zM564 133.3h1v0.5h-1zM570 127.3h1v0.8h-1z"/>
<path fill="#ff7a3a" d="M390 125.0h1v1.2h-1zM393 123.3h1v1.2h-1zM394 125.4h1v0.9h-1zM398 129.4h1v1.2h-1zM545 134.1h1v0.9h-1z"/>
<path fill="#a0f0a0" d="M390 122.7h1v1.0h-1zM393 113.1h1v9.0h-1zM395 118.1h1v5.9h-1z"/>
<path fill="#ff0a0a" d="M391 124.4h1v11.6h-1zM397 126.1h1v9.9h-1zM545 135.0h1v1.0h-1z"/>
<path fill="#3f6cf6" d="M391 105.0h1v5.1h-1zM435 129.0h1v2.0h-1zM445 130.5h1v2.6h-1zM458 135.0h1v0.5h-1zM460 130.8h1v1.2h-1zM477 127.1h1v2.4h-1zM486 132.6h1v1.0h-1zM490 133.5h1v0.7h-1zM545 121.4h1v3.2h-1zM547 118.2h1v0.5h-1zM558 128.6h1v1.0h-1zM573 127.6h1v0.8h-1zM577 130.6h1v1.5h-1z"/>
<path fill="#fa0000" d="M392 123.6h1v12.4h-1zM396 125.8h1v10.2h-1zM398 130.6h1v5.4h-1z"/>
<path fill="#40e0d8" d="M392 111.1h1v10.5h-1zM397 113.2h1v11.8h-1zM399 122.9h1v7.2h-1zM408 133.9h1v2.1h-1zM411 126.3h1v6.3h-1zM414 125.7h1v8.2h-1zM415 132.9h1v3.1h-1zM443 128.1h1v6.3h-1zM444 130.5h1v2.9h-1zM476 135.1h1v0.9h-1zM476 131.5h1v3.5h-1zM477 134.6h1v1.4h-1zM480 127.6h1v6.4h-1zM481 130.0h1v4.9h-1zM483 131.2h1v3.3h-1zM486 134.9h1v1.1h-1zM489 135.1h1v0.9h-1zM490 135.7h1v0.3h-1zM545 124.6h1v6.7h-1zM548 121.0h1v4.0h-1zM552 129.5h1v6.5h-1zM555 132.2h1v3.8h-1zM560 134.0h1v2.0h-1zM562 133.0h1v1.8h-1zM568 134.6h1v1.4h-1zM569 129.1h1v4.8h-1zM570 133.6h1v2.4h-1zM575 131.1h1v2.7h-1zM576 134.3h1v1.7h-1z"/>
<path fill="#ffb060" d="M393 122.2h1v1.2h-1zM394 124.5h1v0.9h-1zM398 128.2h1v1.2h-1z"/>
<path fill="#58f0c8" d="M394 122.1h1v2.4h-1zM398 125.6h1v2.6h-1zM404 133.7h1v2.3h-1zM410 132.4h1v3.6h-1zM411 132.6h1v3.4h-1zM414 133.9h1v2.1h-1zM416 133.9h1v2.1h-1zM420 135.6h1v0.4h-1zM429 131.7h1v0.9h-1zM433 135.3h1v0.7h-1zM443 134.4h1v1.6h-1zM445 135.8h1v0.2h-1zM480 134.1h1v1.9h-1zM483 134.5h1v1.5h-1zM488 135.1h1v0.9h-1zM553 130.0h1v6.0h-1zM557 132.5h1v3.5h-1zM569 133.9h1v2.1h-1zM571 132.7h1v3.3h-1zM577 134.6h1v1.4h-1z"/>
<path fill="#2fb8ea" d="M398 119.5h1v6.1h-1zM400 124.4h1v8.2h-1zM401 122.5h1v8.6h-1zM404 127.3h1v6.4h-1zM405 128.2h1v5.2h-1zM407 128.9h1v5.3h-1zM409 129.2h1v4.4h-1zM416 129.6h1v4.4h-1zM419 130.9h1v3.8h-1zM445 133.1h1v2.7h-1zM551 121.6h1v9.2h-1zM556 126.0h1v5.6h-1zM557 127.9h1v4.6h-1zM564 133.8h1v2.2h-1zM565 131.4h1v4.6h-1zM577 132.1h1v2.5h-1z"/>
<path fill="#7c58fc" d="M400 97.8h1v20.4h-1zM402 93.7h1v23.4h-1zM403 95.2h1v22.3h-1zM404 104.2h1v17.8h-1zM405 109.0h1v15.9h-1zM406 117.1h1v9.2h-1zM407 115.8h1v9.2h-1zM409 109.6h1v17.9h-1zM412 96.3h1v27.6h-1zM417 109.4h1v17.3h-1zM418 115.9h1v12.1h-1zM421 131.0h1v4.0h-1zM422 135.2h1v0.8h-1zM555 101.7h1v21.6h-1zM556 103.6h1v20.4h-1zM557 110.6h1v16.6h-1zM558 121.7h1v7.0h-1zM559 114.2h1v15.3h-1zM560 118.1h1v11.6h-1zM562 129.5h1v2.5h-1zM565 119.2h1v11.3h-1zM566 132.8h1v1.8h-1z"/>
<path fill="#8d70fd" d="M401 97.1h1v20.3h-1zM408 111.1h1v15.0h-1zM410 103.9h1v21.7h-1zM411 99.1h1v25.4h-1zM413 100.5h1v20.9h-1zM414 103.3h1v19.1h-1zM415 101.1h1v24.0h-1zM416 118.0h1v7.8h-1zM419 121.8h1v7.9h-1zM420 128.9h1v2.3h-1zM554 100.5h1v22.4h-1zM561 122.4h1v8.2h-1zM564 128.5h1v4.7h-1z"/>
<path fill="#60f0c0" d="M402 131.1h1v4.9h-1zM413 132.2h1v3.8h-1zM421 135.8h1v0.2h-1zM431 134.0h1v2.0h-1zM444 133.4h1v2.6h-1zM487 135.3h1v0.7h-1zM550 131.1h1v4.9h-1zM573 133.4h1v2.6h-1zM574 133.2h1v2.8h-1zM578 135.8h1v0.2h-1z"/>
<path fill="#a890ff" fill-opacity="0.41" d="M403 87.0h1v6.9h-1z"/>
<path fill="#7a58fc" fill-opacity="0.6" d="M406 112.3h1v3.5h-1zM413 95.2h1v4.3h-1zM548 101.6h1v0.9h-1zM550 100.8h1v3.7h-1zM551 95.7h1v1.3h-1zM555 98.0h1v2.8h-1z"/>
<path fill="#a890ff" fill-opacity="0.67" d="M433 124.0h1v2.2h-1z"/>
<path fill="#a890ff" fill-opacity="0.53" d="M435 107.2h1v6.9h-1zM486 116.2h1v7.2h-1z"/>
<path fill="#a890ff" fill-opacity="0.65" d="M442 120.3h1v9.0h-1z"/>
<path fill="#a890ff" fill-opacity="0.52" d="M459 113.2h1v7.3h-1z"/>
<path fill="#7a58fc" fill-opacity="0.54" d="M382 64.4h1v7.0h-1z"/>
<path fill="#a890ff" fill-opacity="0.42" d="M382 57.4h1v7.0h-1z"/>
<path fill="#a890ff" fill-opacity="0.21" d="M383 62.3h1v9.1h-1z"/>
<path fill="#7a58fc" fill-opacity="0.45" d="M394 64.5h1v17.6h-1zM430 90.2h1v4.0h-1z"/>
<path fill="#a890ff" fill-opacity="0.35" d="M394 47.0h1v17.6h-1zM430 86.2h1v4.0h-1z"/>
<path fill="#a890ff" fill-opacity="0.17" d="M395 59.2h1v22.8h-1zM431 89.0h1v5.2h-1z"/>
<path fill="#7a58fc" fill-opacity="0.36" d="M413 90.6h1v8.9h-1zM444 98.7h1v18.6h-1zM434 102.1h1v3.5h-1zM554 93.1h1v6.9h-1zM578 105.3h1v19.1h-1zM551 95.6h1v4.8h-1zM560 107.3h1v10.3h-1z"/>
<path fill="#a890ff" fill-opacity="0.28" d="M413 81.7h1v8.9h-1zM444 80.0h1v18.6h-1zM434 98.5h1v3.5h-1zM554 86.2h1v6.9h-1zM578 86.2h1v19.1h-1zM551 90.8h1v4.8h-1zM560 97.0h1v10.3h-1z"/>
<path fill="#a890ff" fill-opacity="0.14" d="M414 88.0h1v11.5h-1zM445 93.1h1v24.2h-1zM435 101.0h1v4.6h-1zM555 91.0h1v8.9h-1zM579 99.6h1v24.8h-1zM552 94.2h1v6.2h-1zM561 104.2h1v13.4h-1z"/>
<path fill="#8a6cfe" fill-opacity="0.72" d="M351 130.0h1v1.0h-1z"/>
<path fill="#8a6cfe" fill-opacity="0.7" d="M358 126.0h1v5.0h-1zM515 133.2h1v2.5h-1z"/>
<path fill="#8a6cfe" fill-opacity="0.58" d="M359 130.7h1v5.0h-1zM465 130.5h1v2.5h-1z"/>
<path fill="#8a6cfe" fill-opacity="0.67" d="M360 133.7h1v2.0h-1z"/>
<path fill="#8a6cfe" fill-opacity="0.49" d="M361 134.0h1v1.0h-1zM381 130.5h1v2.5h-1zM495 133.0h1v1.0h-1zM503 133.7h1v2.0h-1z"/>
<path fill="#8a6cfe" fill-opacity="0.48" d="M363 129.0h1v4.0h-1zM586 133.0h1v2.0h-1z"/>
<path fill="#8a6cfe" fill-opacity="0.6" d="M364 122.7h1v8.4h-1zM375 131.0h1v3.0h-1z"/>
<path fill="#8a6cfe" fill-opacity="0.38" d="M366 130.0h1v1.0h-1zM457 129.0h1v5.0h-1z"/>
<path fill="#8a6cfe" fill-opacity="0.44" d="M368 130.0h1v1.0h-1zM423 131.5h1v1.5h-1zM514 116.7h1v4.6h-1z"/>
<path fill="#8a6cfe" fill-opacity="0.62" d="M370 133.2h1v2.5h-1zM427 130.7h1v5.0h-1z"/>
<path fill="#8a6cfe" fill-opacity="0.57" d="M371 134.0h1v1.0h-1z"/>
<path fill="#8a6cfe" fill-opacity="0.69" d="M372 130.5h1v2.5h-1zM512 128.0h1v5.0h-1z"/>
<path fill="#8a6cfe" fill-opacity="0.35" d="M373 126.0h1v5.0h-1z"/>
<path fill="#8a6cfe" fill-opacity="0.46" d="M380 133.7h1v2.0h-1zM466 133.5h1v1.5h-1z"/>
<path fill="#8a6cfe" fill-opacity="0.74" d="M382 134.2h1v1.5h-1zM471 128.0h1v3.0h-1z"/>
<path fill="#8a6cfe" fill-opacity="0.59" d="M439 133.2h1v2.5h-1zM464 128.0h1v3.0h-1z"/>
<path fill="#8a6cfe" fill-opacity="0.47" d="M451 126.0h1v5.0h-1z"/>
<path fill="#8a6cfe" fill-opacity="0.63" d="M455 133.2h1v2.5h-1z"/>
<path fill="#8a6cfe" fill-opacity="0.51" d="M468 134.7h1v1.0h-1z"/>
<path fill="#8a6cfe" fill-opacity="0.55" d="M469 130.0h1v4.0h-1z"/>
<path fill="#8a6cfe" fill-opacity="0.41" d="M496 121.7h1v7.6h-1zM529 133.5h1v1.5h-1z"/>
<path fill="#8a6cfe" fill-opacity="0.68" d="M497 129.0h1v5.0h-1z"/>
<path fill="#8a6cfe" fill-opacity="0.54" d="M499 134.2h1v1.5h-1zM543 130.5h1v2.5h-1z"/>
<path fill="#8a6cfe" fill-opacity="0.37" d="M504 129.0h1v5.0h-1z"/>
<path fill="#8a6cfe" fill-opacity="0.71" d="M510 130.0h1v4.0h-1z"/>
<path fill="#8a6cfe" fill-opacity="0.65" d="M514 132.7h1v3.0h-1z"/>
<path fill="#8a6cfe" fill-opacity="0.45" d="M521 126.0h1v5.0h-1z"/>
<path fill="#8a6cfe" fill-opacity="0.39" d="M535 130.0h1v3.0h-1z"/>
<path fill="#8a6cfe" fill-opacity="0.36" d="M541 128.0h1v3.0h-1z"/>
<path fill="#8a6cfe" fill-opacity="0.56" d="M583 131.7h1v4.0h-1z"/>
<path fill="#8a6cfe" fill-opacity="0.75" d="M589 133.0h1v1.0h-1z"/>
<path fill="#40e0d8" d="M401 299.4h1v1.3h-1zM413 294.8h1v5.9h-1zM421 281.5h1v5.3h-1zM442 289.6h1v7.8h-1zM444 298.3h1v2.4h-1zM445 296.8h1v3.2h-1zM535 277.8h1v12.8h-1zM538 277.9h1v11.0h-1zM543 288.6h1v7.0h-1zM554 284.9h1v6.4h-1zM559 279.5h1v12.2h-1zM560 277.4h1v16.9h-1zM564 275.1h1v18.0h-1zM565 280.3h1v12.3h-1zM577 300.2h1v0.5h-1z"/>
<path fill="#2f8cf2" d="M401 298.8h1v0.5h-1zM404 288.2h1v4.3h-1zM419 291.0h1v2.5h-1zM442 283.4h1v6.3h-1zM476 296.6h1v1.9h-1zM534 276.3h1v8.8h-1zM537 282.9h1v3.8h-1zM554 282.2h1v2.7h-1zM555 280.8h1v4.0h-1z"/>
<path fill="#6a30fc" d="M401 296.8h1v2.1h-1zM402 285.9h1v8.9h-1zM405 272.5h1v16.9h-1zM406 286.3h1v8.5h-1zM414 285.5h1v8.6h-1zM422 268.1h1v6.9h-1zM423 263.1h1v12.7h-1zM424 254.8h1v15.6h-1zM425 257.6h1v11.5h-1zM426 262.0h1v15.4h-1zM427 266.8h1v13.3h-1zM428 272.6h1v8.9h-1zM437 288.0h1v7.7h-1zM439 283.4h1v7.0h-1zM440 277.0h1v11.4h-1zM445 284.8h1v10.2h-1zM446 296.9h1v2.2h-1zM455 294.1h1v3.2h-1zM456 286.4h1v8.9h-1zM474 286.3h1v9.6h-1zM475 284.0h1v10.9h-1zM476 288.9h1v7.7h-1zM477 297.0h1v2.3h-1zM534 257.0h1v19.4h-1zM536 254.7h1v23.1h-1zM538 249.8h1v23.7h-1zM539 259.3h1v14.7h-1zM542 266.8h1v18.4h-1zM543 272.1h1v14.3h-1zM545 292.5h1v3.4h-1zM552 296.4h1v0.7h-1zM554 270.6h1v11.6h-1zM555 265.9h1v15.0h-1zM556 260.9h1v11.3h-1zM561 251.7h1v13.7h-1zM564 265.2h1v3.9h-1zM565 266.6h1v3.3h-1zM566 266.9h1v4.5h-1zM567 263.5h1v7.8h-1zM569 267.5h1v11.7h-1zM570 269.5h1v8.0h-1zM571 276.0h1v4.4h-1zM572 282.1h1v3.6h-1zM573 285.0h1v4.2h-1zM574 286.6h1v3.8h-1zM575 290.5h1v3.0h-1zM576 294.1h1v2.8h-1zM577 296.8h1v1.9h-1zM578 299.4h1v1.3h-1z"/>
<path fill="#9070fe" d="M401 296.3h1v0.5h-1zM402 284.8h1v1.1h-1zM403 273.8h1v0.9h-1zM404 266.9h1v1.1h-1zM405 271.5h1v1.0h-1zM406 285.8h1v0.5h-1zM412 276.5h1v1.4h-1zM413 273.4h1v0.9h-1zM414 284.9h1v0.6h-1zM419 277.5h1v1.2h-1zM420 270.9h1v0.9h-1zM421 270.7h1v0.8h-1zM422 266.6h1v1.4h-1zM423 262.5h1v0.6h-1zM424 254.2h1v0.6h-1zM425 256.8h1v0.8h-1zM426 261.3h1v0.7h-1zM427 265.7h1v1.2h-1zM428 271.5h1v1.2h-1zM429 278.6h1v1.0h-1zM430 286.4h1v1.4h-1zM431 293.2h1v0.5h-1zM437 287.3h1v0.7h-1zM438 285.5h1v0.6h-1zM439 282.2h1v1.2h-1zM440 276.0h1v0.9h-1zM441 268.7h1v1.1h-1zM442 265.3h1v0.6h-1zM443 267.3h1v0.8h-1zM444 274.0h1v0.8h-1zM445 284.2h1v0.6h-1zM446 296.3h1v0.6h-1zM455 292.8h1v1.3h-1zM456 285.5h1v0.8h-1zM457 299.9h1v0.4h-1zM473 300.3h1v0.3h-1zM474 284.9h1v1.4h-1zM475 282.8h1v1.2h-1zM476 288.0h1v0.8h-1zM477 296.3h1v0.7h-1zM533 296.8h1v0.4h-1zM534 256.4h1v0.5h-1zM535 241.2h1v1.1h-1zM536 253.2h1v1.4h-1zM537 258.4h1v1.3h-1zM538 249.0h1v0.8h-1zM539 258.0h1v1.4h-1zM540 272.3h1v0.9h-1zM541 277.0h1v1.3h-1zM542 265.8h1v0.9h-1zM543 271.4h1v0.8h-1zM544 279.8h1v0.5h-1zM545 291.1h1v1.3h-1zM552 295.6h1v0.8h-1zM553 275.2h1v1.2h-1zM554 269.6h1v1.0h-1zM555 265.2h1v0.6h-1zM556 260.4h1v0.5h-1zM557 257.1h1v1.1h-1zM558 258.7h1v0.6h-1zM559 261.4h1v0.7h-1zM560 256.2h1v1.5h-1zM561 250.5h1v1.2h-1zM562 249.8h1v1.4h-1zM563 256.5h1v1.2h-1zM564 263.9h1v1.2h-1zM565 265.4h1v1.1h-1zM566 265.5h1v1.4h-1zM567 262.5h1v1.0h-1zM568 265.2h1v1.2h-1zM569 266.3h1v1.2h-1zM570 268.4h1v1.1h-1zM571 274.9h1v1.0h-1zM572 281.5h1v0.6h-1zM573 284.1h1v0.9h-1zM574 285.8h1v0.8h-1zM575 289.5h1v1.0h-1zM576 293.1h1v1.0h-1zM577 296.1h1v0.7h-1zM578 298.9h1v0.6h-1z"/>
<path fill="#cfc4ff" d="M401 295.3h1v1.0h-1zM402 283.4h1v1.5h-1zM403 273.3h1v0.4h-1zM404 266.3h1v0.6h-1zM405 270.6h1v0.9h-1zM406 285.2h1v0.6h-1zM412 276.2h1v0.3h-1zM413 272.2h1v1.2h-1zM414 284.4h1v0.5h-1zM419 276.1h1v1.4h-1zM420 270.4h1v0.5h-1zM421 269.5h1v1.3h-1zM422 265.9h1v0.7h-1zM423 261.2h1v1.3h-1zM424 253.9h1v0.3h-1zM425 255.7h1v1.2h-1zM426 260.1h1v1.3h-1zM427 264.8h1v0.9h-1zM428 270.4h1v1.1h-1zM429 277.5h1v1.1h-1zM430 285.0h1v1.4h-1zM431 292.8h1v0.4h-1zM437 286.9h1v0.3h-1zM438 284.4h1v1.1h-1zM439 281.7h1v0.4h-1zM440 275.3h1v0.7h-1zM441 267.6h1v1.1h-1zM442 264.3h1v1.0h-1zM443 266.3h1v1.0h-1zM444 273.4h1v0.7h-1zM445 283.0h1v1.2h-1zM446 295.6h1v0.7h-1zM455 292.2h1v0.6h-1zM456 285.2h1v0.3h-1zM457 299.0h1v0.9h-1zM473 299.5h1v0.8h-1zM474 283.6h1v1.3h-1zM475 282.2h1v0.6h-1zM476 287.6h1v0.4h-1zM477 295.5h1v0.8h-1zM533 295.4h1v1.4h-1zM534 255.8h1v0.6h-1zM535 240.3h1v0.9h-1zM536 251.9h1v1.3h-1zM537 257.4h1v1.0h-1zM538 247.7h1v1.2h-1zM539 257.1h1v0.9h-1zM540 271.4h1v0.9h-1zM541 276.4h1v0.6h-1zM542 265.1h1v0.7h-1zM543 270.0h1v1.4h-1zM544 278.9h1v0.9h-1zM545 290.7h1v0.4h-1zM552 294.4h1v1.2h-1zM553 273.8h1v1.4h-1zM554 268.6h1v1.0h-1zM555 263.8h1v1.4h-1zM556 259.9h1v0.5h-1zM557 256.5h1v0.6h-1zM558 257.9h1v0.8h-1zM559 260.2h1v1.1h-1zM560 255.5h1v0.8h-1zM561 249.3h1v1.3h-1zM562 249.0h1v0.8h-1zM563 255.6h1v0.8h-1zM564 263.4h1v0.5h-1zM565 264.0h1v1.4h-1zM566 264.3h1v1.2h-1zM567 261.6h1v0.9h-1zM568 264.2h1v1.0h-1zM569 265.6h1v0.7h-1zM570 267.2h1v1.2h-1zM571 274.2h1v0.8h-1zM572 281.0h1v0.5h-1zM573 283.1h1v1.1h-1zM574 285.4h1v0.3h-1zM575 288.5h1v1.0h-1zM576 292.0h1v1.1h-1zM577 294.7h1v1.4h-1zM578 297.7h1v1.2h-1z"/>
<path fill="#80f4b4" d="M402 300.1h1v0.6h-1zM406 300.4h1v0.3h-1zM421 286.7h1v1.9h-1zM425 274.3h1v3.0h-1zM427 289.6h1v0.9h-1zM431 299.8h1v0.9h-1zM441 297.6h1v3.1h-1zM544 296.4h1v1.0h-1zM554 291.3h1v2.6h-1zM555 291.0h1v0.4h-1zM568 292.0h1v2.5h-1zM575 299.2h1v1.5h-1z"/>
<path fill="#14b0ec" d="M402 296.0h1v4.1h-1zM402 294.8h1v1.3h-1zM406 296.5h1v3.9h-1zM414 296.0h1v4.7h-1zM420 284.5h1v4.4h-1zM421 279.1h1v2.4h-1zM422 278.0h1v9.7h-1zM424 270.4h1v0.6h-1zM426 279.4h1v4.7h-1zM427 282.7h1v6.8h-1zM428 284.6h1v7.8h-1zM440 292.9h1v5.7h-1zM441 285.0h1v5.5h-1zM456 296.7h1v4.0h-1zM457 300.5h1v0.2h-1zM473 300.6h1v0.1h-1zM474 297.2h1v3.5h-1zM533 298.9h1v0.5h-1zM534 285.1h1v8.9h-1zM537 286.7h1v5.5h-1zM540 286.8h1v2.0h-1zM543 286.4h1v2.2h-1zM558 268.3h1v10.4h-1zM563 277.4h1v14.6h-1zM565 269.9h1v10.4h-1zM566 276.5h1v17.3h-1zM569 282.6h1v10.5h-1zM570 284.5h1v11.3h-1zM571 280.3h1v5.1h-1zM572 290.2h1v8.1h-1zM572 285.7h1v4.5h-1zM574 290.4h1v2.8h-1zM575 294.9h1v4.3h-1z"/>
<path fill="#60f0c0" d="M403 298.3h1v2.4h-1zM439 299.6h1v1.1h-1zM574 298.9h1v1.8h-1zM576 299.9h1v0.8h-1z"/>
<path fill="#30c8e4" d="M403 293.2h1v5.1h-1zM425 271.3h1v3.0h-1zM429 289.5h1v4.7h-1zM430 294.4h1v3.0h-1zM439 293.3h1v6.3h-1zM440 298.6h1v2.1h-1zM441 290.5h1v7.1h-1zM442 297.5h1v3.2h-1zM455 298.0h1v2.7h-1zM533 299.4h1v0.8h-1zM544 293.2h1v3.1h-1zM557 278.1h1v14.3h-1zM561 276.7h1v12.7h-1zM567 280.9h1v11.5h-1zM572 298.3h1v2.4h-1zM576 298.1h1v1.8h-1z"/>
<path fill="#4a58f8" d="M403 291.8h1v1.5h-1zM412 291.7h1v2.0h-1zM414 294.1h1v1.9h-1zM426 277.4h1v2.0h-1zM429 288.2h1v1.3h-1zM431 298.1h1v0.4h-1zM444 291.0h1v1.5h-1zM446 299.1h1v0.4h-1zM477 299.4h1v0.5h-1zM536 277.8h1v6.1h-1zM541 290.6h1v1.9h-1zM566 271.4h1v5.1h-1zM577 298.7h1v0.4h-1z"/>
<path fill="#6228fe" d="M403 274.7h1v17.1h-1zM404 267.9h1v20.3h-1zM412 277.9h1v13.9h-1zM421 271.5h1v7.5h-1zM431 293.8h1v4.3h-1zM438 286.1h1v7.6h-1zM441 269.8h1v15.3h-1zM535 242.3h1v26.2h-1zM537 259.7h1v23.2h-1zM541 278.3h1v12.4h-1zM544 280.3h1v9.9h-1zM558 259.3h1v9.0h-1zM560 257.7h1v13.9h-1zM562 251.2h1v17.3h-1z"/>
<path fill="#58f0c8" d="M404 297.8h1v2.9h-1zM405 298.8h1v1.9h-1zM443 297.6h1v3.1h-1zM445 300.0h1v0.7h-1zM553 292.4h1v1.9h-1zM561 289.5h1v3.2h-1zM569 293.1h1v2.0h-1zM573 298.2h1v2.5h-1z"/>
<path fill="#38d4e0" d="M404 292.6h1v5.2h-1zM422 287.7h1v4.2h-1zM437 297.0h1v3.7h-1zM536 283.9h1v6.8h-1zM539 283.1h1v9.1h-1zM540 288.8h1v5.6h-1zM562 276.3h1v12.1h-1zM565 292.6h1v1.2h-1zM566 293.8h1v0.3h-1zM567 292.3h1v2.1h-1zM568 281.0h1v11.0h-1zM571 296.8h1v0.5h-1z"/>
<path fill="#50ecd0" d="M405 292.2h1v6.5h-1zM412 293.7h1v7.0h-1zM420 288.9h1v4.5h-1zM423 280.7h1v6.6h-1zM424 271.0h1v1.8h-1zM438 295.6h1v5.1h-1zM443 291.5h1v6.2h-1zM444 292.5h1v5.8h-1zM475 297.2h1v3.5h-1zM476 298.5h1v2.2h-1zM541 292.5h1v3.8h-1zM542 288.7h1v5.2h-1zM545 297.7h1v1.9h-1zM552 298.1h1v1.4h-1zM553 284.9h1v7.5h-1zM555 284.9h1v6.1h-1zM556 276.5h1v11.7h-1zM571 285.5h1v11.4h-1zM574 293.2h1v5.7h-1zM577 299.1h1v1.1h-1z"/>
<path fill="#3f6cf6" d="M405 289.4h1v2.8h-1zM423 275.9h1v4.9h-1zM439 290.4h1v2.9h-1zM440 288.4h1v4.6h-1zM443 287.5h1v4.0h-1zM456 295.3h1v1.3h-1zM473 300.6h1v0.1h-1zM544 290.3h1v3.0h-1zM556 272.2h1v4.3h-1zM560 271.7h1v5.7h-1zM569 279.2h1v3.4h-1zM576 296.9h1v1.2h-1z"/>
<path fill="#20a0f0" d="M406 294.8h1v1.7h-1zM422 275.0h1v3.0h-1zM425 269.1h1v2.2h-1zM428 281.5h1v3.1h-1zM430 292.4h1v1.9h-1zM438 293.7h1v1.9h-1zM445 295.0h1v1.8h-1zM455 297.2h1v0.7h-1zM457 300.4h1v0.1h-1zM474 295.9h1v1.2h-1zM475 294.9h1v2.3h-1zM535 268.5h1v9.3h-1zM542 285.2h1v3.5h-1zM552 297.1h1v0.9h-1zM559 269.3h1v10.2h-1zM561 265.4h1v11.3h-1zM563 269.7h1v7.7h-1zM570 277.5h1v7.0h-1z"/>
<path fill="#a890ff" fill-opacity="0.52" d="M412 270.5h1v6.0h-1z"/>
<path fill="#3a74f6" d="M413 289.6h1v5.2h-1zM427 280.2h1v2.5h-1zM437 295.7h1v1.3h-1zM538 273.5h1v4.4h-1zM539 274.1h1v9.0h-1zM545 295.9h1v1.8h-1zM553 282.6h1v2.3h-1zM557 270.5h1v7.7h-1zM562 268.5h1v7.8h-1zM564 269.0h1v6.0h-1zM567 271.3h1v9.6h-1zM568 276.2h1v4.8h-1zM573 289.3h1v3.0h-1zM575 293.6h1v1.3h-1z"/>
<path fill="#7038fa" d="M413 274.3h1v15.3h-1zM419 278.7h1v12.2h-1zM420 271.7h1v12.8h-1zM429 279.6h1v8.6h-1zM430 287.8h1v4.6h-1zM442 265.9h1v17.5h-1zM443 268.1h1v19.4h-1zM444 274.8h1v16.2h-1zM457 300.3h1v0.1h-1zM533 297.3h1v1.6h-1zM540 273.3h1v13.5h-1zM553 276.4h1v6.2h-1zM557 258.2h1v12.2h-1zM559 262.0h1v7.3h-1zM563 257.6h1v12.0h-1zM568 266.4h1v9.8h-1z"/>
<path fill="#ff0000" d="M419 300.3h1v0.4h-1zM422 293.9h1v6.8h-1zM423 288.5h1v12.2h-1zM425 279.8h1v20.9h-1zM427 291.5h1v9.2h-1zM535 294.8h1v5.9h-1zM538 293.2h1v7.5h-1zM540 298.4h1v2.3h-1zM543 296.8h1v3.9h-1zM553 296.1h1v4.6h-1zM555 293.8h1v6.9h-1zM557 293.2h1v7.5h-1zM558 294.2h1v6.5h-1zM560 295.8h1v4.9h-1zM564 294.1h1v6.6h-1zM566 296.0h1v4.7h-1z"/>
<path fill="#ff8040" d="M419 299.2h1v1.2h-1zM423 287.9h1v0.6h-1zM425 278.6h1v1.2h-1zM429 294.7h1v0.4h-1zM536 291.1h1v0.4h-1zM552 299.7h1v0.2h-1zM554 294.5h1v0.6h-1zM555 292.6h1v1.2h-1zM559 296.4h1v0.5h-1zM562 291.8h1v1.2h-1zM567 295.3h1v0.9h-1zM570 296.5h1v0.8h-1z"/>
<path fill="#ccd880" d="M419 298.0h1v1.2h-1zM421 288.6h1v1.1h-1zM425 277.4h1v1.2h-1zM536 290.7h1v0.4h-1zM537 292.1h1v0.8h-1zM538 291.0h1v1.1h-1zM540 296.1h1v1.2h-1zM541 298.7h1v0.8h-1zM553 294.3h1v0.9h-1zM554 293.9h1v0.6h-1zM555 291.4h1v1.2h-1zM556 291.8h1v0.6h-1zM560 294.3h1v0.7h-1zM564 293.0h1v0.5h-1zM565 293.8h1v0.6h-1zM566 294.1h1v1.0h-1zM567 294.4h1v0.9h-1zM569 295.1h1v0.7h-1z"/>
<path fill="#a0f0a0" d="M419 296.9h1v1.1h-1zM541 296.3h1v2.3h-1zM558 289.2h1v3.7h-1zM562 288.4h1v2.2h-1z"/>
<path fill="#2fb8ea" d="M419 293.5h1v3.5h-1zM431 298.4h1v1.4h-1zM446 299.5h1v1.2h-1zM477 299.8h1v0.9h-1zM558 278.7h1v10.5h-1zM573 292.2h1v6.0h-1z"/>
<path fill="#fa0000" d="M420 293.2h1v7.5h-1zM428 293.4h1v7.3h-1zM537 293.8h1v6.9h-1zM556 293.0h1v7.7h-1zM567 296.2h1v4.5h-1z"/>
<path fill="#ff1408" d="M421 290.8h1v9.9h-1zM426 289.4h1v11.3h-1zM430 297.9h1v2.8h-1zM536 291.5h1v9.2h-1zM544 298.6h1v2.1h-1zM552 299.9h1v0.8h-1zM554 295.1h1v5.6h-1zM559 296.9h1v3.8h-1zM561 295.2h1v5.5h-1zM568 296.1h1v4.6h-1zM569 296.5h1v4.2h-1zM570 297.3h1v3.4h-1z"/>
<path fill="#ff7a3a" d="M421 289.7h1v1.1h-1zM426 288.8h1v0.6h-1zM534 294.3h1v0.3h-1zM535 293.7h1v1.1h-1zM537 293.0h1v0.8h-1zM539 294.1h1v0.9h-1zM540 297.2h1v1.2h-1zM541 299.5h1v0.8h-1zM542 296.1h1v0.5h-1zM560 295.0h1v0.7h-1zM563 292.2h1v0.2h-1zM565 294.3h1v0.6h-1zM566 295.0h1v1.0h-1zM568 295.3h1v0.8h-1zM571 298.4h1v1.1h-1z"/>
<path fill="#a890ff" fill-opacity="0.41" d="M421 263.6h1v7.2h-1z"/>
<path fill="#ff6030" d="M422 292.9h1v1.0h-1zM427 291.0h1v0.5h-1zM428 292.9h1v0.5h-1zM430 297.7h1v0.3h-1zM538 292.1h1v1.1h-1zM543 296.2h1v0.6h-1zM544 298.0h1v0.6h-1zM553 295.2h1v0.9h-1zM556 292.4h1v0.6h-1zM557 292.8h1v0.4h-1zM558 293.5h1v0.7h-1zM561 293.9h1v1.3h-1zM564 293.6h1v0.5h-1zM569 295.8h1v0.7h-1z"/>
<path fill="#e8d070" d="M422 291.9h1v1.0h-1zM423 287.4h1v0.6h-1zM426 288.2h1v0.6h-1zM428 292.4h1v0.5h-1zM429 294.2h1v0.4h-1zM430 297.4h1v0.3h-1zM542 295.6h1v0.5h-1zM543 295.7h1v0.6h-1zM552 299.5h1v0.2h-1zM557 292.5h1v0.4h-1zM559 295.8h1v0.5h-1zM561 292.6h1v1.3h-1zM562 290.6h1v1.2h-1zM563 292.0h1v0.2h-1zM568 294.5h1v0.8h-1zM570 295.7h1v0.8h-1zM571 297.4h1v1.1h-1z"/>
<path fill="#6a38fc" fill-opacity="0.85" d="M422 262.4h1v4.3h-1zM426 254.7h1v6.6h-1zM427 260.0h1v5.7h-1zM428 268.2h1v3.2h-1zM537 242.0h1v16.5h-1zM560 251.7h1v4.5h-1zM564 262.0h1v1.9h-1zM565 260.9h1v4.6h-1zM567 259.5h1v3.0h-1zM568 260.7h1v4.5h-1zM570 266.3h1v2.1h-1zM571 272.4h1v2.6h-1z"/>
<path fill="#9074ff" fill-opacity="0.6" d="M422 258.8h1v3.6h-1zM426 251.1h1v3.6h-1zM427 255.4h1v4.5h-1zM428 266.5h1v1.7h-1zM537 228.3h1v13.7h-1zM560 247.3h1v4.4h-1zM564 259.7h1v2.4h-1zM565 258.4h1v2.4h-1zM567 257.3h1v2.2h-1zM568 255.8h1v4.9h-1zM570 264.3h1v2.0h-1zM571 270.7h1v1.6h-1z"/>
<path fill="#ff0a0a" d="M424 270.4h1v30.3h-1zM429 295.1h1v5.6h-1zM534 294.5h1v6.2h-1zM539 294.9h1v5.8h-1zM541 300.3h1v0.4h-1zM542 296.6h1v4.1h-1zM562 293.0h1v7.7h-1zM563 292.4h1v8.3h-1zM565 294.9h1v5.8h-1zM571 299.5h1v1.2h-1z"/>
<path fill="#7a58fc" fill-opacity="0.6" d="M424 252.6h1v1.7h-1zM538 238.4h1v10.5h-1zM539 254.0h1v3.9h-1zM553 272.3h1v2.9h-1zM554 264.8h1v4.8h-1zM556 253.3h1v7.1h-1zM557 253.0h1v4.1h-1zM558 253.3h1v5.3h-1zM569 261.6h1v4.7h-1z"/>
<path fill="#60f0c8" d="M426 284.2h1v4.1h-1zM535 290.6h1v1.9h-1zM539 292.1h1v1.1h-1zM542 293.9h1v1.7h-1zM559 291.7h1v4.2h-1z"/>
<path fill="#ffb060" d="M427 290.5h1v0.5h-1zM534 294.0h1v0.3h-1zM535 292.5h1v1.1h-1zM539 293.2h1v0.9h-1zM544 297.4h1v0.6h-1zM558 292.8h1v0.7h-1z"/>
<path fill="#a890ff" fill-opacity="0.48" d="M443 265.2h1v2.1h-1z"/>
<path fill="#40e4d4" d="M533 300.1h1v0.6h-1zM538 288.9h1v2.1h-1zM540 294.4h1v1.6h-1zM545 299.6h1v1.1h-1zM556 288.2h1v3.6h-1z"/>
<path fill="#a890ff" fill-opacity="0.5" d="M542 259.8h1v6.0h-1z"/>
<path fill="#a890ff" fill-opacity="0.46" d="M572 274.2h1v7.3h-1z"/>
<path fill="#a890ff" fill-opacity="0.66" d="M575 280.9h1v8.6h-1z"/>
<path fill="#a890ff" fill-opacity="0.45" d="M577 289.5h1v6.6h-1z"/>
<path fill="#7a58fc" fill-opacity="0.36" d="M405 264.6h1v6.8h-1zM442 262.9h1v1.9h-1zM555 250.2h1v11.9h-1zM563 250.2h1v5.4h-1zM569 258.3h1v7.0h-1z"/>
<path fill="#a890ff" fill-opacity="0.28" d="M405 257.8h1v6.8h-1zM442 261.0h1v1.9h-1zM555 238.3h1v11.9h-1zM563 244.8h1v5.4h-1zM569 251.3h1v7.0h-1z"/>
<path fill="#a890ff" fill-opacity="0.14" d="M406 262.5h1v8.8h-1zM443 262.4h1v2.5h-1zM556 246.6h1v15.4h-1zM564 248.6h1v7.1h-1zM570 256.2h1v9.2h-1z"/>
<path fill="#7a58fc" fill-opacity="0.63" d="M425 228.4h1v27.9h-1z"/>
<path fill="#a890ff" fill-opacity="0.49" d="M425 200.5h1v27.9h-1z"/>
<path fill="#a890ff" fill-opacity="0.24" d="M426 220.1h1v36.2h-1zM640 258.6h1v21.0h-1z"/>
<path fill="#7a58fc" fill-opacity="0.27" d="M457 283.7h1v16.2h-1zM413 271.6h1v2.5h-1zM542 263.4h1v5.7h-1zM605 281.5h1v19.2h-1z"/>
<path fill="#a890ff" fill-opacity="0.21" d="M457 267.5h1v16.2h-1zM413 269.1h1v2.5h-1zM536 214.6h1v29.4h-1zM540 220.0h1v39.5h-1zM542 257.8h1v5.7h-1zM605 262.2h1v19.2h-1z"/>
<path fill="#a890ff" fill-opacity="0.1" d="M458 278.8h1v21.0h-1zM414 270.9h1v3.3h-1zM543 261.7h1v7.4h-1zM606 275.7h1v25.0h-1z"/>
<path fill="#7a58fc" fill-opacity="0.54" d="M535 221.4h1v22.6h-1zM539 229.2h1v30.4h-1z"/>
<path fill="#a890ff" fill-opacity="0.42" d="M535 198.8h1v22.6h-1zM539 198.8h1v30.4h-1z"/>
<path fill="#7a58fc" fill-opacity="0.45" d="M558 245.5h1v12.1h-1z"/>
<path fill="#a890ff" fill-opacity="0.35" d="M558 233.4h1v12.1h-1z"/>
<path fill="#a890ff" fill-opacity="0.17" d="M559 241.9h1v15.7h-1z"/>
<path fill="#7a58fc" fill-opacity="0.32" d="M640 279.7h1v21.0h-1z"/>
<path fill="#a890ff" fill-opacity="0.12" d="M641 273.4h1v27.3h-1z"/>
<path fill="#8a6cfe" fill-opacity="0.38" d="M347 297.9h1v2.5h-1zM351 292.7h1v5.0h-1zM395 299.4h1v1.0h-1zM623 297.4h1v3.0h-1z"/>
<path fill="#8a6cfe" fill-opacity="0.57" d="M354 296.7h1v3.0h-1zM372 297.7h1v1.0h-1zM384 299.4h1v1.0h-1zM509 296.7h1v1.0h-1zM590 277.8h1v6.7h-1z"/>
<path fill="#8a6cfe" fill-opacity="0.48" d="M359 296.2h1v1.5h-1z"/>
<path fill="#8a6cfe" fill-opacity="0.69" d="M360 293.7h1v4.0h-1z"/>
<path fill="#8a6cfe" fill-opacity="0.44" d="M361 290.7h1v5.0h-1zM511 294.2h1v1.5h-1zM641 293.7h1v2.0h-1z"/>
<path fill="#8a6cfe" fill-opacity="0.54" d="M367 297.9h1v2.5h-1zM466 296.4h1v4.0h-1zM470 297.9h1v2.5h-1zM487 293.7h1v4.0h-1zM493 298.2h1v1.5h-1z"/>
<path fill="#8a6cfe" fill-opacity="0.45" d="M368 298.9h1v1.5h-1zM519 294.7h1v3.0h-1zM601 295.7h1v2.0h-1zM638 298.7h1v1.0h-1z"/>
<path fill="#8a6cfe" fill-opacity="0.49" d="M373 297.9h1v2.5h-1z"/>
<path fill="#8a6cfe" fill-opacity="0.61" d="M376 295.2h1v2.5h-1zM589 295.4h1v5.0h-1z"/>
<path fill="#8a6cfe" fill-opacity="0.56" d="M380 294.7h1v4.0h-1zM629 292.7h1v5.0h-1z"/>
<path fill="#8a6cfe" fill-opacity="0.64" d="M386 296.7h1v2.0h-1zM416 293.7h1v5.0h-1z"/>
<path fill="#8a6cfe" fill-opacity="0.63" d="M393 297.4h1v3.0h-1zM612 295.7h1v2.0h-1zM628 295.7h1v4.0h-1z"/>
<path fill="#8a6cfe" fill-opacity="0.75" d="M417 297.4h1v3.0h-1z"/>
<path fill="#8a6cfe" fill-opacity="0.53" d="M461 296.7h1v1.0h-1zM489 297.4h1v3.0h-1zM599 298.9h1v1.5h-1z"/>
<path fill="#8a6cfe" fill-opacity="0.37" d="M469 293.2h1v2.5h-1z"/>
<path fill="#8a6cfe" fill-opacity="0.71" d="M477 294.7h1v1.0h-1zM494 292.7h1v5.0h-1z"/>
<path fill="#8a6cfe" fill-opacity="0.46" d="M480 296.4h1v4.0h-1zM510 296.4h1v4.0h-1zM525 297.7h1v1.0h-1z"/>
<path fill="#8a6cfe" fill-opacity="0.6" d="M498 292.7h1v3.0h-1z"/>
<path fill="#8a6cfe" fill-opacity="0.51" d="M506 297.4h1v3.0h-1zM624 293.2h1v2.5h-1z"/>
<path fill="#8a6cfe" fill-opacity="0.7" d="M508 292.7h1v3.0h-1zM597 295.4h1v5.0h-1z"/>
<path fill="#8a6cfe" fill-opacity="0.66" d="M521 297.7h1v2.0h-1z"/>
<path fill="#8a6cfe" fill-opacity="0.72" d="M531 296.4h1v4.0h-1z"/>
<path fill="#8a6cfe" fill-opacity="0.59" d="M583 292.7h1v5.0h-1z"/>
<path fill="#8a6cfe" fill-opacity="0.67" d="M585 293.7h1v2.0h-1z"/>
<path fill="#8a6cfe" fill-opacity="0.74" d="M587 298.4h1v2.0h-1z"/>
<path fill="#8a6cfe" fill-opacity="0.41" d="M613 297.7h1v2.0h-1z"/>
<path fill="#8a6cfe" fill-opacity="0.55" d="M626 294.2h1v1.5h-1zM644 298.9h1v1.5h-1z"/>
<path fill="#8a6cfe" fill-opacity="0.32" d="M634 281.1h1v6.2h-1z"/>
<path fill="#8a6cfe" fill-opacity="0.42" d="M640 297.4h1v3.0h-1z"/>
<path fill="#8a6cfe" fill-opacity="0.47" d="M649 298.2h1v1.5h-1z"/>
<path fill="#ff1408" d="M372 459.8h1v7.6h-1zM397 448.1h1v19.3h-1zM398 419.4h1v48.0h-1zM405 454.4h1v13.0h-1zM406 458.3h1v9.1h-1zM556 461.5h1v5.9h-1zM562 448.7h1v18.7h-1zM578 462.8h1v4.6h-1zM581 465.2h1v2.2h-1z"/>
<path fill="#50ecd0" d="M372 456.8h1v3.3h-1zM564 438.5h1v0.5h-1zM569 442.8h1v13.4h-1zM573 459.3h1v5.5h-1zM580 454.3h1v4.6h-1z"/>
<path fill="#3f6cf6" d="M372 455.3h1v1.4h-1zM376 462.3h1v0.2h-1zM408 458.1h1v3.0h-1zM413 463.8h1v1.5h-1zM414 457.4h1v4.7h-1zM548 392.9h1v7.6h-1zM549 390.7h1v9.0h-1zM552 429.8h1v6.4h-1zM556 440.9h1v5.3h-1zM562 438.7h1v2.6h-1zM576 449.8h1v2.8h-1zM577 448.1h1v5.4h-1z"/>
<path fill="#7038fa" d="M372 443.3h1v12.0h-1zM401 382.4h1v47.7h-1zM406 439.8h1v10.7h-1zM410 464.9h1v0.5h-1zM546 368.4h1v32.8h-1zM560 418.0h1v22.9h-1zM570 419.1h1v22.9h-1zM571 418.7h1v32.3h-1zM573 449.9h1v6.5h-1zM576 434.2h1v15.5h-1zM584 446.0h1v12.0h-1z"/>
<path fill="#9070fe" d="M372 442.6h1v0.6h-1zM373 424.3h1v1.0h-1zM374 422.4h1v1.0h-1zM375 430.5h1v0.5h-1zM376 455.2h1v0.8h-1zM395 443.2h1v0.8h-1zM396 414.4h1v1.0h-1zM397 388.0h1v1.2h-1zM398 361.2h1v0.6h-1zM399 361.0h1v1.2h-1zM400 375.2h1v1.0h-1zM401 381.1h1v1.3h-1zM402 390.1h1v1.2h-1zM403 401.6h1v0.7h-1zM404 413.9h1v1.1h-1zM405 429.8h1v0.7h-1zM406 438.4h1v1.4h-1zM407 443.5h1v1.1h-1zM408 448.8h1v1.5h-1zM409 456.7h1v1.4h-1zM410 464.4h1v0.4h-1zM413 460.3h1v1.3h-1zM414 450.6h1v0.8h-1zM415 447.5h1v0.9h-1zM416 451.2h1v0.8h-1zM417 458.5h1v1.3h-1zM546 367.8h1v0.6h-1zM547 365.3h1v1.3h-1zM548 370.6h1v0.5h-1zM549 379.4h1v1.0h-1zM550 379.7h1v0.8h-1zM551 382.7h1v1.1h-1zM552 396.6h1v1.2h-1zM553 405.2h1v0.9h-1zM554 404.7h1v0.9h-1zM555 395.0h1v1.4h-1zM556 392.5h1v1.2h-1zM557 399.4h1v1.4h-1zM558 402.6h1v1.2h-1zM559 413.7h1v0.7h-1zM560 417.4h1v0.6h-1zM561 419.3h1v1.0h-1zM562 418.6h1v0.6h-1zM563 414.7h1v0.7h-1zM564 421.3h1v0.5h-1zM565 425.7h1v1.0h-1zM566 427.5h1v1.5h-1zM567 423.8h1v1.2h-1zM568 420.2h1v0.7h-1zM569 420.4h1v0.5h-1zM570 418.3h1v0.8h-1zM571 417.4h1v1.3h-1zM572 423.2h1v1.1h-1zM573 449.1h1v0.8h-1zM574 455.0h1v1.1h-1zM575 449.5h1v1.1h-1zM576 433.3h1v0.9h-1zM577 429.7h1v0.6h-1zM578 430.7h1v1.0h-1zM579 428.5h1v0.9h-1zM580 429.2h1v1.0h-1zM581 429.5h1v0.8h-1zM582 431.0h1v1.3h-1zM583 437.9h1v1.5h-1zM584 445.1h1v0.9h-1zM585 454.9h1v1.4h-1z"/>
<path fill="#cfc4ff" d="M372 441.4h1v1.3h-1zM373 423.6h1v0.7h-1zM374 421.2h1v1.2h-1zM375 429.9h1v0.7h-1zM376 453.9h1v1.4h-1zM395 442.3h1v0.9h-1zM396 413.8h1v0.6h-1zM397 386.6h1v1.4h-1zM398 360.1h1v1.1h-1zM399 359.7h1v1.3h-1zM400 374.8h1v0.4h-1zM401 380.2h1v0.9h-1zM402 388.6h1v1.5h-1zM403 400.6h1v0.9h-1zM404 412.9h1v1.0h-1zM405 428.5h1v1.3h-1zM406 437.7h1v0.7h-1zM407 443.0h1v0.6h-1zM408 447.4h1v1.4h-1zM409 455.2h1v1.4h-1zM410 463.8h1v0.6h-1zM413 459.8h1v0.4h-1zM414 449.1h1v1.5h-1zM415 447.1h1v0.4h-1zM416 450.8h1v0.4h-1zM417 457.3h1v1.2h-1zM546 366.5h1v1.3h-1zM547 364.9h1v0.4h-1zM548 369.4h1v1.2h-1zM549 378.2h1v1.2h-1zM550 378.7h1v0.9h-1zM551 381.3h1v1.4h-1zM552 395.4h1v1.2h-1zM553 403.9h1v1.3h-1zM554 404.4h1v0.3h-1zM555 393.7h1v1.3h-1zM556 391.8h1v0.7h-1zM557 398.7h1v0.7h-1zM558 401.3h1v1.3h-1zM559 413.1h1v0.6h-1zM560 417.0h1v0.3h-1zM561 418.1h1v1.2h-1zM562 417.8h1v0.7h-1zM563 413.5h1v1.2h-1zM564 420.1h1v1.3h-1zM565 425.4h1v0.3h-1zM566 427.1h1v0.4h-1zM567 422.6h1v1.3h-1zM568 419.8h1v0.4h-1zM569 419.7h1v0.8h-1zM570 417.5h1v0.8h-1zM571 416.2h1v1.2h-1zM572 421.7h1v1.5h-1zM573 448.0h1v1.1h-1zM574 454.6h1v0.4h-1zM575 449.1h1v0.4h-1zM576 432.1h1v1.2h-1zM577 429.4h1v0.4h-1zM578 429.8h1v1.0h-1zM579 427.3h1v1.2h-1zM580 428.4h1v0.8h-1zM581 428.0h1v1.4h-1zM582 429.9h1v1.1h-1zM583 437.4h1v0.4h-1zM584 443.7h1v1.4h-1zM585 454.2h1v0.7h-1z"/>
<path fill="#ff0000" d="M373 455.1h1v12.3h-1zM375 456.5h1v10.9h-1zM403 445.9h1v21.5h-1zM404 451.0h1v16.4h-1zM407 463.8h1v3.6h-1zM547 422.2h1v45.2h-1zM550 453.9h1v13.5h-1zM554 461.2h1v6.2h-1zM555 462.0h1v5.4h-1zM558 463.8h1v3.6h-1zM563 447.7h1v19.7h-1zM564 447.7h1v19.7h-1zM569 462.6h1v4.8h-1zM571 462.3h1v5.1h-1zM572 464.0h1v3.4h-1zM580 464.8h1v2.6h-1z"/>
<path fill="#ff7a3a" d="M373 454.6h1v0.6h-1zM374 453.3h1v0.8h-1zM559 454.0h1v0.9h-1zM566 449.8h1v0.6h-1zM572 463.0h1v1.0h-1zM578 461.9h1v0.9h-1z"/>
<path fill="#ccd880" d="M373 454.0h1v0.6h-1zM374 452.5h1v0.8h-1zM398 418.2h1v0.6h-1zM403 444.1h1v0.9h-1zM407 462.5h1v0.6h-1zM550 451.4h1v1.3h-1zM552 453.7h1v0.5h-1zM556 459.9h1v0.8h-1zM562 446.3h1v1.2h-1zM566 449.2h1v0.6h-1zM570 458.4h1v0.9h-1zM572 462.1h1v1.0h-1zM578 461.1h1v0.9h-1zM580 462.3h1v1.2h-1zM581 463.0h1v1.1h-1z"/>
<path fill="#58f0c8" d="M373 452.7h1v1.3h-1zM547 415.8h1v3.9h-1zM549 416.6h1v1.9h-1zM579 459.8h1v0.4h-1zM582 463.0h1v4.4h-1zM583 464.9h1v2.5h-1z"/>
<path fill="#2fb8ea" d="M373 449.3h1v3.4h-1zM375 454.2h1v0.9h-1zM397 419.3h1v6.4h-1zM403 437.4h1v6.7h-1zM406 452.1h1v5.7h-1zM547 395.8h1v20.0h-1zM548 400.5h1v20.4h-1zM554 449.7h1v9.7h-1zM558 442.4h1v15.2h-1zM559 443.9h1v8.6h-1zM560 446.5h1v7.1h-1zM584 459.6h1v4.7h-1z"/>
<path fill="#20a0f0" d="M373 448.2h1v1.1h-1zM553 437.4h1v5.6h-1zM555 443.6h1v3.7h-1zM560 440.9h1v5.6h-1zM563 435.4h1v1.7h-1zM565 440.3h1v5.6h-1zM569 438.2h1v4.6h-1zM571 451.0h1v2.8h-1zM572 456.1h1v2.8h-1zM583 454.5h1v4.7h-1z"/>
<path fill="#6a30fc" d="M373 425.2h1v23.0h-1zM375 431.1h1v22.9h-1zM376 456.0h1v6.3h-1zM396 415.4h1v8.4h-1zM397 389.2h1v26.5h-1zM398 361.8h1v44.5h-1zM399 362.2h1v48.6h-1zM400 376.2h1v46.9h-1zM403 402.3h1v28.9h-1zM404 415.0h1v18.6h-1zM405 430.5h1v15.3h-1zM407 444.6h1v8.1h-1zM408 450.3h1v7.8h-1zM409 458.1h1v2.8h-1zM413 461.6h1v2.2h-1zM414 451.4h1v6.0h-1zM415 448.3h1v8.4h-1zM416 452.0h1v8.2h-1zM417 459.8h1v4.4h-1zM547 366.6h1v24.0h-1zM548 371.1h1v21.8h-1zM549 380.4h1v10.3h-1zM550 380.5h1v29.2h-1zM551 383.8h1v43.7h-1zM552 397.9h1v32.0h-1zM553 406.1h1v31.3h-1zM554 405.6h1v39.1h-1zM555 396.4h1v47.2h-1zM556 393.8h1v47.2h-1zM558 403.8h1v29.6h-1zM559 414.3h1v22.3h-1zM561 420.3h1v22.6h-1zM562 419.2h1v19.5h-1zM563 415.5h1v20.0h-1zM565 426.8h1v13.6h-1zM567 425.0h1v7.0h-1zM568 420.9h1v14.5h-1zM572 424.3h1v31.8h-1zM574 456.1h1v1.8h-1zM577 430.3h1v17.8h-1zM578 431.8h1v13.9h-1zM580 430.2h1v22.1h-1zM581 430.3h1v20.0h-1zM582 432.3h1v17.4h-1zM583 439.4h1v15.2h-1zM585 456.3h1v3.4h-1z"/>
<path fill="#7a58fc" fill-opacity="0.6" d="M373 418.4h1v5.8h-1zM374 416.2h1v6.2h-1zM555 394.0h1v1.1h-1zM562 409.6h1v9.0h-1zM566 419.5h1v8.0h-1zM567 418.8h1v5.0h-1z"/>
<path fill="#ff0a0a" d="M374 454.2h1v13.2h-1zM376 463.7h1v3.7h-1zM400 423.1h1v44.3h-1zM402 436.1h1v31.3h-1zM548 419.3h1v48.1h-1zM551 443.8h1v23.6h-1zM552 454.7h1v12.7h-1zM553 459.7h1v7.7h-1zM559 454.9h1v12.5h-1zM561 450.1h1v17.3h-1zM565 447.2h1v20.2h-1zM566 450.5h1v16.9h-1zM567 454.3h1v13.1h-1zM570 460.2h1v7.2h-1zM579 462.3h1v5.1h-1z"/>
<path fill="#40e4d4" d="M374 451.8h1v0.7h-1zM405 447.8h1v4.0h-1zM556 458.7h1v1.2h-1zM559 452.6h1v0.5h-1zM563 442.4h1v2.9h-1zM567 447.1h1v5.7h-1zM573 464.8h1v2.6h-1zM584 464.3h1v3.1h-1z"/>
<path fill="#30c8e4" d="M374 449.4h1v2.4h-1zM409 462.0h1v3.7h-1zM410 465.8h1v1.2h-1zM413 465.3h1v2.1h-1zM416 461.8h1v5.6h-1zM552 436.3h1v11.7h-1zM557 445.0h1v9.3h-1zM563 437.1h1v5.3h-1zM565 445.9h1v5.9h-1zM568 442.8h1v14.6h-1zM570 446.9h1v11.0h-1zM575 459.1h1v5.1h-1zM577 453.5h1v9.8h-1zM585 466.2h1v1.2h-1z"/>
<path fill="#2f8cf2" d="M374 448.0h1v1.4h-1zM375 453.9h1v0.3h-1zM396 423.8h1v13.0h-1zM405 445.9h1v0.8h-1zM550 409.7h1v14.0h-1zM561 442.8h1v3.9h-1zM574 458.0h1v1.7h-1zM575 456.7h1v2.4h-1zM581 450.3h1v2.3h-1z"/>
<path fill="#6228fe" d="M374 423.4h1v24.6h-1zM395 444.0h1v4.7h-1zM402 391.3h1v44.7h-1zM557 400.8h1v36.5h-1zM564 421.8h1v16.3h-1zM566 429.0h1v7.4h-1zM569 421.0h1v17.2h-1zM575 450.6h1v6.2h-1zM579 429.4h1v16.7h-1z"/>
<path fill="#ff8040" d="M375 455.8h1v0.7h-1zM397 446.9h1v1.2h-1zM403 445.0h1v0.9h-1zM405 453.1h1v1.3h-1zM547 420.9h1v1.3h-1zM549 419.2h1v0.7h-1zM551 443.1h1v0.7h-1zM553 459.1h1v0.6h-1zM555 461.7h1v0.3h-1zM562 447.5h1v1.2h-1zM563 446.5h1v1.2h-1zM564 447.0h1v0.7h-1zM567 453.5h1v0.7h-1zM569 461.5h1v1.1h-1zM570 459.3h1v0.9h-1zM571 461.5h1v0.9h-1zM579 461.3h1v1.0h-1zM581 464.1h1v1.1h-1z"/>
<path fill="#e8d070" d="M375 455.1h1v0.7h-1zM376 463.0h1v0.4h-1zM397 445.8h1v1.2h-1zM405 451.8h1v1.3h-1zM406 457.8h1v0.3h-1zM546 427.3h1v1.0h-1zM547 419.7h1v1.3h-1zM554 459.4h1v0.9h-1zM558 461.5h1v1.2h-1zM564 446.3h1v0.7h-1zM567 452.8h1v0.7h-1zM569 460.4h1v1.1h-1z"/>
<path fill="#ff6030" d="M376 463.4h1v0.4h-1zM398 418.8h1v0.6h-1zM404 450.3h1v0.7h-1zM406 458.1h1v0.3h-1zM407 463.2h1v0.6h-1zM546 428.3h1v1.0h-1zM550 452.7h1v1.3h-1zM552 454.2h1v0.5h-1zM554 460.3h1v0.9h-1zM556 460.7h1v0.8h-1zM557 458.6h1v0.7h-1zM558 462.6h1v1.2h-1zM580 463.6h1v1.2h-1z"/>
<path fill="#38d4e0" d="M376 462.6h1v0.4h-1zM395 454.0h1v6.8h-1zM402 437.1h1v2.8h-1zM407 459.8h1v2.8h-1zM408 461.0h1v3.3h-1zM417 465.4h1v2.0h-1zM549 399.7h1v16.9h-1zM551 439.6h1v2.8h-1zM551 433.5h1v6.1h-1zM552 447.9h1v5.8h-1zM553 443.0h1v15.5h-1zM557 454.4h1v3.6h-1zM558 457.6h1v3.9h-1zM564 439.0h1v7.3h-1zM574 459.7h1v5.1h-1zM576 452.6h1v10.9h-1zM578 460.9h1v0.1h-1zM578 451.6h1v9.3h-1zM581 452.6h1v7.5h-1zM583 459.3h1v5.6h-1zM585 462.0h1v4.2h-1z"/>
<path fill="#60f0c0" d="M395 460.7h1v6.7h-1zM408 464.4h1v3.0h-1zM409 465.7h1v1.7h-1zM410 467.0h1v0.4h-1zM574 464.8h1v2.6h-1z"/>
<path fill="#4a58f8" d="M395 448.7h1v5.3h-1zM410 465.3h1v0.4h-1zM564 438.1h1v0.4h-1zM570 442.0h1v4.9h-1zM573 456.5h1v2.9h-1zM580 452.3h1v2.0h-1z"/>
<path fill="#40e0d8" d="M396 455.6h1v11.8h-1zM399 411.9h1v1.3h-1zM405 446.6h1v1.2h-1zM546 412.1h1v15.2h-1zM550 423.7h1v22.5h-1zM561 446.7h1v5.0h-1zM566 439.8h1v3.8h-1zM567 436.8h1v10.2h-1zM575 464.2h1v3.2h-1z"/>
<path fill="#14b0ec" d="M396 436.8h1v18.8h-1zM399 410.8h1v1.1h-1zM402 436.1h1v1.0h-1zM404 438.5h1v8.5h-1zM406 450.5h1v1.6h-1zM407 455.8h1v4.0h-1zM407 452.7h1v3.1h-1zM409 460.9h1v1.1h-1zM414 462.1h1v5.3h-1zM415 461.4h1v6.0h-1zM415 456.8h1v4.6h-1zM547 390.6h1v5.2h-1zM555 447.4h1v14.1h-1zM556 446.2h1v12.4h-1zM557 437.3h1v7.7h-1zM558 433.5h1v8.9h-1zM562 441.3h1v3.9h-1zM566 436.4h1v3.4h-1zM568 435.4h1v7.4h-1zM571 453.8h1v4.9h-1zM572 458.9h1v3.2h-1zM579 452.1h1v7.7h-1zM582 453.5h1v9.5h-1zM582 449.8h1v3.7h-1z"/>
<path fill="#60f0c8" d="M397 425.7h1v20.1h-1zM398 406.3h1v12.0h-1zM562 445.2h1v1.1h-1zM566 443.6h1v5.6h-1zM570 457.9h1v0.6h-1zM571 458.7h1v1.9h-1zM580 459.0h1v3.4h-1z"/>
<path fill="#3a74f6" d="M397 415.6h1v3.7h-1zM403 431.2h1v6.2h-1zM404 433.6h1v4.9h-1zM416 460.2h1v1.6h-1zM417 464.2h1v1.2h-1zM546 401.2h1v10.9h-1zM551 427.5h1v6.0h-1zM554 444.8h1v4.9h-1zM559 436.7h1v7.2h-1zM567 432.1h1v4.8h-1zM578 445.6h1v6.0h-1zM579 446.1h1v6.0h-1zM584 458.0h1v1.6h-1zM585 459.7h1v2.4h-1z"/>
<path fill="#a890ff" fill-opacity="0.44" d="M397 384.6h1v3.3h-1zM416 445.2h1v6.0h-1z"/>
<path fill="#fa0000" d="M399 410.8h1v56.6h-1zM401 430.1h1v37.3h-1zM546 429.4h1v38.0h-1zM549 420.0h1v47.4h-1zM557 459.3h1v8.1h-1zM560 452.3h1v15.1h-1zM568 456.2h1v11.2h-1z"/>
<path fill="#ffb060" d="M404 449.5h1v0.7h-1zM549 418.5h1v0.7h-1zM551 442.5h1v0.7h-1zM553 458.5h1v0.6h-1zM555 461.4h1v0.3h-1zM557 458.0h1v0.7h-1zM559 453.0h1v0.9h-1zM563 445.3h1v1.2h-1zM571 460.6h1v0.9h-1zM579 460.3h1v1.0h-1z"/>
<path fill="#80f4b4" d="M404 447.0h1v2.5h-1zM569 456.2h1v4.2h-1zM576 463.5h1v3.9h-1zM577 463.3h1v4.1h-1z"/>
<path fill="#a890ff" fill-opacity="0.66" d="M409 446.8h1v9.8h-1z"/>
<path fill="#a0f0a0" d="M550 446.2h1v5.2h-1zM581 460.1h1v2.9h-1z"/>
<path fill="#6a38fc" fill-opacity="0.85" d="M558 399.0h1v3.6h-1zM559 408.8h1v4.9h-1zM561 413.8h1v5.4h-1zM563 406.7h1v8.0h-1zM564 408.3h1v13.0h-1zM565 413.5h1v12.2h-1z"/>
<path fill="#9074ff" fill-opacity="0.6" d="M558 395.1h1v3.9h-1zM559 406.4h1v2.3h-1zM561 406.7h1v7.2h-1zM563 400.8h1v5.9h-1zM564 400.0h1v8.3h-1zM565 405.1h1v8.4h-1z"/>
<path fill="#a890ff" fill-opacity="0.41" d="M570 413.9h1v4.4h-1z"/>
<path fill="#a890ff" fill-opacity="0.67" d="M572 419.6h1v3.6h-1z"/>
<path fill="#a890ff" fill-opacity="0.68" d="M584 440.1h1v5.1h-1z"/>
<path fill="#9a80fe" fill-opacity="0.5" d="M364 381.6h1v10.9h-1zM364 452.9h1v10.9h-1z"/>
<path fill="#7a58fc" fill-opacity="0.36" d="M396 399.1h1v16.2h-1zM553 396.5h1v6.4h-1zM560 394.6h1v20.3h-1zM579 399.1h1v24.7h-1zM355 452.3h1v15.1h-1zM640 450.5h1v16.9h-1z"/>
<path fill="#a890ff" fill-opacity="0.28" d="M396 382.9h1v16.2h-1zM553 390.1h1v6.4h-1zM560 374.4h1v20.3h-1zM579 374.4h1v24.7h-1zM355 437.2h1v15.1h-1zM640 433.6h1v16.9h-1z"/>
<path fill="#a890ff" fill-opacity="0.14" d="M397 394.2h1v21.0h-1zM554 394.6h1v8.3h-1zM561 388.6h1v26.4h-1zM580 391.7h1v32.2h-1zM356 447.8h1v19.6h-1zM641 445.4h1v22.0h-1z"/>
<path fill="#7a58fc" fill-opacity="0.27" d="M406 418.4h1v17.5h-1z"/>
<path fill="#a890ff" fill-opacity="0.21" d="M406 400.9h1v17.5h-1z"/>
<path fill="#a890ff" fill-opacity="0.1" d="M407 413.2h1v22.7h-1z"/>
<path fill="#8a6cfe" fill-opacity="0.37" d="M347 439.2h1v6.8h-1zM385 465.1h1v2.0h-1zM430 461.4h1v5.0h-1zM436 465.4h1v1.0h-1zM615 465.6h1v1.5h-1z"/>
<path fill="#8a6cfe" fill-opacity="0.46" d="M350 465.1h1v2.0h-1zM645 462.4h1v2.0h-1z"/>
<path fill="#8a6cfe" fill-opacity="0.38" d="M353 458.9h1v3.7h-1zM428 457.4h1v5.0h-1z"/>
<path fill="#8a6cfe" fill-opacity="0.32" d="M355 448.7h1v4.4h-1zM518 450.3h1v3.9h-1zM529 449.0h1v5.2h-1z"/>
<path fill="#8a6cfe" fill-opacity="0.33" d="M357 450.3h1v5.4h-1z"/>
<path fill="#8a6cfe" fill-opacity="0.49" d="M359 465.1h1v2.0h-1zM621 464.6h1v2.5h-1z"/>
<path fill="#8a6cfe" fill-opacity="0.66" d="M364 462.9h1v1.5h-1zM394 463.1h1v4.0h-1z"/>
<path fill="#8a6cfe" fill-opacity="0.61" d="M366 461.4h1v3.0h-1zM421 465.1h1v2.0h-1zM531 463.1h1v4.0h-1z"/>
<path fill="#8a6cfe" fill-opacity="0.58" d="M368 459.4h1v3.0h-1z"/>
<path fill="#8a6cfe" fill-opacity="0.43" d="M369 465.1h1v2.0h-1zM378 462.1h1v5.0h-1zM437 460.9h1v1.5h-1z"/>
<path fill="#8a6cfe" fill-opacity="0.74" d="M370 464.1h1v3.0h-1zM439 463.9h1v2.5h-1zM530 466.1h1v1.0h-1z"/>
<path fill="#8a6cfe" fill-opacity="0.35" d="M379 460.9h1v1.5h-1z"/>
<path fill="#8a6cfe" fill-opacity="0.7" d="M380 461.4h1v4.0h-1z"/>
<path fill="#8a6cfe" fill-opacity="0.63" d="M381 464.6h1v2.5h-1zM390 464.4h1v2.0h-1z"/>
<path fill="#8a6cfe" fill-opacity="0.59" d="M384 464.1h1v3.0h-1zM515 463.4h1v3.0h-1zM607 436.7h1v9.0h-1z"/>
<path fill="#8a6cfe" fill-opacity="0.71" d="M386 465.1h1v2.0h-1z"/>
<path fill="#8a6cfe" fill-opacity="0.48" d="M391 463.4h1v1.0h-1zM602 463.4h1v2.0h-1zM649 461.9h1v2.5h-1z"/>
<path fill="#8a6cfe" fill-opacity="0.6" d="M422 464.9h1v1.5h-1zM426 458.4h1v4.0h-1z"/>
<path fill="#8a6cfe" fill-opacity="0.67" d="M517 462.1h1v5.0h-1zM534 461.4h1v3.0h-1zM590 461.9h1v2.5h-1z"/>
<path fill="#8a6cfe" fill-opacity="0.69" d="M527 464.6h1v2.5h-1zM637 463.4h1v2.0h-1z"/>
<path fill="#8a6cfe" fill-opacity="0.56" d="M535 465.1h1v2.0h-1z"/>
<path fill="#8a6cfe" fill-opacity="0.47" d="M537 460.9h1v1.5h-1zM540 464.1h1v3.0h-1z"/>
<path fill="#8a6cfe" fill-opacity="0.42" d="M592 459.4h1v5.0h-1z"/>
<path fill="#8a6cfe" fill-opacity="0.4" d="M598 464.6h1v2.5h-1zM620 466.1h1v1.0h-1z"/>
<path fill="#8a6cfe" fill-opacity="0.55" d="M601 451.7h1v3.9h-1zM629 462.4h1v4.0h-1z"/>
<path fill="#8a6cfe" fill-opacity="0.53" d="M603 466.1h1v1.0h-1z"/>
<path fill="#8a6cfe" fill-opacity="0.45" d="M609 464.1h1v3.0h-1zM622 465.1h1v2.0h-1z"/>
<path fill="#8a6cfe" fill-opacity="0.51" d="M636 466.1h1v1.0h-1z"/>
<path fill="#8a6cfe" fill-opacity="0.68" d="M640 464.4h1v1.0h-1z"/>
<path fill="#8a6cfe" fill-opacity="0.52" d="M641 465.6h1v1.5h-1z"/>
</g>
<line x1="76.6" y1="21.5" x2="79.1" y2="21.5" stroke="#ff0000" stroke-width="1.9" stroke-linecap="round"/>
<line x1="84.0" y1="21.5" x2="84.6" y2="21.5" stroke="#ff0000" stroke-width="1.9" stroke-linecap="round"/>
<line x1="130.0" y1="21.5" x2="131.9" y2="21.5" stroke="#ff0000" stroke-width="1.9" stroke-linecap="round"/>
<line x1="136.1" y1="21.5" x2="140.4" y2="21.5" stroke="#ff0000" stroke-width="1.9" stroke-linecap="round"/>
<line x1="148.8" y1="21.5" x2="149.4" y2="21.5" stroke="#ff0000" stroke-width="1.9" stroke-linecap="round"/>
<line x1="154.5" y1="21.5" x2="164.3" y2="21.5" stroke="#ff0000" stroke-width="1.9" stroke-linecap="round"/>
<line x1="168.8" y1="21.5" x2="171.9" y2="21.5" stroke="#ff0000" stroke-width="1.9" stroke-linecap="round"/>
<line x1="75.8" y1="27.5" x2="75.8" y2="27.5" stroke="#ffa500" stroke-width="1.9" stroke-linecap="round"/>
<line x1="83.8" y1="27.5" x2="83.8" y2="27.5" stroke="#ffa500" stroke-width="1.9" stroke-linecap="round"/>
<line x1="89.5" y1="27.5" x2="89.5" y2="27.5" stroke="#ffa500" stroke-width="1.9" stroke-linecap="round"/>
<line x1="93.6" y1="27.5" x2="93.6" y2="27.5" stroke="#ffa500" stroke-width="1.9" stroke-linecap="round"/>
<line x1="97.7" y1="27.5" x2="99.0" y2="27.5" stroke="#ffa500" stroke-width="1.9" stroke-linecap="round"/>
<line x1="103.2" y1="27.5" x2="112.6" y2="27.5" stroke="#ffa500" stroke-width="1.9" stroke-linecap="round"/>
<line x1="125.9" y1="27.5" x2="129.6" y2="27.5" stroke="#ffa500" stroke-width="1.9" stroke-linecap="round"/>
<line x1="132.0" y1="27.5" x2="135.6" y2="27.5" stroke="#ffa500" stroke-width="1.9" stroke-linecap="round"/>
<line x1="138.9" y1="27.5" x2="141.9" y2="27.5" stroke="#ffa500" stroke-width="1.9" stroke-linecap="round"/>
<line x1="148.4" y1="27.5" x2="156.2" y2="27.5" stroke="#ffa500" stroke-width="1.9" stroke-linecap="round"/>
<line x1="160.6" y1="27.5" x2="167.4" y2="27.5" stroke="#ffa500" stroke-width="1.9" stroke-linecap="round"/>
<line x1="199.1" y1="27.5" x2="199.3" y2="27.5" stroke="#ffa500" stroke-width="1.9" stroke-linecap="round"/>
<line x1="202.8" y1="27.5" x2="205.4" y2="27.5" stroke="#ffa500" stroke-width="1.9" stroke-linecap="round"/>
<line x1="208.9" y1="27.5" x2="212.6" y2="27.5" stroke="#ffa500" stroke-width="1.9" stroke-linecap="round"/>
<line x1="279.4" y1="27.5" x2="281.5" y2="27.5" stroke="#ffa500" stroke-width="1.9" stroke-linecap="round"/>
<line x1="296.1" y1="27.5" x2="303.1" y2="27.5" stroke="#ffa500" stroke-width="1.9" stroke-linecap="round"/>
<line x1="307.4" y1="27.5" x2="307.6" y2="27.5" stroke="#ffa500" stroke-width="1.9" stroke-linecap="round"/>
<line x1="76.9" y1="33.6" x2="103.1" y2="33.6" stroke="#0000ff" stroke-width="1.9" stroke-linecap="round"/>
<line x1="106.3" y1="33.6" x2="110.6" y2="33.6" stroke="#0000ff" stroke-width="1.9" stroke-linecap="round"/>
<line x1="127.3" y1="33.6" x2="129.6" y2="33.6" stroke="#0000ff" stroke-width="1.9" stroke-linecap="round"/>
<line x1="132.9" y1="33.6" x2="153.5" y2="33.6" stroke="#0000ff" stroke-width="1.9" stroke-linecap="round"/>
<line x1="160.0" y1="33.6" x2="168.4" y2="33.6" stroke="#0000ff" stroke-width="1.9" stroke-linecap="round"/>
<line x1="172.3" y1="33.6" x2="202.4" y2="33.6" stroke="#0000ff" stroke-width="1.9" stroke-linecap="round"/>
<line x1="205.8" y1="33.6" x2="208.5" y2="33.6" stroke="#0000ff" stroke-width="1.9" stroke-linecap="round"/>
<line x1="281.9" y1="33.6" x2="295.8" y2="33.6" stroke="#0000ff" stroke-width="1.9" stroke-linecap="round"/>
<line x1="303.7" y1="33.6" x2="307.2" y2="33.6" stroke="#0000ff" stroke-width="1.9" stroke-linecap="round"/>
<line x1="61.3" y1="186.5" x2="63.2" y2="186.5" stroke="#ff0000" stroke-width="1.9" stroke-linecap="round"/>
<line x1="68.9" y1="186.5" x2="71.9" y2="186.5" stroke="#ff0000" stroke-width="1.9" stroke-linecap="round"/>
<line x1="80.8" y1="186.5" x2="82.2" y2="186.5" stroke="#ff0000" stroke-width="1.9" stroke-linecap="round"/>
<line x1="169.0" y1="186.5" x2="187.9" y2="186.5" stroke="#ff0000" stroke-width="1.9" stroke-linecap="round"/>
<line x1="55.1" y1="192.5" x2="68.7" y2="192.5" stroke="#ffa500" stroke-width="1.9" stroke-linecap="round"/>
<line x1="72.6" y1="192.5" x2="72.6" y2="192.5" stroke="#ffa500" stroke-width="1.9" stroke-linecap="round"/>
<line x1="80.3" y1="192.5" x2="82.9" y2="192.5" stroke="#ffa500" stroke-width="1.9" stroke-linecap="round"/>
<line x1="91.3" y1="192.5" x2="91.3" y2="192.5" stroke="#ffa500" stroke-width="1.9" stroke-linecap="round"/>
<line x1="98.3" y1="192.5" x2="98.3" y2="192.5" stroke="#ffa500" stroke-width="1.9" stroke-linecap="round"/>
<line x1="106.2" y1="192.5" x2="106.2" y2="192.5" stroke="#ffa500" stroke-width="1.9" stroke-linecap="round"/>
<line x1="143.4" y1="192.5" x2="168.3" y2="192.5" stroke="#ffa500" stroke-width="1.9" stroke-linecap="round"/>
<line x1="207.2" y1="192.5" x2="211.5" y2="192.5" stroke="#ffa500" stroke-width="1.9" stroke-linecap="round"/>
<line x1="286.0" y1="192.5" x2="290.8" y2="192.5" stroke="#ffa500" stroke-width="1.9" stroke-linecap="round"/>
<line x1="299.1" y1="192.5" x2="309.4" y2="192.5" stroke="#ffa500" stroke-width="1.9" stroke-linecap="round"/>
<line x1="312.3" y1="192.5" x2="314.4" y2="192.5" stroke="#ffa500" stroke-width="1.9" stroke-linecap="round"/>
<line x1="317.8" y1="192.5" x2="318.1" y2="192.5" stroke="#ffa500" stroke-width="1.9" stroke-linecap="round"/>
<line x1="59.5" y1="198.5" x2="61.0" y2="198.5" stroke="#0000ff" stroke-width="1.9" stroke-linecap="round"/>
<line x1="63.9" y1="198.5" x2="67.6" y2="198.5" stroke="#0000ff" stroke-width="1.9" stroke-linecap="round"/>
<line x1="79.9" y1="198.5" x2="104.8" y2="198.5" stroke="#0000ff" stroke-width="1.9" stroke-linecap="round"/>
<line x1="146.0" y1="198.5" x2="146.4" y2="198.5" stroke="#0000ff" stroke-width="1.9" stroke-linecap="round"/>
<line x1="156.5" y1="198.5" x2="161.7" y2="198.5" stroke="#0000ff" stroke-width="1.9" stroke-linecap="round"/>
<line x1="164.6" y1="198.5" x2="166.1" y2="198.5" stroke="#0000ff" stroke-width="1.9" stroke-linecap="round"/>
<line x1="188.6" y1="198.5" x2="209.8" y2="198.5" stroke="#0000ff" stroke-width="1.9" stroke-linecap="round"/>
<line x1="287.8" y1="198.5" x2="299.1" y2="198.5" stroke="#0000ff" stroke-width="1.9" stroke-linecap="round"/>
<line x1="89.8" y1="352.6" x2="98.9" y2="352.6" stroke="#ff0000" stroke-width="1.9" stroke-linecap="round"/>
<line x1="73.8" y1="358.7" x2="76.9" y2="358.7" stroke="#ffa500" stroke-width="1.9" stroke-linecap="round"/>
<line x1="79.7" y1="358.7" x2="80.2" y2="358.7" stroke="#ffa500" stroke-width="1.9" stroke-linecap="round"/>
<line x1="87.9" y1="358.7" x2="89.8" y2="358.7" stroke="#ffa500" stroke-width="1.9" stroke-linecap="round"/>
<line x1="93.9" y1="358.7" x2="93.9" y2="358.7" stroke="#ffa500" stroke-width="1.9" stroke-linecap="round"/>
<line x1="98.9" y1="358.7" x2="98.9" y2="358.7" stroke="#ffa500" stroke-width="1.9" stroke-linecap="round"/>
<line x1="102.1" y1="358.7" x2="102.1" y2="358.7" stroke="#ffa500" stroke-width="1.9" stroke-linecap="round"/>
<line x1="109.7" y1="358.7" x2="110.8" y2="358.7" stroke="#ffa500" stroke-width="1.9" stroke-linecap="round"/>
<line x1="129.5" y1="358.7" x2="134.8" y2="358.7" stroke="#ffa500" stroke-width="1.9" stroke-linecap="round"/>
<line x1="163.7" y1="358.7" x2="166.0" y2="358.7" stroke="#ffa500" stroke-width="1.9" stroke-linecap="round"/>
<line x1="169.0" y1="358.7" x2="170.7" y2="358.7" stroke="#ffa500" stroke-width="1.9" stroke-linecap="round"/>
<line x1="174.8" y1="358.7" x2="177.1" y2="358.7" stroke="#ffa500" stroke-width="1.9" stroke-linecap="round"/>
<line x1="191.8" y1="358.7" x2="201.1" y2="358.7" stroke="#ffa500" stroke-width="1.9" stroke-linecap="round"/>
<line x1="207.9" y1="358.7" x2="209.2" y2="358.7" stroke="#ffa500" stroke-width="1.9" stroke-linecap="round"/>
<line x1="76.4" y1="364.7" x2="76.4" y2="364.7" stroke="#0000ff" stroke-width="1.9" stroke-linecap="round"/>
<line x1="93.3" y1="364.7" x2="95.9" y2="364.7" stroke="#0000ff" stroke-width="1.9" stroke-linecap="round"/>
<line x1="99.2" y1="364.7" x2="109.6" y2="364.7" stroke="#0000ff" stroke-width="1.9" stroke-linecap="round"/>
<line x1="129.9" y1="364.7" x2="134.2" y2="364.7" stroke="#0000ff" stroke-width="1.9" stroke-linecap="round"/>
<line x1="176.6" y1="364.7" x2="192.9" y2="364.7" stroke="#0000ff" stroke-width="1.9" stroke-linecap="round"/>
<line x1="199.4" y1="364.7" x2="199.9" y2="364.7" stroke="#0000ff" stroke-width="1.9" stroke-linecap="round"/>
<line x1="381.9" y1="21.5" x2="384.1" y2="21.5" stroke="#ff0000" stroke-width="1.9" stroke-linecap="round"/>
<line x1="387.7" y1="21.5" x2="399.3" y2="21.5" stroke="#ff0000" stroke-width="1.9" stroke-linecap="round"/>
<line x1="546.9" y1="21.5" x2="546.9" y2="21.5" stroke="#ff0000" stroke-width="1.9" stroke-linecap="round"/>
<line x1="380.1" y1="27.5" x2="387.6" y2="27.5" stroke="#ffa500" stroke-width="1.9" stroke-linecap="round"/>
<line x1="397.8" y1="27.5" x2="401.1" y2="27.5" stroke="#ffa500" stroke-width="1.9" stroke-linecap="round"/>
<line x1="404.6" y1="27.5" x2="411.9" y2="27.5" stroke="#ffa500" stroke-width="1.9" stroke-linecap="round"/>
<line x1="414.8" y1="27.5" x2="420.1" y2="27.5" stroke="#ffa500" stroke-width="1.9" stroke-linecap="round"/>
<line x1="429.4" y1="27.5" x2="431.9" y2="27.5" stroke="#ffa500" stroke-width="1.9" stroke-linecap="round"/>
<line x1="435.0" y1="27.5" x2="435.2" y2="27.5" stroke="#ffa500" stroke-width="1.9" stroke-linecap="round"/>
<line x1="443.9" y1="27.5" x2="444.6" y2="27.5" stroke="#ffa500" stroke-width="1.9" stroke-linecap="round"/>
<line x1="477.5" y1="27.5" x2="482.1" y2="27.5" stroke="#ffa500" stroke-width="1.9" stroke-linecap="round"/>
<line x1="546.4" y1="27.5" x2="546.4" y2="27.5" stroke="#ffa500" stroke-width="1.9" stroke-linecap="round"/>
<line x1="557.8" y1="27.5" x2="561.8" y2="27.5" stroke="#ffa500" stroke-width="1.9" stroke-linecap="round"/>
<line x1="569.7" y1="27.5" x2="577.5" y2="27.5" stroke="#ffa500" stroke-width="1.9" stroke-linecap="round"/>
<line x1="385.9" y1="33.6" x2="386.1" y2="33.6" stroke="#0000ff" stroke-width="1.9" stroke-linecap="round"/>
<line x1="392.2" y1="33.6" x2="392.2" y2="33.6" stroke="#0000ff" stroke-width="1.9" stroke-linecap="round"/>
<line x1="399.6" y1="33.6" x2="406.1" y2="33.6" stroke="#0000ff" stroke-width="1.9" stroke-linecap="round"/>
<line x1="411.7" y1="33.6" x2="416.3" y2="33.6" stroke="#0000ff" stroke-width="1.9" stroke-linecap="round"/>
<line x1="429.9" y1="33.6" x2="431.9" y2="33.6" stroke="#0000ff" stroke-width="1.9" stroke-linecap="round"/>
<line x1="546.9" y1="33.6" x2="557.3" y2="33.6" stroke="#0000ff" stroke-width="1.9" stroke-linecap="round"/>
<line x1="572.9" y1="33.6" x2="573.7" y2="33.6" stroke="#0000ff" stroke-width="1.9" stroke-linecap="round"/>
<line x1="424.4" y1="186.5" x2="427.1" y2="186.5" stroke="#ff0000" stroke-width="1.9" stroke-linecap="round"/>
<line x1="535.2" y1="186.5" x2="539.7" y2="186.5" stroke="#ff0000" stroke-width="1.9" stroke-linecap="round"/>
<line x1="557.9" y1="186.5" x2="558.0" y2="186.5" stroke="#ff0000" stroke-width="1.9" stroke-linecap="round"/>
<line x1="404.1" y1="192.5" x2="406.1" y2="192.5" stroke="#ffa500" stroke-width="1.9" stroke-linecap="round"/>
<line x1="412.9" y1="192.5" x2="413.0" y2="192.5" stroke="#ffa500" stroke-width="1.9" stroke-linecap="round"/>
<line x1="419.3" y1="192.5" x2="419.3" y2="192.5" stroke="#ffa500" stroke-width="1.9" stroke-linecap="round"/>
<line x1="428.2" y1="192.5" x2="430.2" y2="192.5" stroke="#ffa500" stroke-width="1.9" stroke-linecap="round"/>
<line x1="440.9" y1="192.5" x2="445.4" y2="192.5" stroke="#ffa500" stroke-width="1.9" stroke-linecap="round"/>
<line x1="534.4" y1="192.5" x2="545.3" y2="192.5" stroke="#ffa500" stroke-width="1.9" stroke-linecap="round"/>
<line x1="552.9" y1="192.5" x2="553.7" y2="192.5" stroke="#ffa500" stroke-width="1.9" stroke-linecap="round"/>
<line x1="563.1" y1="192.5" x2="563.1" y2="192.5" stroke="#ffa500" stroke-width="1.9" stroke-linecap="round"/>
<line x1="572.4" y1="192.5" x2="576.4" y2="192.5" stroke="#ffa500" stroke-width="1.9" stroke-linecap="round"/>
<line x1="404.9" y1="198.5" x2="405.4" y2="198.5" stroke="#0000ff" stroke-width="1.9" stroke-linecap="round"/>
<line x1="419.8" y1="198.5" x2="423.8" y2="198.5" stroke="#0000ff" stroke-width="1.9" stroke-linecap="round"/>
<line x1="427.4" y1="198.5" x2="429.7" y2="198.5" stroke="#0000ff" stroke-width="1.9" stroke-linecap="round"/>
<line x1="442.1" y1="198.5" x2="443.6" y2="198.5" stroke="#0000ff" stroke-width="1.9" stroke-linecap="round"/>
<line x1="535.2" y1="198.5" x2="535.2" y2="198.5" stroke="#0000ff" stroke-width="1.9" stroke-linecap="round"/>
<line x1="538.5" y1="198.5" x2="541.0" y2="198.5" stroke="#0000ff" stroke-width="1.9" stroke-linecap="round"/>
<line x1="544.1" y1="198.5" x2="544.1" y2="198.5" stroke="#0000ff" stroke-width="1.9" stroke-linecap="round"/>
<line x1="554.7" y1="198.5" x2="572.1" y2="198.5" stroke="#0000ff" stroke-width="1.9" stroke-linecap="round"/>
<line x1="373.7" y1="352.6" x2="375.7" y2="352.6" stroke="#ff0000" stroke-width="1.9" stroke-linecap="round"/>
<line x1="396.5" y1="352.6" x2="406.1" y2="352.6" stroke="#ff0000" stroke-width="1.9" stroke-linecap="round"/>
<line x1="545.9" y1="352.6" x2="554.7" y2="352.6" stroke="#ff0000" stroke-width="1.9" stroke-linecap="round"/>
<line x1="558.6" y1="352.6" x2="566.9" y2="352.6" stroke="#ff0000" stroke-width="1.9" stroke-linecap="round"/>
<line x1="372.5" y1="358.7" x2="373.3" y2="358.7" stroke="#ffa500" stroke-width="1.9" stroke-linecap="round"/>
<line x1="376.1" y1="358.7" x2="377.0" y2="358.7" stroke="#ffa500" stroke-width="1.9" stroke-linecap="round"/>
<line x1="395.3" y1="358.7" x2="398.5" y2="358.7" stroke="#ffa500" stroke-width="1.9" stroke-linecap="round"/>
<line x1="405.9" y1="358.7" x2="408.7" y2="358.7" stroke="#ffa500" stroke-width="1.9" stroke-linecap="round"/>
<line x1="535.0" y1="358.7" x2="535.7" y2="358.7" stroke="#ffa500" stroke-width="1.9" stroke-linecap="round"/>
<line x1="545.9" y1="358.7" x2="545.9" y2="358.7" stroke="#ffa500" stroke-width="1.9" stroke-linecap="round"/>
<line x1="553.5" y1="358.7" x2="558.5" y2="358.7" stroke="#ffa500" stroke-width="1.9" stroke-linecap="round"/>
<line x1="567.9" y1="358.7" x2="567.9" y2="358.7" stroke="#ffa500" stroke-width="1.9" stroke-linecap="round"/>
<line x1="572.2" y1="358.7" x2="572.5" y2="358.7" stroke="#ffa500" stroke-width="1.9" stroke-linecap="round"/>
<line x1="576.8" y1="358.7" x2="576.8" y2="358.7" stroke="#ffa500" stroke-width="1.9" stroke-linecap="round"/>
<line x1="581.9" y1="358.7" x2="583.8" y2="358.7" stroke="#ffa500" stroke-width="1.9" stroke-linecap="round"/>
<line x1="372.5" y1="364.7" x2="372.5" y2="364.7" stroke="#0000ff" stroke-width="1.9" stroke-linecap="round"/>
<line x1="376.3" y1="364.7" x2="376.5" y2="364.7" stroke="#0000ff" stroke-width="1.9" stroke-linecap="round"/>
<line x1="405.4" y1="364.7" x2="407.9" y2="364.7" stroke="#0000ff" stroke-width="1.9" stroke-linecap="round"/>
<line x1="555.3" y1="364.7" x2="557.8" y2="364.7" stroke="#0000ff" stroke-width="1.9" stroke-linecap="round"/>
<line x1="567.2" y1="364.7" x2="572.5" y2="364.7" stroke="#0000ff" stroke-width="1.9" stroke-linecap="round"/>
<line x1="578.1" y1="364.7" x2="580.8" y2="364.7" stroke="#0000ff" stroke-width="1.9" stroke-linecap="round"/>
<rect x="22.90" y="134.00" width="303.90" height="3.5" fill="#fff"/>
<rect x="345.90" y="134.00" width="303.80" height="3.5" fill="#fff"/>
<rect x="22.90" y="298.70" width="303.90" height="3.5" fill="#fff"/>
<rect x="345.90" y="298.70" width="303.80" height="3.5" fill="#fff"/>
<rect x="22.90" y="465.40" width="303.90" height="3.5" fill="#fff"/>
<rect x="345.90" y="465.40" width="303.80" height="3.5" fill="#fff"/>
<rect x="22.40" y="15.50" width="304.90" height="120.50" fill="none" stroke="#8e8e8e" stroke-width="0.95"/>
<line x1="20.40" y1="136.00" x2="22.40" y2="136.00" stroke="#999" stroke-width="0.7"/>
<text x="18.30" y="138.50" font-size="6.3" fill="#707070" text-anchor="end">0</text>
<line x1="20.40" y1="111.90" x2="22.40" y2="111.90" stroke="#999" stroke-width="0.7"/>
<text x="18.30" y="114.40" font-size="6.3" fill="#707070" text-anchor="end">2</text>
<line x1="20.40" y1="87.80" x2="22.40" y2="87.80" stroke="#999" stroke-width="0.7"/>
<text x="18.30" y="90.30" font-size="6.3" fill="#707070" text-anchor="end">4</text>
<line x1="20.40" y1="63.70" x2="22.40" y2="63.70" stroke="#999" stroke-width="0.7"/>
<text x="18.30" y="66.20" font-size="6.3" fill="#707070" text-anchor="end">6</text>
<line x1="20.40" y1="39.60" x2="22.40" y2="39.60" stroke="#999" stroke-width="0.7"/>
<text x="18.30" y="42.10" font-size="6.3" fill="#707070" text-anchor="end">8</text>
<line x1="20.40" y1="15.50" x2="22.40" y2="15.50" stroke="#999" stroke-width="0.7"/>
<text x="18.30" y="18.00" font-size="6.3" fill="#707070" text-anchor="end">10</text>
<line x1="22.40" y1="136.00" x2="22.40" y2="138.00" stroke="#999" stroke-width="0.7"/>
<text x="14.95" y="144.40" font-size="6.2" fill="#555" textLength="14.9" lengthAdjust="spacingAndGlyphs">07:00</text>
<line x1="41.46" y1="136.00" x2="41.46" y2="138.00" stroke="#999" stroke-width="0.7"/>
<text x="34.01" y="144.40" font-size="6.2" fill="#555" textLength="14.9" lengthAdjust="spacingAndGlyphs">10:00</text>
<line x1="60.51" y1="136.00" x2="60.51" y2="138.00" stroke="#999" stroke-width="0.7"/>
<text x="53.06" y="144.40" font-size="6.2" fill="#555" textLength="14.9" lengthAdjust="spacingAndGlyphs">13:00</text>
<line x1="79.57" y1="136.00" x2="79.57" y2="138.00" stroke="#999" stroke-width="0.7"/>
<text x="72.12" y="144.40" font-size="6.2" fill="#555" textLength="14.9" lengthAdjust="spacingAndGlyphs">16:00</text>
<line x1="98.62" y1="136.00" x2="98.62" y2="138.00" stroke="#999" stroke-width="0.7"/>
<text x="91.17" y="144.40" font-size="6.2" fill="#555" textLength="14.9" lengthAdjust="spacingAndGlyphs">19:00</text>
<line x1="117.68" y1="136.00" x2="117.68" y2="138.00" stroke="#999" stroke-width="0.7"/>
<text x="110.23" y="144.40" font-size="6.2" fill="#555" textLength="14.9" lengthAdjust="spacingAndGlyphs">22:00</text>
<line x1="136.74" y1="136.00" x2="136.74" y2="138.00" stroke="#999" stroke-width="0.7"/>
<text x="129.29" y="144.40" font-size="6.2" fill="#555" textLength="14.9" lengthAdjust="spacingAndGlyphs">01:00</text>
<line x1="155.79" y1="136.00" x2="155.79" y2="138.00" stroke="#999" stroke-width="0.7"/>
<text x="148.34" y="144.40" font-size="6.2" fill="#555" textLength="14.9" lengthAdjust="spacingAndGlyphs">04:00</text>
<line x1="174.85" y1="136.00" x2="174.85" y2="138.00" stroke="#999" stroke-width="0.7"/>
<text x="167.40" y="144.40" font-size="6.2" fill="#555" textLength="14.9" lengthAdjust="spacingAndGlyphs">07:00</text>
<line x1="193.91" y1="136.00" x2="193.91" y2="138.00" stroke="#999" stroke-width="0.7"/>
<text x="186.46" y="144.40" font-size="6.2" fill="#555" textLength="14.9" lengthAdjust="spacingAndGlyphs">10:00</text>
<line x1="212.96" y1="136.00" x2="212.96" y2="138.00" stroke="#999" stroke-width="0.7"/>
<text x="205.51" y="144.40" font-size="6.2" fill="#555" textLength="14.9" lengthAdjust="spacingAndGlyphs">13:00</text>
<line x1="232.02" y1="136.00" x2="232.02" y2="138.00" stroke="#999" stroke-width="0.7"/>
<text x="224.57" y="144.40" font-size="6.2" fill="#555" textLength="14.9" lengthAdjust="spacingAndGlyphs">16:00</text>
<line x1="251.08" y1="136.00" x2="251.08" y2="138.00" stroke="#999" stroke-width="0.7"/>
<text x="243.63" y="144.40" font-size="6.2" fill="#555" textLength="14.9" lengthAdjust="spacingAndGlyphs">19:00</text>
<line x1="270.13" y1="136.00" x2="270.13" y2="138.00" stroke="#999" stroke-width="0.7"/>
<text x="262.68" y="144.40" font-size="6.2" fill="#555" textLength="14.9" lengthAdjust="spacingAndGlyphs">22:00</text>
<line x1="289.19" y1="136.00" x2="289.19" y2="138.00" stroke="#999" stroke-width="0.7"/>
<text x="281.74" y="144.40" font-size="6.2" fill="#555" textLength="14.9" lengthAdjust="spacingAndGlyphs">01:00</text>
<line x1="308.24" y1="136.00" x2="308.24" y2="138.00" stroke="#999" stroke-width="0.7"/>
<text x="300.79" y="144.40" font-size="6.2" fill="#555" textLength="14.9" lengthAdjust="spacingAndGlyphs">04:00</text>
<text x="21.50" y="9.30" font-size="11" fill="#3a3a3a" textLength="101.2" lengthAdjust="spacingAndGlyphs">(a) Serpong - Case 1</text>
<text x="22.60" y="155.10" font-size="10.2" fill="#3a3a3a" textLength="85.6" lengthAdjust="spacingAndGlyphs">31 December 2019</text>
<text x="153.40" y="155.10" font-size="10.2" fill="#3a3a3a" textLength="66.9" lengthAdjust="spacingAndGlyphs">1 January 2020</text>
<rect x="345.40" y="15.50" width="304.80" height="120.50" fill="none" stroke="#8e8e8e" stroke-width="0.95"/>
<line x1="343.40" y1="136.00" x2="345.40" y2="136.00" stroke="#999" stroke-width="0.7"/>
<text x="341.30" y="138.50" font-size="6.3" fill="#707070" text-anchor="end">0</text>
<line x1="343.40" y1="111.90" x2="345.40" y2="111.90" stroke="#999" stroke-width="0.7"/>
<text x="341.30" y="114.40" font-size="6.3" fill="#707070" text-anchor="end">2</text>
<line x1="343.40" y1="87.80" x2="345.40" y2="87.80" stroke="#999" stroke-width="0.7"/>
<text x="341.30" y="90.30" font-size="6.3" fill="#707070" text-anchor="end">4</text>
<line x1="343.40" y1="63.70" x2="345.40" y2="63.70" stroke="#999" stroke-width="0.7"/>
<text x="341.30" y="66.20" font-size="6.3" fill="#707070" text-anchor="end">6</text>
<line x1="343.40" y1="39.60" x2="345.40" y2="39.60" stroke="#999" stroke-width="0.7"/>
<text x="341.30" y="42.10" font-size="6.3" fill="#707070" text-anchor="end">8</text>
<line x1="343.40" y1="15.50" x2="345.40" y2="15.50" stroke="#999" stroke-width="0.7"/>
<text x="341.30" y="18.00" font-size="6.3" fill="#707070" text-anchor="end">10</text>
<line x1="345.40" y1="136.00" x2="345.40" y2="138.00" stroke="#999" stroke-width="0.7"/>
<text x="337.95" y="144.40" font-size="6.2" fill="#555" textLength="14.9" lengthAdjust="spacingAndGlyphs">07:00</text>
<line x1="364.45" y1="136.00" x2="364.45" y2="138.00" stroke="#999" stroke-width="0.7"/>
<text x="357.00" y="144.40" font-size="6.2" fill="#555" textLength="14.9" lengthAdjust="spacingAndGlyphs">10:00</text>
<line x1="383.50" y1="136.00" x2="383.50" y2="138.00" stroke="#999" stroke-width="0.7"/>
<text x="376.05" y="144.40" font-size="6.2" fill="#555" textLength="14.9" lengthAdjust="spacingAndGlyphs">13:00</text>
<line x1="402.55" y1="136.00" x2="402.55" y2="138.00" stroke="#999" stroke-width="0.7"/>
<text x="395.10" y="144.40" font-size="6.2" fill="#555" textLength="14.9" lengthAdjust="spacingAndGlyphs">16:00</text>
<line x1="421.60" y1="136.00" x2="421.60" y2="138.00" stroke="#999" stroke-width="0.7"/>
<text x="414.15" y="144.40" font-size="6.2" fill="#555" textLength="14.9" lengthAdjust="spacingAndGlyphs">19:00</text>
<line x1="440.65" y1="136.00" x2="440.65" y2="138.00" stroke="#999" stroke-width="0.7"/>
<text x="433.20" y="144.40" font-size="6.2" fill="#555" textLength="14.9" lengthAdjust="spacingAndGlyphs">22:00</text>
<line x1="459.70" y1="136.00" x2="459.70" y2="138.00" stroke="#999" stroke-width="0.7"/>
<text x="452.25" y="144.40" font-size="6.2" fill="#555" textLength="14.9" lengthAdjust="spacingAndGlyphs">01:00</text>
<line x1="478.75" y1="136.00" x2="478.75" y2="138.00" stroke="#999" stroke-width="0.7"/>
<text x="471.30" y="144.40" font-size="6.2" fill="#555" textLength="14.9" lengthAdjust="spacingAndGlyphs">04:00</text>
<line x1="497.80" y1="136.00" x2="497.80" y2="138.00" stroke="#999" stroke-width="0.7"/>
<text x="490.35" y="144.40" font-size="6.2" fill="#555" textLength="14.9" lengthAdjust="spacingAndGlyphs">07:00</text>
<line x1="516.85" y1="136.00" x2="516.85" y2="138.00" stroke="#999" stroke-width="0.7"/>
<text x="509.40" y="144.40" font-size="6.2" fill="#555" textLength="14.9" lengthAdjust="spacingAndGlyphs">10:00</text>
<line x1="535.90" y1="136.00" x2="535.90" y2="138.00" stroke="#999" stroke-width="0.7"/>
<text x="528.45" y="144.40" font-size="6.2" fill="#555" textLength="14.9" lengthAdjust="spacingAndGlyphs">13:00</text>
<line x1="554.95" y1="136.00" x2="554.95" y2="138.00" stroke="#999" stroke-width="0.7"/>
<text x="547.50" y="144.40" font-size="6.2" fill="#555" textLength="14.9" lengthAdjust="spacingAndGlyphs">16:00</text>
<line x1="574.00" y1="136.00" x2="574.00" y2="138.00" stroke="#999" stroke-width="0.7"/>
<text x="566.55" y="144.40" font-size="6.2" fill="#555" textLength="14.9" lengthAdjust="spacingAndGlyphs">19:00</text>
<line x1="593.05" y1="136.00" x2="593.05" y2="138.00" stroke="#999" stroke-width="0.7"/>
<text x="585.60" y="144.40" font-size="6.2" fill="#555" textLength="14.9" lengthAdjust="spacingAndGlyphs">22:00</text>
<line x1="612.10" y1="136.00" x2="612.10" y2="138.00" stroke="#999" stroke-width="0.7"/>
<text x="604.65" y="144.40" font-size="6.2" fill="#555" textLength="14.9" lengthAdjust="spacingAndGlyphs">01:00</text>
<line x1="631.15" y1="136.00" x2="631.15" y2="138.00" stroke="#999" stroke-width="0.7"/>
<text x="623.70" y="144.40" font-size="6.2" fill="#555" textLength="14.9" lengthAdjust="spacingAndGlyphs">04:00</text>
<text x="345.30" y="9.30" font-size="11" fill="#3a3a3a" textLength="102.3" lengthAdjust="spacingAndGlyphs">(d) Serpong - Case 3</text>
<text x="344.90" y="156.20" font-size="10.2" fill="#3a3a3a" textLength="70.1" lengthAdjust="spacingAndGlyphs">6 October 2022</text>
<text x="473.70" y="156.20" font-size="10.2" fill="#3a3a3a" textLength="70.6" lengthAdjust="spacingAndGlyphs">7 October 2022</text>
<rect x="22.40" y="180.50" width="304.90" height="120.20" fill="none" stroke="#8e8e8e" stroke-width="0.95"/>
<line x1="20.40" y1="300.70" x2="22.40" y2="300.70" stroke="#999" stroke-width="0.7"/>
<text x="18.30" y="303.20" font-size="6.3" fill="#707070" text-anchor="end">0</text>
<line x1="20.40" y1="276.66" x2="22.40" y2="276.66" stroke="#999" stroke-width="0.7"/>
<text x="18.30" y="279.16" font-size="6.3" fill="#707070" text-anchor="end">2</text>
<line x1="20.40" y1="252.62" x2="22.40" y2="252.62" stroke="#999" stroke-width="0.7"/>
<text x="18.30" y="255.12" font-size="6.3" fill="#707070" text-anchor="end">4</text>
<line x1="20.40" y1="228.58" x2="22.40" y2="228.58" stroke="#999" stroke-width="0.7"/>
<text x="18.30" y="231.08" font-size="6.3" fill="#707070" text-anchor="end">6</text>
<line x1="20.40" y1="204.54" x2="22.40" y2="204.54" stroke="#999" stroke-width="0.7"/>
<text x="18.30" y="207.04" font-size="6.3" fill="#707070" text-anchor="end">8</text>
<line x1="20.40" y1="180.50" x2="22.40" y2="180.50" stroke="#999" stroke-width="0.7"/>
<text x="18.30" y="183.00" font-size="6.3" fill="#707070" text-anchor="end">10</text>
<line x1="22.40" y1="300.70" x2="22.40" y2="302.70" stroke="#999" stroke-width="0.7"/>
<text x="14.95" y="309.10" font-size="6.2" fill="#555" textLength="14.9" lengthAdjust="spacingAndGlyphs">07:00</text>
<line x1="41.46" y1="300.70" x2="41.46" y2="302.70" stroke="#999" stroke-width="0.7"/>
<text x="34.01" y="309.10" font-size="6.2" fill="#555" textLength="14.9" lengthAdjust="spacingAndGlyphs">10:00</text>
<line x1="60.51" y1="300.70" x2="60.51" y2="302.70" stroke="#999" stroke-width="0.7"/>
<text x="53.06" y="309.10" font-size="6.2" fill="#555" textLength="14.9" lengthAdjust="spacingAndGlyphs">13:00</text>
<line x1="79.57" y1="300.70" x2="79.57" y2="302.70" stroke="#999" stroke-width="0.7"/>
<text x="72.12" y="309.10" font-size="6.2" fill="#555" textLength="14.9" lengthAdjust="spacingAndGlyphs">16:00</text>
<line x1="98.62" y1="300.70" x2="98.62" y2="302.70" stroke="#999" stroke-width="0.7"/>
<text x="91.17" y="309.10" font-size="6.2" fill="#555" textLength="14.9" lengthAdjust="spacingAndGlyphs">19:00</text>
<line x1="117.68" y1="300.70" x2="117.68" y2="302.70" stroke="#999" stroke-width="0.7"/>
<text x="110.23" y="309.10" font-size="6.2" fill="#555" textLength="14.9" lengthAdjust="spacingAndGlyphs">22:00</text>
<line x1="136.74" y1="300.70" x2="136.74" y2="302.70" stroke="#999" stroke-width="0.7"/>
<text x="129.29" y="309.10" font-size="6.2" fill="#555" textLength="14.9" lengthAdjust="spacingAndGlyphs">01:00</text>
<line x1="155.79" y1="300.70" x2="155.79" y2="302.70" stroke="#999" stroke-width="0.7"/>
<text x="148.34" y="309.10" font-size="6.2" fill="#555" textLength="14.9" lengthAdjust="spacingAndGlyphs">04:00</text>
<line x1="174.85" y1="300.70" x2="174.85" y2="302.70" stroke="#999" stroke-width="0.7"/>
<text x="167.40" y="309.10" font-size="6.2" fill="#555" textLength="14.9" lengthAdjust="spacingAndGlyphs">07:00</text>
<line x1="193.91" y1="300.70" x2="193.91" y2="302.70" stroke="#999" stroke-width="0.7"/>
<text x="186.46" y="309.10" font-size="6.2" fill="#555" textLength="14.9" lengthAdjust="spacingAndGlyphs">10:00</text>
<line x1="212.96" y1="300.70" x2="212.96" y2="302.70" stroke="#999" stroke-width="0.7"/>
<text x="205.51" y="309.10" font-size="6.2" fill="#555" textLength="14.9" lengthAdjust="spacingAndGlyphs">13:00</text>
<line x1="232.02" y1="300.70" x2="232.02" y2="302.70" stroke="#999" stroke-width="0.7"/>
<text x="224.57" y="309.10" font-size="6.2" fill="#555" textLength="14.9" lengthAdjust="spacingAndGlyphs">16:00</text>
<line x1="251.08" y1="300.70" x2="251.08" y2="302.70" stroke="#999" stroke-width="0.7"/>
<text x="243.63" y="309.10" font-size="6.2" fill="#555" textLength="14.9" lengthAdjust="spacingAndGlyphs">19:00</text>
<line x1="270.13" y1="300.70" x2="270.13" y2="302.70" stroke="#999" stroke-width="0.7"/>
<text x="262.68" y="309.10" font-size="6.2" fill="#555" textLength="14.9" lengthAdjust="spacingAndGlyphs">22:00</text>
<line x1="289.19" y1="300.70" x2="289.19" y2="302.70" stroke="#999" stroke-width="0.7"/>
<text x="281.74" y="309.10" font-size="6.2" fill="#555" textLength="14.9" lengthAdjust="spacingAndGlyphs">01:00</text>
<line x1="308.24" y1="300.70" x2="308.24" y2="302.70" stroke="#999" stroke-width="0.7"/>
<text x="300.79" y="309.10" font-size="6.2" fill="#555" textLength="14.9" lengthAdjust="spacingAndGlyphs">04:00</text>
<text x="21.90" y="173.70" font-size="11" fill="#3a3a3a" textLength="89.0" lengthAdjust="spacingAndGlyphs">(b) Bogor - Case 1</text>
<text x="21.70" y="320.50" font-size="10.2" fill="#3a3a3a" textLength="86.2" lengthAdjust="spacingAndGlyphs">31 December 2019</text>
<text x="154.90" y="320.50" font-size="10.2" fill="#3a3a3a" textLength="67.6" lengthAdjust="spacingAndGlyphs">1 January 2020</text>
<rect x="345.40" y="180.50" width="304.80" height="120.20" fill="none" stroke="#8e8e8e" stroke-width="0.95"/>
<line x1="343.40" y1="300.70" x2="345.40" y2="300.70" stroke="#999" stroke-width="0.7"/>
<text x="341.30" y="303.20" font-size="6.3" fill="#707070" text-anchor="end">0</text>
<line x1="343.40" y1="276.66" x2="345.40" y2="276.66" stroke="#999" stroke-width="0.7"/>
<text x="341.30" y="279.16" font-size="6.3" fill="#707070" text-anchor="end">2</text>
<line x1="343.40" y1="252.62" x2="345.40" y2="252.62" stroke="#999" stroke-width="0.7"/>
<text x="341.30" y="255.12" font-size="6.3" fill="#707070" text-anchor="end">4</text>
<line x1="343.40" y1="228.58" x2="345.40" y2="228.58" stroke="#999" stroke-width="0.7"/>
<text x="341.30" y="231.08" font-size="6.3" fill="#707070" text-anchor="end">6</text>
<line x1="343.40" y1="204.54" x2="345.40" y2="204.54" stroke="#999" stroke-width="0.7"/>
<text x="341.30" y="207.04" font-size="6.3" fill="#707070" text-anchor="end">8</text>
<line x1="343.40" y1="180.50" x2="345.40" y2="180.50" stroke="#999" stroke-width="0.7"/>
<text x="341.30" y="183.00" font-size="6.3" fill="#707070" text-anchor="end">10</text>
<line x1="345.40" y1="300.70" x2="345.40" y2="302.70" stroke="#999" stroke-width="0.7"/>
<text x="337.95" y="309.10" font-size="6.2" fill="#555" textLength="14.9" lengthAdjust="spacingAndGlyphs">07:00</text>
<line x1="364.45" y1="300.70" x2="364.45" y2="302.70" stroke="#999" stroke-width="0.7"/>
<text x="357.00" y="309.10" font-size="6.2" fill="#555" textLength="14.9" lengthAdjust="spacingAndGlyphs">10:00</text>
<line x1="383.50" y1="300.70" x2="383.50" y2="302.70" stroke="#999" stroke-width="0.7"/>
<text x="376.05" y="309.10" font-size="6.2" fill="#555" textLength="14.9" lengthAdjust="spacingAndGlyphs">13:00</text>
<line x1="402.55" y1="300.70" x2="402.55" y2="302.70" stroke="#999" stroke-width="0.7"/>
<text x="395.10" y="309.10" font-size="6.2" fill="#555" textLength="14.9" lengthAdjust="spacingAndGlyphs">16:00</text>
<line x1="421.60" y1="300.70" x2="421.60" y2="302.70" stroke="#999" stroke-width="0.7"/>
<text x="414.15" y="309.10" font-size="6.2" fill="#555" textLength="14.9" lengthAdjust="spacingAndGlyphs">19:00</text>
<line x1="440.65" y1="300.70" x2="440.65" y2="302.70" stroke="#999" stroke-width="0.7"/>
<text x="433.20" y="309.10" font-size="6.2" fill="#555" textLength="14.9" lengthAdjust="spacingAndGlyphs">22:00</text>
<line x1="459.70" y1="300.70" x2="459.70" y2="302.70" stroke="#999" stroke-width="0.7"/>
<text x="452.25" y="309.10" font-size="6.2" fill="#555" textLength="14.9" lengthAdjust="spacingAndGlyphs">01:00</text>
<line x1="478.75" y1="300.70" x2="478.75" y2="302.70" stroke="#999" stroke-width="0.7"/>
<text x="471.30" y="309.10" font-size="6.2" fill="#555" textLength="14.9" lengthAdjust="spacingAndGlyphs">04:00</text>
<line x1="497.80" y1="300.70" x2="497.80" y2="302.70" stroke="#999" stroke-width="0.7"/>
<text x="490.35" y="309.10" font-size="6.2" fill="#555" textLength="14.9" lengthAdjust="spacingAndGlyphs">07:00</text>
<line x1="516.85" y1="300.70" x2="516.85" y2="302.70" stroke="#999" stroke-width="0.7"/>
<text x="509.40" y="309.10" font-size="6.2" fill="#555" textLength="14.9" lengthAdjust="spacingAndGlyphs">10:00</text>
<line x1="535.90" y1="300.70" x2="535.90" y2="302.70" stroke="#999" stroke-width="0.7"/>
<text x="528.45" y="309.10" font-size="6.2" fill="#555" textLength="14.9" lengthAdjust="spacingAndGlyphs">13:00</text>
<line x1="554.95" y1="300.70" x2="554.95" y2="302.70" stroke="#999" stroke-width="0.7"/>
<text x="547.50" y="309.10" font-size="6.2" fill="#555" textLength="14.9" lengthAdjust="spacingAndGlyphs">16:00</text>
<line x1="574.00" y1="300.70" x2="574.00" y2="302.70" stroke="#999" stroke-width="0.7"/>
<text x="566.55" y="309.10" font-size="6.2" fill="#555" textLength="14.9" lengthAdjust="spacingAndGlyphs">19:00</text>
<line x1="593.05" y1="300.70" x2="593.05" y2="302.70" stroke="#999" stroke-width="0.7"/>
<text x="585.60" y="309.10" font-size="6.2" fill="#555" textLength="14.9" lengthAdjust="spacingAndGlyphs">22:00</text>
<line x1="612.10" y1="300.70" x2="612.10" y2="302.70" stroke="#999" stroke-width="0.7"/>
<text x="604.65" y="309.10" font-size="6.2" fill="#555" textLength="14.9" lengthAdjust="spacingAndGlyphs">01:00</text>
<line x1="631.15" y1="300.70" x2="631.15" y2="302.70" stroke="#999" stroke-width="0.7"/>
<text x="623.70" y="309.10" font-size="6.2" fill="#555" textLength="14.9" lengthAdjust="spacingAndGlyphs">04:00</text>
<text x="345.20" y="173.70" font-size="11" fill="#3a3a3a" textLength="89.7" lengthAdjust="spacingAndGlyphs">(e) Bogor - Case 3</text>
<text x="346.80" y="321.90" font-size="10.2" fill="#3a3a3a" textLength="70.8" lengthAdjust="spacingAndGlyphs">6 October 2022</text>
<text x="476.50" y="321.90" font-size="10.2" fill="#3a3a3a" textLength="70.7" lengthAdjust="spacingAndGlyphs">7 October 2022</text>
<rect x="22.40" y="346.60" width="304.90" height="120.80" fill="none" stroke="#8e8e8e" stroke-width="0.95"/>
<line x1="20.40" y1="467.40" x2="22.40" y2="467.40" stroke="#999" stroke-width="0.7"/>
<text x="18.30" y="469.90" font-size="6.3" fill="#707070" text-anchor="end">0</text>
<line x1="20.40" y1="443.24" x2="22.40" y2="443.24" stroke="#999" stroke-width="0.7"/>
<text x="18.30" y="445.74" font-size="6.3" fill="#707070" text-anchor="end">2</text>
<line x1="20.40" y1="419.08" x2="22.40" y2="419.08" stroke="#999" stroke-width="0.7"/>
<text x="18.30" y="421.58" font-size="6.3" fill="#707070" text-anchor="end">4</text>
<line x1="20.40" y1="394.92" x2="22.40" y2="394.92" stroke="#999" stroke-width="0.7"/>
<text x="18.30" y="397.42" font-size="6.3" fill="#707070" text-anchor="end">6</text>
<line x1="20.40" y1="370.76" x2="22.40" y2="370.76" stroke="#999" stroke-width="0.7"/>
<text x="18.30" y="373.26" font-size="6.3" fill="#707070" text-anchor="end">8</text>
<line x1="20.40" y1="346.60" x2="22.40" y2="346.60" stroke="#999" stroke-width="0.7"/>
<text x="18.30" y="349.10" font-size="6.3" fill="#707070" text-anchor="end">10</text>
<line x1="22.40" y1="467.40" x2="22.40" y2="469.40" stroke="#999" stroke-width="0.7"/>
<text x="14.95" y="475.80" font-size="6.2" fill="#555" textLength="14.9" lengthAdjust="spacingAndGlyphs">07:00</text>
<line x1="41.46" y1="467.40" x2="41.46" y2="469.40" stroke="#999" stroke-width="0.7"/>
<text x="34.01" y="475.80" font-size="6.2" fill="#555" textLength="14.9" lengthAdjust="spacingAndGlyphs">10:00</text>
<line x1="60.51" y1="467.40" x2="60.51" y2="469.40" stroke="#999" stroke-width="0.7"/>
<text x="53.06" y="475.80" font-size="6.2" fill="#555" textLength="14.9" lengthAdjust="spacingAndGlyphs">13:00</text>
<line x1="79.57" y1="467.40" x2="79.57" y2="469.40" stroke="#999" stroke-width="0.7"/>
<text x="72.12" y="475.80" font-size="6.2" fill="#555" textLength="14.9" lengthAdjust="spacingAndGlyphs">16:00</text>
<line x1="98.62" y1="467.40" x2="98.62" y2="469.40" stroke="#999" stroke-width="0.7"/>
<text x="91.17" y="475.80" font-size="6.2" fill="#555" textLength="14.9" lengthAdjust="spacingAndGlyphs">19:00</text>
<line x1="117.68" y1="467.40" x2="117.68" y2="469.40" stroke="#999" stroke-width="0.7"/>
<text x="110.23" y="475.80" font-size="6.2" fill="#555" textLength="14.9" lengthAdjust="spacingAndGlyphs">22:00</text>
<line x1="136.74" y1="467.40" x2="136.74" y2="469.40" stroke="#999" stroke-width="0.7"/>
<text x="129.29" y="475.80" font-size="6.2" fill="#555" textLength="14.9" lengthAdjust="spacingAndGlyphs">01:00</text>
<line x1="155.79" y1="467.40" x2="155.79" y2="469.40" stroke="#999" stroke-width="0.7"/>
<text x="148.34" y="475.80" font-size="6.2" fill="#555" textLength="14.9" lengthAdjust="spacingAndGlyphs">04:00</text>
<line x1="174.85" y1="467.40" x2="174.85" y2="469.40" stroke="#999" stroke-width="0.7"/>
<text x="167.40" y="475.80" font-size="6.2" fill="#555" textLength="14.9" lengthAdjust="spacingAndGlyphs">07:00</text>
<line x1="193.91" y1="467.40" x2="193.91" y2="469.40" stroke="#999" stroke-width="0.7"/>
<text x="186.46" y="475.80" font-size="6.2" fill="#555" textLength="14.9" lengthAdjust="spacingAndGlyphs">10:00</text>
<line x1="212.96" y1="467.40" x2="212.96" y2="469.40" stroke="#999" stroke-width="0.7"/>
<text x="205.51" y="475.80" font-size="6.2" fill="#555" textLength="14.9" lengthAdjust="spacingAndGlyphs">13:00</text>
<line x1="232.02" y1="467.40" x2="232.02" y2="469.40" stroke="#999" stroke-width="0.7"/>
<text x="224.57" y="475.80" font-size="6.2" fill="#555" textLength="14.9" lengthAdjust="spacingAndGlyphs">16:00</text>
<line x1="251.08" y1="467.40" x2="251.08" y2="469.40" stroke="#999" stroke-width="0.7"/>
<text x="243.63" y="475.80" font-size="6.2" fill="#555" textLength="14.9" lengthAdjust="spacingAndGlyphs">19:00</text>
<line x1="270.13" y1="467.40" x2="270.13" y2="469.40" stroke="#999" stroke-width="0.7"/>
<text x="262.68" y="475.80" font-size="6.2" fill="#555" textLength="14.9" lengthAdjust="spacingAndGlyphs">22:00</text>
<line x1="289.19" y1="467.40" x2="289.19" y2="469.40" stroke="#999" stroke-width="0.7"/>
<text x="281.74" y="475.80" font-size="6.2" fill="#555" textLength="14.9" lengthAdjust="spacingAndGlyphs">01:00</text>
<line x1="308.24" y1="467.40" x2="308.24" y2="469.40" stroke="#999" stroke-width="0.7"/>
<text x="300.79" y="475.80" font-size="6.2" fill="#555" textLength="14.9" lengthAdjust="spacingAndGlyphs">04:00</text>
<text x="21.80" y="340.00" font-size="11" fill="#3a3a3a" textLength="100.6" lengthAdjust="spacingAndGlyphs">(c) Serpong - Case 2</text>
<text x="19.30" y="488.00" font-size="10.2" fill="#3a3a3a" textLength="55.0" lengthAdjust="spacingAndGlyphs">15 July 2022</text>
<text x="148.90" y="488.00" font-size="10.2" fill="#3a3a3a" textLength="54.3" lengthAdjust="spacingAndGlyphs">16 July 2022</text>
<rect x="345.40" y="346.60" width="304.80" height="120.80" fill="none" stroke="#8e8e8e" stroke-width="0.95"/>
<line x1="343.40" y1="467.40" x2="345.40" y2="467.40" stroke="#999" stroke-width="0.7"/>
<text x="341.30" y="469.90" font-size="6.3" fill="#707070" text-anchor="end">0</text>
<line x1="343.40" y1="443.24" x2="345.40" y2="443.24" stroke="#999" stroke-width="0.7"/>
<text x="341.30" y="445.74" font-size="6.3" fill="#707070" text-anchor="end">2</text>
<line x1="343.40" y1="419.08" x2="345.40" y2="419.08" stroke="#999" stroke-width="0.7"/>
<text x="341.30" y="421.58" font-size="6.3" fill="#707070" text-anchor="end">4</text>
<line x1="343.40" y1="394.92" x2="345.40" y2="394.92" stroke="#999" stroke-width="0.7"/>
<text x="341.30" y="397.42" font-size="6.3" fill="#707070" text-anchor="end">6</text>
<line x1="343.40" y1="370.76" x2="345.40" y2="370.76" stroke="#999" stroke-width="0.7"/>
<text x="341.30" y="373.26" font-size="6.3" fill="#707070" text-anchor="end">8</text>
<line x1="343.40" y1="346.60" x2="345.40" y2="346.60" stroke="#999" stroke-width="0.7"/>
<text x="341.30" y="349.10" font-size="6.3" fill="#707070" text-anchor="end">10</text>
<line x1="345.40" y1="467.40" x2="345.40" y2="469.40" stroke="#999" stroke-width="0.7"/>
<text x="337.95" y="475.80" font-size="6.2" fill="#555" textLength="14.9" lengthAdjust="spacingAndGlyphs">07:00</text>
<line x1="364.45" y1="467.40" x2="364.45" y2="469.40" stroke="#999" stroke-width="0.7"/>
<text x="357.00" y="475.80" font-size="6.2" fill="#555" textLength="14.9" lengthAdjust="spacingAndGlyphs">10:00</text>
<line x1="383.50" y1="467.40" x2="383.50" y2="469.40" stroke="#999" stroke-width="0.7"/>
<text x="376.05" y="475.80" font-size="6.2" fill="#555" textLength="14.9" lengthAdjust="spacingAndGlyphs">13:00</text>
<line x1="402.55" y1="467.40" x2="402.55" y2="469.40" stroke="#999" stroke-width="0.7"/>
<text x="395.10" y="475.80" font-size="6.2" fill="#555" textLength="14.9" lengthAdjust="spacingAndGlyphs">16:00</text>
<line x1="421.60" y1="467.40" x2="421.60" y2="469.40" stroke="#999" stroke-width="0.7"/>
<text x="414.15" y="475.80" font-size="6.2" fill="#555" textLength="14.9" lengthAdjust="spacingAndGlyphs">19:00</text>
<line x1="440.65" y1="467.40" x2="440.65" y2="469.40" stroke="#999" stroke-width="0.7"/>
<text x="433.20" y="475.80" font-size="6.2" fill="#555" textLength="14.9" lengthAdjust="spacingAndGlyphs">22:00</text>
<line x1="459.70" y1="467.40" x2="459.70" y2="469.40" stroke="#999" stroke-width="0.7"/>
<text x="452.25" y="475.80" font-size="6.2" fill="#555" textLength="14.9" lengthAdjust="spacingAndGlyphs">01:00</text>
<line x1="478.75" y1="467.40" x2="478.75" y2="469.40" stroke="#999" stroke-width="0.7"/>
<text x="471.30" y="475.80" font-size="6.2" fill="#555" textLength="14.9" lengthAdjust="spacingAndGlyphs">04:00</text>
<line x1="497.80" y1="467.40" x2="497.80" y2="469.40" stroke="#999" stroke-width="0.7"/>
<text x="490.35" y="475.80" font-size="6.2" fill="#555" textLength="14.9" lengthAdjust="spacingAndGlyphs">07:00</text>
<line x1="516.85" y1="467.40" x2="516.85" y2="469.40" stroke="#999" stroke-width="0.7"/>
<text x="509.40" y="475.80" font-size="6.2" fill="#555" textLength="14.9" lengthAdjust="spacingAndGlyphs">10:00</text>
<line x1="535.90" y1="467.40" x2="535.90" y2="469.40" stroke="#999" stroke-width="0.7"/>
<text x="528.45" y="475.80" font-size="6.2" fill="#555" textLength="14.9" lengthAdjust="spacingAndGlyphs">13:00</text>
<line x1="554.95" y1="467.40" x2="554.95" y2="469.40" stroke="#999" stroke-width="0.7"/>
<text x="547.50" y="475.80" font-size="6.2" fill="#555" textLength="14.9" lengthAdjust="spacingAndGlyphs">16:00</text>
<line x1="574.00" y1="467.40" x2="574.00" y2="469.40" stroke="#999" stroke-width="0.7"/>
<text x="566.55" y="475.80" font-size="6.2" fill="#555" textLength="14.9" lengthAdjust="spacingAndGlyphs">19:00</text>
<line x1="593.05" y1="467.40" x2="593.05" y2="469.40" stroke="#999" stroke-width="0.7"/>
<text x="585.60" y="475.80" font-size="6.2" fill="#555" textLength="14.9" lengthAdjust="spacingAndGlyphs">22:00</text>
<line x1="612.10" y1="467.40" x2="612.10" y2="469.40" stroke="#999" stroke-width="0.7"/>
<text x="604.65" y="475.80" font-size="6.2" fill="#555" textLength="14.9" lengthAdjust="spacingAndGlyphs">01:00</text>
<line x1="631.15" y1="467.40" x2="631.15" y2="469.40" stroke="#999" stroke-width="0.7"/>
<text x="623.70" y="475.80" font-size="6.2" fill="#555" textLength="14.9" lengthAdjust="spacingAndGlyphs">04:00</text>
<text x="345.20" y="338.80" font-size="11" fill="#3a3a3a" textLength="87.8" lengthAdjust="spacingAndGlyphs">(f) Bogor - Case 3</text>
<text x="343.30" y="487.50" font-size="10.2" fill="#3a3a3a" textLength="75.0" lengthAdjust="spacingAndGlyphs">11 October 2022</text>
<text x="475.40" y="487.50" font-size="10.2" fill="#3a3a3a" textLength="76.0" lengthAdjust="spacingAndGlyphs">12 October 2022</text>
<text transform="translate(8.0,103.50) rotate(-90)" font-size="8.6" fill="#3a3a3a" textLength="56" lengthAdjust="spacingAndGlyphs">Diameter [mm]</text>
<text transform="translate(8.0,292.35) rotate(-90)" font-size="8.6" fill="#3a3a3a" textLength="55.5" lengthAdjust="spacingAndGlyphs">Diameter [mm]</text>
<text transform="translate(8.0,431.15) rotate(-90)" font-size="8.6" fill="#3a3a3a" textLength="51.3" lengthAdjust="spacingAndGlyphs">Diameter [mm]</text>
<text x="97.4" y="503.6" font-size="10.2" fill="#3a3a3a" textLength="96.4" lengthAdjust="spacingAndGlyphs">Local Time (UTC+7)</text>
<text x="421.8" y="503.6" font-size="10.2" fill="#3a3a3a" textLength="97.4" lengthAdjust="spacingAndGlyphs">Local Time (UTC+7)</text>
<text x="654.00" y="20.80" font-size="5.4" fill="#ff4040" opacity="0.7" textLength="27.5" lengthAdjust="spacingAndGlyphs">CONVECTIVE</text>
<text x="654.00" y="26.90" font-size="5.4" fill="#ffa040" opacity="0.7" textLength="28.7" lengthAdjust="spacingAndGlyphs">MIX CNV-STR</text>
<text x="654.00" y="33.00" font-size="5.4" fill="#4848ff" opacity="0.7" textLength="27.9" lengthAdjust="spacingAndGlyphs">STRATIFORM</text>
<text x="654.00" y="188.50" font-size="5.4" fill="#ff4040" opacity="0.7" textLength="27.5" lengthAdjust="spacingAndGlyphs">CONVECTIVE</text>
<text x="654.00" y="194.60" font-size="5.4" fill="#ffa040" opacity="0.7" textLength="28.7" lengthAdjust="spacingAndGlyphs">MIX CNV-STR</text>
<text x="654.00" y="200.70" font-size="5.4" fill="#4848ff" opacity="0.7" textLength="27.9" lengthAdjust="spacingAndGlyphs">STRATIFORM</text>
<text x="656.00" y="353.00" font-size="5.4" fill="#ff4040" opacity="0.7" textLength="27.5" lengthAdjust="spacingAndGlyphs">CONVECTIVE</text>
<text x="656.00" y="359.10" font-size="5.4" fill="#ffa040" opacity="0.7" textLength="28.7" lengthAdjust="spacingAndGlyphs">MIX CNV-STR</text>
<text x="656.00" y="365.20" font-size="5.4" fill="#4848ff" opacity="0.7" textLength="27.9" lengthAdjust="spacingAndGlyphs">STRATIFORM</text>
<rect x="657.80" y="127.17" width="8.3" height="6.23" fill="#6628fe"/>
<rect x="657.80" y="121.24" width="8.3" height="6.23" fill="#3374f8"/>
<rect x="657.80" y="115.31" width="8.3" height="6.23" fill="#00b4ec"/>
<rect x="657.80" y="109.38" width="8.3" height="6.23" fill="#33e3d9"/>
<rect x="657.80" y="103.45" width="8.3" height="6.23" fill="#66fcc2"/>
<rect x="657.80" y="97.52" width="8.3" height="6.23" fill="#99fca5"/>
<rect x="657.80" y="91.59" width="8.3" height="6.23" fill="#cce385"/>
<rect x="657.80" y="85.66" width="8.3" height="6.23" fill="#ffb462"/>
<rect x="657.80" y="79.73" width="8.3" height="6.23" fill="#ff743b"/>
<rect x="657.80" y="73.80" width="8.3" height="6.23" fill="#ff2814"/>
<polygon points="657.80,74.00 666.10,74.00 661.95,70.60" fill="#ff0000"/>
<line x1="666.10" y1="133.10" x2="667.80" y2="133.10" stroke="#555" stroke-width="0.5"/>
<text x="669.80" y="135.40" font-size="6.6" fill="#444">0</text>
<line x1="666.10" y1="121.24" x2="667.80" y2="121.24" stroke="#555" stroke-width="0.5"/>
<text x="669.80" y="123.54" font-size="6.6" fill="#444">20</text>
<line x1="666.10" y1="109.38" x2="667.80" y2="109.38" stroke="#555" stroke-width="0.5"/>
<text x="669.80" y="111.68" font-size="6.6" fill="#444">40</text>
<line x1="666.10" y1="97.52" x2="667.80" y2="97.52" stroke="#555" stroke-width="0.5"/>
<text x="669.80" y="99.82" font-size="6.6" fill="#444">60</text>
<line x1="666.10" y1="85.66" x2="667.80" y2="85.66" stroke="#555" stroke-width="0.5"/>
<text x="669.80" y="87.96" font-size="6.6" fill="#444">80</text>
<line x1="666.10" y1="73.80" x2="667.80" y2="73.80" stroke="#555" stroke-width="0.5"/>
<text x="669.80" y="76.10" font-size="6.6" fill="#444">100</text>
<text x="653.90" y="62.80" font-size="5" fill="#777" textLength="23.2" lengthAdjust="spacingAndGlyphs">Number of</text>
<text x="655.00" y="67.60" font-size="5" fill="#777" textLength="19.9" lengthAdjust="spacingAndGlyphs">drops (n)</text>
<rect x="658.10" y="294.78" width="8.3" height="6.22" fill="#6628fe"/>
<rect x="658.10" y="288.86" width="8.3" height="6.22" fill="#3374f8"/>
<rect x="658.10" y="282.94" width="8.3" height="6.22" fill="#00b4ec"/>
<rect x="658.10" y="277.02" width="8.3" height="6.22" fill="#33e3d9"/>
<rect x="658.10" y="271.10" width="8.3" height="6.22" fill="#66fcc2"/>
<rect x="658.10" y="265.18" width="8.3" height="6.22" fill="#99fca5"/>
<rect x="658.10" y="259.26" width="8.3" height="6.22" fill="#cce385"/>
<rect x="658.10" y="253.34" width="8.3" height="6.22" fill="#ffb462"/>
<rect x="658.10" y="247.42" width="8.3" height="6.22" fill="#ff743b"/>
<rect x="658.10" y="241.50" width="8.3" height="6.22" fill="#ff2814"/>
<polygon points="658.10,241.70 666.40,241.70 662.25,238.30" fill="#ff0000"/>
<line x1="666.40" y1="300.70" x2="668.10" y2="300.70" stroke="#555" stroke-width="0.5"/>
<text x="670.10" y="303.00" font-size="6.6" fill="#444">0</text>
<line x1="666.40" y1="288.86" x2="668.10" y2="288.86" stroke="#555" stroke-width="0.5"/>
<text x="670.10" y="291.16" font-size="6.6" fill="#444">20</text>
<line x1="666.40" y1="277.02" x2="668.10" y2="277.02" stroke="#555" stroke-width="0.5"/>
<text x="670.10" y="279.32" font-size="6.6" fill="#444">40</text>
<line x1="666.40" y1="265.18" x2="668.10" y2="265.18" stroke="#555" stroke-width="0.5"/>
<text x="670.10" y="267.48" font-size="6.6" fill="#444">60</text>
<line x1="666.40" y1="253.34" x2="668.10" y2="253.34" stroke="#555" stroke-width="0.5"/>
<text x="670.10" y="255.64" font-size="6.6" fill="#444">80</text>
<line x1="666.40" y1="241.50" x2="668.10" y2="241.50" stroke="#555" stroke-width="0.5"/>
<text x="670.10" y="243.80" font-size="6.6" fill="#444">100</text>
<text x="654.20" y="230.50" font-size="5" fill="#777" textLength="23.2" lengthAdjust="spacingAndGlyphs">Number of</text>
<text x="655.30" y="235.30" font-size="5" fill="#777" textLength="19.9" lengthAdjust="spacingAndGlyphs">drops (n)</text>
<rect x="659.90" y="459.48" width="8.3" height="6.22" fill="#6628fe"/>
<rect x="659.90" y="453.56" width="8.3" height="6.22" fill="#3374f8"/>
<rect x="659.90" y="447.64" width="8.3" height="6.22" fill="#00b4ec"/>
<rect x="659.90" y="441.72" width="8.3" height="6.22" fill="#33e3d9"/>
<rect x="659.90" y="435.80" width="8.3" height="6.22" fill="#66fcc2"/>
<rect x="659.90" y="429.88" width="8.3" height="6.22" fill="#99fca5"/>
<rect x="659.90" y="423.96" width="8.3" height="6.22" fill="#cce385"/>
<rect x="659.90" y="418.04" width="8.3" height="6.22" fill="#ffb462"/>
<rect x="659.90" y="412.12" width="8.3" height="6.22" fill="#ff743b"/>
<rect x="659.90" y="406.20" width="8.3" height="6.22" fill="#ff2814"/>
<polygon points="659.90,406.40 668.20,406.40 664.05,403.00" fill="#ff0000"/>
<line x1="668.20" y1="465.40" x2="669.90" y2="465.40" stroke="#555" stroke-width="0.5"/>
<text x="671.90" y="467.70" font-size="6.6" fill="#444">0</text>
<line x1="668.20" y1="453.56" x2="669.90" y2="453.56" stroke="#555" stroke-width="0.5"/>
<text x="671.90" y="455.86" font-size="6.6" fill="#444">20</text>
<line x1="668.20" y1="441.72" x2="669.90" y2="441.72" stroke="#555" stroke-width="0.5"/>
<text x="671.90" y="444.02" font-size="6.6" fill="#444">40</text>
<line x1="668.20" y1="429.88" x2="669.90" y2="429.88" stroke="#555" stroke-width="0.5"/>
<text x="671.90" y="432.18" font-size="6.6" fill="#444">60</text>
<line x1="668.20" y1="418.04" x2="669.90" y2="418.04" stroke="#555" stroke-width="0.5"/>
<text x="671.90" y="420.34" font-size="6.6" fill="#444">80</text>
<line x1="668.20" y1="406.20" x2="669.90" y2="406.20" stroke="#555" stroke-width="0.5"/>
<text x="671.90" y="408.50" font-size="6.6" fill="#444">100</text>
<text x="656.00" y="395.20" font-size="5" fill="#777" textLength="23.2" lengthAdjust="spacingAndGlyphs">Number of</text>
<text x="657.10" y="400.00" font-size="5" fill="#777" textLength="19.9" lengthAdjust="spacingAndGlyphs">drops (n)</text>
</g>
</svg></body></html>
